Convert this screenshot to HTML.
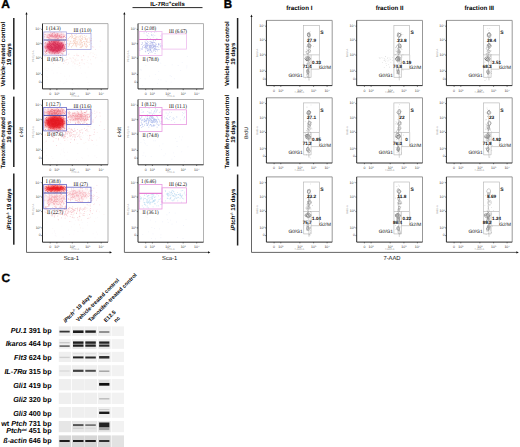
<!DOCTYPE html>
<html><head><meta charset="utf-8"><style>
html,body{margin:0;padding:0;background:#fff;}
body{width:520px;height:447px;overflow:hidden;}
svg{display:block;}
svg text{font-family:"Liberation Sans",sans-serif;text-rendering:geometricPrecision;}
</style></head><body>
<svg width="520" height="447" viewBox="0 0 520 447">
<defs>
<filter id="b1" x="-50%" y="-50%" width="200%" height="200%"><feGaussianBlur stdDeviation="1.8"/></filter>
<filter id="b2" x="-20%" y="-100%" width="140%" height="300%"><feGaussianBlur stdDeviation="0.6"/></filter>
</defs>
<rect width="520" height="447" fill="#fff"/>
<text x="1.2" y="8.3" font-size="12" font-weight="bold" text-anchor="start" fill="#000" stroke="#000" stroke-width="0.35">A</text>
<text x="223.7" y="8.4" font-size="11.6" font-weight="bold" text-anchor="start" fill="#000" stroke="#000" stroke-width="0.35">B</text>
<text x="1.5" y="282.3" font-size="12" font-weight="bold" text-anchor="start" fill="#000" stroke="#000" stroke-width="0.35">C</text>
<rect x="13.05" y="18" width="1.5" height="71.5" fill="#222" stroke="none" stroke-width="1"/>
<rect x="13.05" y="96.6" width="1.5" height="70.4" fill="#222" stroke="none" stroke-width="1"/>
<rect x="13.05" y="173.5" width="1.5" height="71.2" fill="#222" stroke="none" stroke-width="1"/>
<text x="5.3" y="54.2" font-size="6.0" font-weight="bold" text-anchor="middle" fill="#000" transform="rotate(-90 5.3 54.2)">Vehicle-treated control</text>
<text x="11" y="54.2" font-size="6.0" font-weight="bold" text-anchor="middle" fill="#000" transform="rotate(-90 11 54.2)">19 days</text>
<text x="5.3" y="131.8" font-size="6.0" font-weight="bold" text-anchor="middle" fill="#000" transform="rotate(-90 5.3 131.8)">Tamoxifen-treated control</text>
<text x="11" y="131.8" font-size="6.0" font-weight="bold" text-anchor="middle" fill="#000" transform="rotate(-90 11 131.8)">19 days</text>
<text x="11" y="209.2" font-size="6" font-weight="bold" text-anchor="middle" transform="rotate(-90 11 209.2)"><tspan font-style="italic">iPtch</tspan><tspan font-size="3.6" dy="-2">-/-</tspan><tspan dy="2"> 19 days</tspan></text>
<rect x="236.85" y="18" width="1.5" height="70.5" fill="#222" stroke="none" stroke-width="1"/>
<rect x="236.85" y="97" width="1.5" height="69.5" fill="#222" stroke="none" stroke-width="1"/>
<rect x="236.85" y="174.5" width="1.5" height="71" fill="#222" stroke="none" stroke-width="1"/>
<text x="229" y="53.7" font-size="6.0" font-weight="bold" text-anchor="middle" fill="#000" transform="rotate(-90 229 53.7)">Vehicle-treated control</text>
<text x="234.7" y="53.7" font-size="6.0" font-weight="bold" text-anchor="middle" fill="#000" transform="rotate(-90 234.7 53.7)">19 days</text>
<text x="229" y="131.7" font-size="6.0" font-weight="bold" text-anchor="middle" fill="#000" transform="rotate(-90 229 131.7)">Tamoxifen-treated control</text>
<text x="234.7" y="131.7" font-size="6.0" font-weight="bold" text-anchor="middle" fill="#000" transform="rotate(-90 234.7 131.7)">19 days</text>
<text x="234.7" y="209.5" font-size="6" font-weight="bold" text-anchor="middle" transform="rotate(-90 234.7 209.5)"><tspan font-style="italic">iPtch</tspan><tspan font-size="3.6" dy="-2">-/-</tspan><tspan dy="2"> 19 days</tspan></text>
<line x1="26.5" y1="13" x2="26.5" y2="252.4" stroke="#555" stroke-width="0.9"/>
<path d="M25.4 14.4L26.5 12L27.6 14.4z" fill="#111"/>
<line x1="26.5" y1="252.4" x2="110.5" y2="252.4" stroke="#555" stroke-width="0.9"/>
<path d="M109.6 251.3L112 252.4L109.6 253.5z" fill="#111"/>
<text x="71.3" y="259.8" font-size="5.8" font-weight="normal" text-anchor="middle" fill="#111">Sca-1</text>
<text x="23.5" y="132.3" font-size="5.5" font-weight="normal" text-anchor="middle" fill="#111" transform="rotate(-90 23.5 132.3)">c-kit</text>
<line x1="124.4" y1="13" x2="124.4" y2="252.4" stroke="#555" stroke-width="0.9"/>
<path d="M123.3 14.4L124.4 12L125.5 14.4z" fill="#111"/>
<line x1="124.4" y1="252.4" x2="208.9" y2="252.4" stroke="#555" stroke-width="0.9"/>
<path d="M208 251.3L210.4 252.4L208 253.5z" fill="#111"/>
<text x="169.7" y="259.8" font-size="5.8" font-weight="normal" text-anchor="middle" fill="#111">Sca-1</text>
<text x="121.4" y="132.3" font-size="5.5" font-weight="normal" text-anchor="middle" fill="#111" transform="rotate(-90 121.4 132.3)">c-kit</text>
<text x="167.5" y="6.0" font-size="6" font-weight="bold" text-anchor="middle">IL-7R<tspan font-weight="normal">α</tspan><tspan font-size="4.6" dy="-2.2">+</tspan><tspan dy="2.2">cells</tspan></text>
<line x1="132.5" y1="7.6" x2="202.5" y2="7.6" stroke="#111" stroke-width="0.9"/>
<path d="M60.99 58.28h0.8v0.8h-0.8zM78.65 55.64h0.8v0.8h-0.8zM72.44 65.52h0.8v0.8h-0.8zM46.63 70.3h0.8v0.8h-0.8zM45.52 67.81h0.8v0.8h-0.8zM47.27 56.26h0.8v0.8h-0.8zM66.42 81.06h0.8v0.8h-0.8zM50.19 60.72h0.8v0.8h-0.8zM77.38 85.14h0.8v0.8h-0.8zM74.66 66.57h0.8v0.8h-0.8zM96.22 54.77h0.8v0.8h-0.8zM89.86 62.96h0.8v0.8h-0.8zM51.29 57.17h0.8v0.8h-0.8zM60.16 80.7h0.8v0.8h-0.8zM53.26 72.8h0.8v0.8h-0.8zM78 65.75h0.8v0.8h-0.8zM73.08 55.32h0.8v0.8h-0.8zM46.72 60.14h0.8v0.8h-0.8zM80.24 67.61h0.8v0.8h-0.8zM60.46 72.93h0.8v0.8h-0.8zM67.97 63.3h0.8v0.8h-0.8zM86.4 76.76h0.8v0.8h-0.8zM56.68 72.56h0.8v0.8h-0.8zM71.86 82.69h0.8v0.8h-0.8zM82.89 62.9h0.8v0.8h-0.8zM96.43 57.18h0.8v0.8h-0.8zM66.08 78.72h0.8v0.8h-0.8zM51.71 69.68h0.8v0.8h-0.8zM45.62 75.72h0.8v0.8h-0.8zM84.79 72.51h0.8v0.8h-0.8zM90.78 63.77h0.8v0.8h-0.8zM81.05 73.23h0.8v0.8h-0.8zM74.81 68.57h0.8v0.8h-0.8zM88.86 85.04h0.8v0.8h-0.8zM69.1 75.58h0.8v0.8h-0.8zM46.78 76.84h0.8v0.8h-0.8zM78.44 86.67h0.8v0.8h-0.8zM87.88 62.79h0.8v0.8h-0.8zM64.33 75.73h0.8v0.8h-0.8zM44.72 68.76h0.8v0.8h-0.8zM52.57 57.15h0.8v0.8h-0.8zM46.68 79.09h0.8v0.8h-0.8zM50.48 61.54h0.8v0.8h-0.8zM64.61 82.57h0.8v0.8h-0.8zM47.85 68.34h0.8v0.8h-0.8zM73.17 82.97h0.8v0.8h-0.8zM87.74 82.32h0.8v0.8h-0.8zM58.53 67.2h0.8v0.8h-0.8zM62.87 83h0.8v0.8h-0.8zM95.22 58.29h0.8v0.8h-0.8z" fill="#e0c8dc" fill-opacity="0.2"/>
<path d="M81.4 62.45h0.8v0.8h-0.8zM78.94 64.93h0.8v0.8h-0.8zM69.56 57.13h0.8v0.8h-0.8zM90 59.33h0.8v0.8h-0.8zM66.93 63.93h0.8v0.8h-0.8zM95.09 56.98h0.8v0.8h-0.8zM60.94 58.53h0.8v0.8h-0.8zM75.71 57.71h0.8v0.8h-0.8zM94.36 54.07h0.8v0.8h-0.8zM92.63 52.86h0.8v0.8h-0.8zM68.06 62.36h0.8v0.8h-0.8zM91.04 63.5h0.8v0.8h-0.8zM81.64 59.91h0.8v0.8h-0.8zM79.33 62.08h0.8v0.8h-0.8zM75.39 60.59h0.8v0.8h-0.8zM84.37 59.2h0.8v0.8h-0.8zM86.67 62.03h0.8v0.8h-0.8zM101.63 60.82h0.8v0.8h-0.8zM72.37 57.34h0.8v0.8h-0.8zM77.34 63.82h0.8v0.8h-0.8zM73.46 61.13h0.8v0.8h-0.8zM99.55 46.38h0.8v0.8h-0.8zM64.01 60.42h0.8v0.8h-0.8zM82.28 60.39h0.8v0.8h-0.8zM72.33 62.48h0.8v0.8h-0.8zM80.89 56.59h0.8v0.8h-0.8zM70.85 58.7h0.8v0.8h-0.8zM74.79 58.89h0.8v0.8h-0.8zM44.76 56.77h0.8v0.8h-0.8zM89.6 53.36h0.8v0.8h-0.8zM76.7 63.97h0.8v0.8h-0.8zM87.77 66.66h0.8v0.8h-0.8zM57.08 57.43h0.8v0.8h-0.8zM73.41 62.32h0.8v0.8h-0.8zM90.6 45.79h0.8v0.8h-0.8zM90.56 51.96h0.8v0.8h-0.8zM85.7 51.74h0.8v0.8h-0.8zM79.61 65.17h0.8v0.8h-0.8zM75.71 60.16h0.8v0.8h-0.8zM87.07 59.91h0.8v0.8h-0.8z" fill="#f0c0b0" fill-opacity="0.25"/>
<path d="M63.35 63.1h0.8v0.8h-0.8zM78.13 54.88h0.8v0.8h-0.8zM76.39 55h0.8v0.8h-0.8zM66.22 59.37h0.8v0.8h-0.8zM67.39 59.07h0.8v0.8h-0.8zM80.96 59.56h0.8v0.8h-0.8zM74.46 63.35h0.8v0.8h-0.8zM52.93 63.22h0.8v0.8h-0.8zM77.34 55.4h0.8v0.8h-0.8zM63.25 53.49h0.8v0.8h-0.8zM69.69 58.04h0.8v0.8h-0.8zM79.27 62.89h0.8v0.8h-0.8zM83.38 55.39h0.8v0.8h-0.8zM54.83 60.78h0.8v0.8h-0.8zM66 56.76h0.8v0.8h-0.8zM83.01 55.01h0.8v0.8h-0.8zM68.62 53.45h0.8v0.8h-0.8zM64.38 59.95h0.8v0.8h-0.8zM65.53 62.17h0.8v0.8h-0.8zM63.7 60.88h0.8v0.8h-0.8zM83.89 63.44h0.8v0.8h-0.8zM55.77 60.16h0.8v0.8h-0.8zM48.48 56.14h0.8v0.8h-0.8zM62 56.07h0.8v0.8h-0.8zM56.81 57.25h0.8v0.8h-0.8zM87.79 56.4h0.8v0.8h-0.8zM71.4 60.7h0.8v0.8h-0.8zM57.28 61.03h0.8v0.8h-0.8zM77.6 59.77h0.8v0.8h-0.8zM64.6 59.82h0.8v0.8h-0.8zM44.17 53.32h0.8v0.8h-0.8zM76.5 53.66h0.8v0.8h-0.8zM52.77 52.73h0.8v0.8h-0.8zM44.59 55.67h0.8v0.8h-0.8zM49.17 57.84h0.8v0.8h-0.8zM73.92 54.96h0.8v0.8h-0.8zM68.28 54.14h0.8v0.8h-0.8zM74.64 59.56h0.8v0.8h-0.8zM73.16 57.67h0.8v0.8h-0.8zM81.84 59.17h0.8v0.8h-0.8z" fill="#f09098" fill-opacity="0.35"/>
<path d="M94.98 49.26h0.8v0.8h-0.8zM89.02 38.58h0.8v0.8h-0.8zM92.84 55.94h0.8v0.8h-0.8zM85.86 45.54h0.8v0.8h-0.8zM99.93 40.68h0.8v0.8h-0.8zM93.31 46.82h0.8v0.8h-0.8zM85.97 40.87h0.8v0.8h-0.8zM91.96 46.35h0.8v0.8h-0.8zM90.33 40.23h0.8v0.8h-0.8zM85.42 39.25h0.8v0.8h-0.8z" fill="#f07888" fill-opacity="0.3"/>
<ellipse cx="55" cy="46.8" rx="10" ry="6.5" fill="#e02850" opacity="0.8" filter="url(#b1)"/>
<path d="M59.9 46.91h0.8v0.8h-0.8zM50.31 43.13h0.8v0.8h-0.8zM58.42 48.42h0.8v0.8h-0.8zM64.26 48.21h0.8v0.8h-0.8zM54.63 48.59h0.8v0.8h-0.8zM44.31 50.63h0.8v0.8h-0.8zM56.79 43.69h0.8v0.8h-0.8zM62.29 53.74h0.8v0.8h-0.8zM47.29 43.83h0.8v0.8h-0.8zM56.6 47.23h0.8v0.8h-0.8zM52.81 42.6h0.8v0.8h-0.8zM48.43 41.12h0.8v0.8h-0.8zM64.37 50.46h0.8v0.8h-0.8zM65.02 49.74h0.8v0.8h-0.8zM50.2 47.54h0.8v0.8h-0.8zM54.68 48.59h0.8v0.8h-0.8zM51 46h0.8v0.8h-0.8zM57.52 48.01h0.8v0.8h-0.8zM58.51 47.34h0.8v0.8h-0.8zM53.22 49.66h0.8v0.8h-0.8zM55.27 43.2h0.8v0.8h-0.8zM51.56 46.5h0.8v0.8h-0.8zM54.4 47.13h0.8v0.8h-0.8zM55 47.2h0.8v0.8h-0.8zM54.26 41.47h0.8v0.8h-0.8zM57.32 50.71h0.8v0.8h-0.8zM57.39 45.74h0.8v0.8h-0.8zM57.46 42.64h0.8v0.8h-0.8zM44.57 46.74h0.8v0.8h-0.8zM49.88 49.46h0.8v0.8h-0.8zM49.28 52.81h0.8v0.8h-0.8zM52.9 41.02h0.8v0.8h-0.8zM50.8 48.58h0.8v0.8h-0.8zM57.73 47.21h0.8v0.8h-0.8zM63.16 49.33h0.8v0.8h-0.8zM54.88 48.89h0.8v0.8h-0.8zM64.1 50.39h0.8v0.8h-0.8zM60.63 42.17h0.8v0.8h-0.8zM54.18 49.42h0.8v0.8h-0.8zM53.37 50.78h0.8v0.8h-0.8zM58.28 50.13h0.8v0.8h-0.8zM61.82 45.64h0.8v0.8h-0.8zM53.11 50h0.8v0.8h-0.8zM60.39 46.53h0.8v0.8h-0.8zM48.58 47.25h0.8v0.8h-0.8zM56.98 51.02h0.8v0.8h-0.8zM59.31 46.6h0.8v0.8h-0.8zM59.69 48.66h0.8v0.8h-0.8zM56.13 46.72h0.8v0.8h-0.8zM53.66 49.24h0.8v0.8h-0.8zM49.2 43.99h0.8v0.8h-0.8zM55.03 40.64h0.8v0.8h-0.8zM51.24 48.77h0.8v0.8h-0.8zM58.12 46.28h0.8v0.8h-0.8zM53.72 40.83h0.8v0.8h-0.8zM65.05 48.56h0.8v0.8h-0.8zM61.01 42.97h0.8v0.8h-0.8zM59.29 50.24h0.8v0.8h-0.8zM44.56 46.29h0.8v0.8h-0.8zM44.96 42.24h0.8v0.8h-0.8zM51.54 40.89h0.8v0.8h-0.8zM55.17 47.5h0.8v0.8h-0.8zM58.49 49.31h0.8v0.8h-0.8zM63.26 51.16h0.8v0.8h-0.8zM47.78 44.48h0.8v0.8h-0.8zM49.17 42.19h0.8v0.8h-0.8zM54.55 46.52h0.8v0.8h-0.8zM57.7 40.15h0.8v0.8h-0.8zM48.19 46.41h0.8v0.8h-0.8zM53.9 45.25h0.8v0.8h-0.8zM54.65 43.46h0.8v0.8h-0.8zM58.86 47.92h0.8v0.8h-0.8zM54.52 43.81h0.8v0.8h-0.8zM49.6 46.65h0.8v0.8h-0.8zM46.73 47.3h0.8v0.8h-0.8zM55.81 40.99h0.8v0.8h-0.8zM53.62 45.24h0.8v0.8h-0.8zM57.53 48.95h0.8v0.8h-0.8zM54.8 43.09h0.8v0.8h-0.8zM54.21 46.24h0.8v0.8h-0.8zM59.04 47.68h0.8v0.8h-0.8zM51.03 41.08h0.8v0.8h-0.8zM52.95 43.54h0.8v0.8h-0.8zM48.88 46.04h0.8v0.8h-0.8zM52.3 46.92h0.8v0.8h-0.8zM57.88 44.85h0.8v0.8h-0.8zM61.06 46.99h0.8v0.8h-0.8zM50.87 47.49h0.8v0.8h-0.8zM56.77 51.62h0.8v0.8h-0.8zM59.22 50.29h0.8v0.8h-0.8zM57.81 45.88h0.8v0.8h-0.8zM57.8 42.19h0.8v0.8h-0.8zM61.5 42.43h0.8v0.8h-0.8zM56.37 54.98h0.8v0.8h-0.8zM53.77 46.58h0.8v0.8h-0.8zM61.4 46.6h0.8v0.8h-0.8zM50.56 47.53h0.8v0.8h-0.8zM58.2 49.34h0.8v0.8h-0.8zM50.75 53.51h0.8v0.8h-0.8zM64.17 46.57h0.8v0.8h-0.8zM56.48 44.79h0.8v0.8h-0.8zM62.78 43.68h0.8v0.8h-0.8zM58.71 44.58h0.8v0.8h-0.8zM51.18 49.37h0.8v0.8h-0.8zM62.34 46.46h0.8v0.8h-0.8zM51.27 49.75h0.8v0.8h-0.8zM54.73 47.74h0.8v0.8h-0.8zM63.38 51.03h0.8v0.8h-0.8zM55.02 49.64h0.8v0.8h-0.8zM51.44 46.32h0.8v0.8h-0.8zM45.38 53.65h0.8v0.8h-0.8zM62.51 41.64h0.8v0.8h-0.8zM46.72 40.02h0.8v0.8h-0.8zM61.47 44.66h0.8v0.8h-0.8zM54.67 45.25h0.8v0.8h-0.8zM54.33 42.15h0.8v0.8h-0.8zM55.13 40.75h0.8v0.8h-0.8zM54.61 47.73h0.8v0.8h-0.8zM57.57 45.57h0.8v0.8h-0.8zM50.03 47.14h0.8v0.8h-0.8zM52.33 52.76h0.8v0.8h-0.8zM59.22 46.04h0.8v0.8h-0.8zM52.41 43.69h0.8v0.8h-0.8zM49.85 45.09h0.8v0.8h-0.8zM56.62 48.56h0.8v0.8h-0.8zM58.13 54.89h0.8v0.8h-0.8zM51.12 46.55h0.8v0.8h-0.8zM52.13 47.18h0.8v0.8h-0.8zM55.85 48.13h0.8v0.8h-0.8zM53.69 47.96h0.8v0.8h-0.8zM55.29 49.59h0.8v0.8h-0.8zM44.59 42.96h0.8v0.8h-0.8zM54.99 42.37h0.8v0.8h-0.8zM49.25 49.01h0.8v0.8h-0.8zM51.43 49.04h0.8v0.8h-0.8zM59.1 47.73h0.8v0.8h-0.8zM57.79 46.08h0.8v0.8h-0.8zM47.25 46.38h0.8v0.8h-0.8zM57.5 44.38h0.8v0.8h-0.8zM54.45 49.5h0.8v0.8h-0.8zM50.17 49.06h0.8v0.8h-0.8zM65.24 44.28h0.8v0.8h-0.8zM55.81 45.9h0.8v0.8h-0.8zM63.47 47.77h0.8v0.8h-0.8zM59.94 43.74h0.8v0.8h-0.8zM54.91 46.46h0.8v0.8h-0.8zM45.23 52.26h0.8v0.8h-0.8zM59.09 45.98h0.8v0.8h-0.8zM57.47 47.97h0.8v0.8h-0.8zM46.76 45.65h0.8v0.8h-0.8zM63.21 44.2h0.8v0.8h-0.8zM49.37 41.06h0.8v0.8h-0.8zM48.28 47.84h0.8v0.8h-0.8zM64.31 48.22h0.8v0.8h-0.8zM52.14 43.8h0.8v0.8h-0.8zM57.91 48.69h0.8v0.8h-0.8zM49.42 41.82h0.8v0.8h-0.8zM56.6 47.49h0.8v0.8h-0.8zM47.81 45.69h0.8v0.8h-0.8zM52.02 48.34h0.8v0.8h-0.8zM54.36 46.16h0.8v0.8h-0.8zM53.06 50.71h0.8v0.8h-0.8zM62.65 45.03h0.8v0.8h-0.8zM59.65 43.47h0.8v0.8h-0.8zM55.4 49.5h0.8v0.8h-0.8zM63.33 44.97h0.8v0.8h-0.8zM54.59 47.29h0.8v0.8h-0.8zM46.76 46.56h0.8v0.8h-0.8zM51.28 47.99h0.8v0.8h-0.8zM55.21 47.54h0.8v0.8h-0.8zM51.98 50.06h0.8v0.8h-0.8zM53.5 44.08h0.8v0.8h-0.8zM57.63 40.23h0.8v0.8h-0.8zM51.27 46.42h0.8v0.8h-0.8zM59.67 45.85h0.8v0.8h-0.8zM56.7 43.88h0.8v0.8h-0.8zM56.66 53.15h0.8v0.8h-0.8zM51.46 46.57h0.8v0.8h-0.8zM55.95 50.6h0.8v0.8h-0.8zM58.33 49.68h0.8v0.8h-0.8zM56.13 47.52h0.8v0.8h-0.8zM60.11 47.98h0.8v0.8h-0.8zM64.15 41.55h0.8v0.8h-0.8zM59.47 45.01h0.8v0.8h-0.8zM60.08 55.12h0.8v0.8h-0.8zM54.97 45.48h0.8v0.8h-0.8zM52.25 43.15h0.8v0.8h-0.8zM51.53 49.06h0.8v0.8h-0.8zM55.2 46.77h0.8v0.8h-0.8zM54.05 50.16h0.8v0.8h-0.8zM57.72 45.93h0.8v0.8h-0.8zM58.66 45.89h0.8v0.8h-0.8zM48.66 52.32h0.8v0.8h-0.8zM57.56 42.67h0.8v0.8h-0.8zM60.93 47.88h0.8v0.8h-0.8zM46.4 52.94h0.8v0.8h-0.8zM56.83 50.07h0.8v0.8h-0.8zM56.09 45.9h0.8v0.8h-0.8zM46.49 50.39h0.8v0.8h-0.8zM55.17 45.35h0.8v0.8h-0.8zM56.93 46.81h0.8v0.8h-0.8zM58.72 45.02h0.8v0.8h-0.8zM52.67 49.2h0.8v0.8h-0.8zM62.35 45.04h0.8v0.8h-0.8zM54.33 52.83h0.8v0.8h-0.8zM53.21 49.44h0.8v0.8h-0.8zM64.23 46.66h0.8v0.8h-0.8zM61.75 43.66h0.8v0.8h-0.8zM56.14 46.19h0.8v0.8h-0.8zM55.63 51.02h0.8v0.8h-0.8zM51.84 48.49h0.8v0.8h-0.8zM49.2 48.49h0.8v0.8h-0.8zM58.15 45.39h0.8v0.8h-0.8zM57.92 40.3h0.8v0.8h-0.8zM59.18 40.32h0.8v0.8h-0.8zM51.17 44.28h0.8v0.8h-0.8zM52.79 49.94h0.8v0.8h-0.8zM55.45 44.91h0.8v0.8h-0.8zM57.99 52.83h0.8v0.8h-0.8zM55.03 47.96h0.8v0.8h-0.8zM61.82 47.57h0.8v0.8h-0.8zM54.78 48.17h0.8v0.8h-0.8zM60.31 49.18h0.8v0.8h-0.8zM53.5 42.28h0.8v0.8h-0.8zM55.57 50.63h0.8v0.8h-0.8zM49.01 42.39h0.8v0.8h-0.8zM53.57 44.75h0.8v0.8h-0.8zM57.48 43.69h0.8v0.8h-0.8zM50.15 44.92h0.8v0.8h-0.8zM54.73 43.84h0.8v0.8h-0.8zM55.07 49.5h0.8v0.8h-0.8zM61.52 53.32h0.8v0.8h-0.8zM50.69 44.82h0.8v0.8h-0.8zM51.01 46.37h0.8v0.8h-0.8zM57.87 41.07h0.8v0.8h-0.8zM57.55 46.39h0.8v0.8h-0.8zM44.96 47.67h0.8v0.8h-0.8zM59.44 47.34h0.8v0.8h-0.8zM57.61 48.27h0.8v0.8h-0.8zM62.17 45.61h0.8v0.8h-0.8zM59.8 44.86h0.8v0.8h-0.8zM59 43.24h0.8v0.8h-0.8zM54.4 53.42h0.8v0.8h-0.8zM57.45 45.87h0.8v0.8h-0.8zM48.7 43.34h0.8v0.8h-0.8zM56.07 50.26h0.8v0.8h-0.8zM57.34 48.6h0.8v0.8h-0.8zM54.77 51.91h0.8v0.8h-0.8zM52.85 44.3h0.8v0.8h-0.8zM59.88 46.75h0.8v0.8h-0.8zM53.47 44.2h0.8v0.8h-0.8zM53.59 48.99h0.8v0.8h-0.8zM56.95 41.66h0.8v0.8h-0.8zM57.34 47.22h0.8v0.8h-0.8zM49.5 49.59h0.8v0.8h-0.8zM53.46 45.16h0.8v0.8h-0.8zM59.38 51.78h0.8v0.8h-0.8zM51.21 48.25h0.8v0.8h-0.8zM52.28 51.28h0.8v0.8h-0.8zM51.44 49.75h0.8v0.8h-0.8zM52.61 48.5h0.8v0.8h-0.8zM54.49 43.83h0.8v0.8h-0.8zM45.96 49.92h0.8v0.8h-0.8zM45.53 51.1h0.8v0.8h-0.8zM51.82 47.08h0.8v0.8h-0.8zM61.94 46.97h0.8v0.8h-0.8zM61.5 49.46h0.8v0.8h-0.8zM50.51 49.94h0.8v0.8h-0.8zM57.73 49.09h0.8v0.8h-0.8zM59.95 49.43h0.8v0.8h-0.8zM55.93 48.47h0.8v0.8h-0.8zM53.19 46.64h0.8v0.8h-0.8zM59.87 44.73h0.8v0.8h-0.8zM61.31 43.35h0.8v0.8h-0.8zM56.47 44.39h0.8v0.8h-0.8zM55.87 43.74h0.8v0.8h-0.8zM46.21 50.87h0.8v0.8h-0.8zM56.67 44.27h0.8v0.8h-0.8zM56.11 50.46h0.8v0.8h-0.8zM49.62 46.06h0.8v0.8h-0.8z" fill="#c81040" fill-opacity="0.55"/>
<ellipse cx="55" cy="35.9" rx="10" ry="2.6" fill="#f07890" opacity="0.45" filter="url(#b1)"/>
<path d="M58.73 36.85h0.8v0.8h-0.8zM53.49 32.11h0.8v0.8h-0.8zM62.96 36.49h0.8v0.8h-0.8zM55.58 35.4h0.8v0.8h-0.8zM57.08 35.13h0.8v0.8h-0.8zM49.35 34.57h0.8v0.8h-0.8zM51.92 34.8h0.8v0.8h-0.8zM48.55 37.05h0.8v0.8h-0.8zM47.64 37.09h0.8v0.8h-0.8zM49.41 36.53h0.8v0.8h-0.8zM63.74 36.27h0.8v0.8h-0.8zM51.12 35.99h0.8v0.8h-0.8zM56.39 32.78h0.8v0.8h-0.8zM51.85 36.19h0.8v0.8h-0.8zM52.68 36.04h0.8v0.8h-0.8zM59.9 37.28h0.8v0.8h-0.8zM60.93 36.96h0.8v0.8h-0.8zM53.77 35.87h0.8v0.8h-0.8zM53.87 35.34h0.8v0.8h-0.8zM54.42 32.8h0.8v0.8h-0.8zM53.5 35.86h0.8v0.8h-0.8zM49.66 35.86h0.8v0.8h-0.8zM58.59 35.6h0.8v0.8h-0.8zM54.26 32.61h0.8v0.8h-0.8zM58.61 35.36h0.8v0.8h-0.8zM60.61 36.57h0.8v0.8h-0.8zM55.64 34.84h0.8v0.8h-0.8zM59.33 35.03h0.8v0.8h-0.8zM56.84 34.98h0.8v0.8h-0.8zM56.71 37.26h0.8v0.8h-0.8zM50.24 35.84h0.8v0.8h-0.8zM59.2 36.16h0.8v0.8h-0.8zM62.95 39.48h0.8v0.8h-0.8zM50.05 32.44h0.8v0.8h-0.8zM60.64 38.65h0.8v0.8h-0.8zM61.03 37.37h0.8v0.8h-0.8zM51.79 34.62h0.8v0.8h-0.8zM60.83 34.26h0.8v0.8h-0.8zM44.62 34.1h0.8v0.8h-0.8zM51.38 34.59h0.8v0.8h-0.8zM56.89 34.55h0.8v0.8h-0.8zM63.36 35.76h0.8v0.8h-0.8zM48.98 38.26h0.8v0.8h-0.8zM52 36.3h0.8v0.8h-0.8zM55.42 35.33h0.8v0.8h-0.8zM57.45 34.65h0.8v0.8h-0.8zM44.43 31.93h0.8v0.8h-0.8zM47.9 34.53h0.8v0.8h-0.8zM55.36 36h0.8v0.8h-0.8zM58.84 36.12h0.8v0.8h-0.8zM50.74 34.62h0.8v0.8h-0.8zM58.41 36.85h0.8v0.8h-0.8zM54.77 35.59h0.8v0.8h-0.8zM61.12 35.93h0.8v0.8h-0.8zM59.93 36.95h0.8v0.8h-0.8zM56.78 38.25h0.8v0.8h-0.8zM52.06 35.25h0.8v0.8h-0.8zM50.65 34.47h0.8v0.8h-0.8zM64.84 39.07h0.8v0.8h-0.8zM55.64 36.92h0.8v0.8h-0.8zM62.55 37.35h0.8v0.8h-0.8zM62.73 33.63h0.8v0.8h-0.8zM51.66 36.71h0.8v0.8h-0.8zM64.11 36.09h0.8v0.8h-0.8zM50.35 35.26h0.8v0.8h-0.8zM51.54 34.36h0.8v0.8h-0.8zM64.51 34.77h0.8v0.8h-0.8zM55.62 39.79h0.8v0.8h-0.8zM62.61 36.51h0.8v0.8h-0.8zM51.83 36.64h0.8v0.8h-0.8zM65.23 37.02h0.8v0.8h-0.8zM63.07 36.08h0.8v0.8h-0.8zM58.6 35.54h0.8v0.8h-0.8zM58.06 38.24h0.8v0.8h-0.8zM46.91 35.79h0.8v0.8h-0.8zM56.94 34.87h0.8v0.8h-0.8zM53.65 37.32h0.8v0.8h-0.8zM57.46 33.11h0.8v0.8h-0.8zM55.3 33.89h0.8v0.8h-0.8zM55.16 33.93h0.8v0.8h-0.8zM55.93 36.74h0.8v0.8h-0.8zM55.69 36.4h0.8v0.8h-0.8zM50.39 38.47h0.8v0.8h-0.8zM51.58 32.63h0.8v0.8h-0.8zM54.37 34.53h0.8v0.8h-0.8zM49.44 35.26h0.8v0.8h-0.8zM57.25 33.77h0.8v0.8h-0.8zM54.67 38.47h0.8v0.8h-0.8zM59.6 35.63h0.8v0.8h-0.8zM56.27 35.68h0.8v0.8h-0.8zM55.21 37.22h0.8v0.8h-0.8zM55.37 34.3h0.8v0.8h-0.8zM59.41 34.8h0.8v0.8h-0.8zM56.39 39.82h0.8v0.8h-0.8zM49.22 33.88h0.8v0.8h-0.8zM44.23 36.56h0.8v0.8h-0.8zM51.67 32.54h0.8v0.8h-0.8zM46.6 37.01h0.8v0.8h-0.8zM50.85 35.24h0.8v0.8h-0.8zM57.48 38.34h0.8v0.8h-0.8zM56.36 36.23h0.8v0.8h-0.8zM66.31 38.47h0.8v0.8h-0.8zM53.64 36.72h0.8v0.8h-0.8zM57.22 35.99h0.8v0.8h-0.8zM52.5 33.51h0.8v0.8h-0.8zM52.3 33.12h0.8v0.8h-0.8zM62.84 36.87h0.8v0.8h-0.8zM48.26 38.41h0.8v0.8h-0.8zM60.85 32.46h0.8v0.8h-0.8zM58.68 36.66h0.8v0.8h-0.8z" fill="#e04060" fill-opacity="0.5"/>
<path d="M79.91 41.5h0.8v0.8h-0.8zM85.87 35.67h0.8v0.8h-0.8zM69.81 36.02h0.8v0.8h-0.8zM74.6 38.78h0.8v0.8h-0.8zM81.07 41.83h0.8v0.8h-0.8zM78.72 38.53h0.8v0.8h-0.8zM75.41 44.23h0.8v0.8h-0.8zM83.85 41.25h0.8v0.8h-0.8zM76.24 46.34h0.8v0.8h-0.8zM74.34 43.17h0.8v0.8h-0.8zM86.58 39.97h0.8v0.8h-0.8zM84.28 37h0.8v0.8h-0.8zM85.59 41.6h0.8v0.8h-0.8zM67.39 43.24h0.8v0.8h-0.8zM72.25 45.39h0.8v0.8h-0.8zM73.75 40.32h0.8v0.8h-0.8zM80.48 39.74h0.8v0.8h-0.8zM80.32 38.96h0.8v0.8h-0.8zM83.2 40.92h0.8v0.8h-0.8zM86.63 41.01h0.8v0.8h-0.8zM81.77 44.65h0.8v0.8h-0.8zM70.92 46.31h0.8v0.8h-0.8zM77.38 49.28h0.8v0.8h-0.8zM77.48 43.28h0.8v0.8h-0.8zM75.93 36.99h0.8v0.8h-0.8zM86.18 44.07h0.8v0.8h-0.8zM89.27 43.9h0.8v0.8h-0.8zM74.49 35.08h0.8v0.8h-0.8zM73.95 38.54h0.8v0.8h-0.8zM72.79 42.94h0.8v0.8h-0.8zM80.79 39.96h0.8v0.8h-0.8zM79.71 40.39h0.8v0.8h-0.8zM79.99 43.53h0.8v0.8h-0.8zM85.22 38.5h0.8v0.8h-0.8zM67.95 45.9h0.8v0.8h-0.8zM79.3 44.77h0.8v0.8h-0.8zM67 39.75h0.8v0.8h-0.8zM78.69 35.85h0.8v0.8h-0.8zM74.89 43.44h0.8v0.8h-0.8zM86.05 46.48h0.8v0.8h-0.8zM72.45 36h0.8v0.8h-0.8zM82.14 44.19h0.8v0.8h-0.8zM79.85 36.34h0.8v0.8h-0.8zM83.97 43.67h0.8v0.8h-0.8zM82.37 39.2h0.8v0.8h-0.8zM80.63 43.67h0.8v0.8h-0.8zM74.59 34.45h0.8v0.8h-0.8zM80.8 42.58h0.8v0.8h-0.8zM78.59 44.01h0.8v0.8h-0.8zM74.39 40.61h0.8v0.8h-0.8zM76.36 42.9h0.8v0.8h-0.8zM89.67 40.02h0.8v0.8h-0.8zM84.03 42.95h0.8v0.8h-0.8zM90.9 40.27h0.8v0.8h-0.8zM77.72 37.18h0.8v0.8h-0.8zM81.81 45.61h0.8v0.8h-0.8zM82.23 42.38h0.8v0.8h-0.8zM77.1 41.49h0.8v0.8h-0.8zM68.52 44.57h0.8v0.8h-0.8zM75.63 37.03h0.8v0.8h-0.8zM73.24 38.01h0.8v0.8h-0.8zM84.49 44.6h0.8v0.8h-0.8zM69 44.14h0.8v0.8h-0.8zM84.72 38.87h0.8v0.8h-0.8zM68.09 38.29h0.8v0.8h-0.8zM74.06 42.1h0.8v0.8h-0.8zM76 33.8h0.8v0.8h-0.8zM80.14 35.53h0.8v0.8h-0.8zM84.84 36.68h0.8v0.8h-0.8zM73.65 37.91h0.8v0.8h-0.8zM74.7 45.44h0.8v0.8h-0.8zM84.46 43.01h0.8v0.8h-0.8zM80.74 35.48h0.8v0.8h-0.8zM74.86 38.97h0.8v0.8h-0.8zM71.66 42.68h0.8v0.8h-0.8zM73.31 38.42h0.8v0.8h-0.8zM71.19 33.7h0.8v0.8h-0.8zM82.67 45.56h0.8v0.8h-0.8zM79.72 37.48h0.8v0.8h-0.8zM87.01 41.94h0.8v0.8h-0.8zM84.99 46.07h0.8v0.8h-0.8zM86.39 39.36h0.8v0.8h-0.8zM85.87 43.61h0.8v0.8h-0.8zM67.74 39.48h0.8v0.8h-0.8zM68.53 40.52h0.8v0.8h-0.8zM82.55 37.16h0.8v0.8h-0.8zM81.14 46.05h0.8v0.8h-0.8zM69.23 44.61h0.8v0.8h-0.8zM77.03 41.84h0.8v0.8h-0.8zM77.42 44.39h0.8v0.8h-0.8zM85.76 41.2h0.8v0.8h-0.8zM68.99 43.49h0.8v0.8h-0.8zM75.21 43.1h0.8v0.8h-0.8zM80.34 46.58h0.8v0.8h-0.8zM86.46 39.32h0.8v0.8h-0.8zM80.94 47.07h0.8v0.8h-0.8zM74.74 42.42h0.8v0.8h-0.8zM86.84 45.3h0.8v0.8h-0.8zM82.13 36.28h0.8v0.8h-0.8zM69.67 41.77h0.8v0.8h-0.8zM72.47 44.88h0.8v0.8h-0.8zM83.89 35.05h0.8v0.8h-0.8zM72.77 41.48h0.8v0.8h-0.8zM75.05 40.36h0.8v0.8h-0.8zM81.79 38.07h0.8v0.8h-0.8zM81.76 38.67h0.8v0.8h-0.8zM74.69 42.78h0.8v0.8h-0.8zM74.49 41.91h0.8v0.8h-0.8zM89.7 40.99h0.8v0.8h-0.8zM77.48 43.47h0.8v0.8h-0.8zM75.94 44.69h0.8v0.8h-0.8zM69.52 43.06h0.8v0.8h-0.8zM74.92 38.1h0.8v0.8h-0.8zM90.89 37.92h0.8v0.8h-0.8zM90.8 43.2h0.8v0.8h-0.8zM88.67 37.48h0.8v0.8h-0.8zM86.89 46h0.8v0.8h-0.8zM77.69 40.45h0.8v0.8h-0.8zM75.54 38.7h0.8v0.8h-0.8zM81.62 42.06h0.8v0.8h-0.8zM79.74 46.93h0.8v0.8h-0.8zM76.21 42.56h0.8v0.8h-0.8zM88.71 37.39h0.8v0.8h-0.8zM85.77 47.31h0.8v0.8h-0.8zM69.02 37.06h0.8v0.8h-0.8zM71.23 34.44h0.8v0.8h-0.8zM81.67 34.4h0.8v0.8h-0.8zM81.99 45.99h0.8v0.8h-0.8zM67.19 39.79h0.8v0.8h-0.8zM73.34 39.97h0.8v0.8h-0.8zM78.88 42.81h0.8v0.8h-0.8zM76.07 40.95h0.8v0.8h-0.8zM74.67 41.3h0.8v0.8h-0.8zM70.29 41.12h0.8v0.8h-0.8zM69.68 41.8h0.8v0.8h-0.8zM71.69 35.12h0.8v0.8h-0.8zM73.34 43.48h0.8v0.8h-0.8zM81.19 40.56h0.8v0.8h-0.8zM72.01 37.12h0.8v0.8h-0.8zM87.95 41.76h0.8v0.8h-0.8zM71.84 33.51h0.8v0.8h-0.8zM70.46 40.63h0.8v0.8h-0.8zM79.97 40.35h0.8v0.8h-0.8zM76.55 36.09h0.8v0.8h-0.8zM71.14 46.81h0.8v0.8h-0.8zM73.21 43.86h0.8v0.8h-0.8zM66.64 39.94h0.8v0.8h-0.8zM80.33 44.53h0.8v0.8h-0.8zM70.64 42.98h0.8v0.8h-0.8zM81.2 38.32h0.8v0.8h-0.8zM81.84 37.76h0.8v0.8h-0.8zM72.93 40.83h0.8v0.8h-0.8zM71.5 35.78h0.8v0.8h-0.8zM75.52 43.57h0.8v0.8h-0.8zM75.67 45.33h0.8v0.8h-0.8zM70.38 36.31h0.8v0.8h-0.8zM89.36 42.3h0.8v0.8h-0.8zM85.12 38.01h0.8v0.8h-0.8zM84.13 41.81h0.8v0.8h-0.8zM83.04 40.99h0.8v0.8h-0.8zM86.94 38.63h0.8v0.8h-0.8zM71.75 35.73h0.8v0.8h-0.8zM86.62 38.32h0.8v0.8h-0.8zM71.2 37.61h0.8v0.8h-0.8zM75.38 36.45h0.8v0.8h-0.8zM76.47 38.7h0.8v0.8h-0.8zM74.64 37.54h0.8v0.8h-0.8zM78.76 39.29h0.8v0.8h-0.8zM79.3 41.77h0.8v0.8h-0.8zM74.75 38.11h0.8v0.8h-0.8z" fill="#f0a080" fill-opacity="0.5"/>
<path d="M42.5 23.6H108V88.9" stroke="#a8a8a8" fill="none" stroke-width="0.9"/>
<path d="M42.5 23.6V88.9H108" stroke="#2a2a2a" fill="none" stroke-width="1"/>
<rect x="43.7" y="31.9" width="22.8" height="23.3" fill="none" stroke="#a8a8e0" stroke-width="0.8"/>
<line x1="43.7" y1="40" x2="66.5" y2="40" stroke="#5050a0" stroke-width="1.0"/>
<rect x="66.5" y="33.4" width="24.5" height="16" fill="none" stroke="#a8a8e0" stroke-width="0.8"/>
<text x="46.1" y="30.3" font-size="5.8" font-weight="normal" text-anchor="start" fill="#000" style="font-family:'Liberation Serif',serif" textLength="14.4" lengthAdjust="spacingAndGlyphs">I (14.3)</text>
<text x="46.9" y="60.6" font-size="5.8" font-weight="normal" text-anchor="start" fill="#000" style="font-family:'Liberation Serif',serif" textLength="16.2" lengthAdjust="spacingAndGlyphs">II (83.7)</text>
<text x="73.5" y="32" font-size="5.8" font-weight="normal" text-anchor="start" fill="#000" style="font-family:'Liberation Serif',serif" textLength="18" lengthAdjust="spacingAndGlyphs">III (11.0)</text>
<path d="M41.3 29.4h1.2M41.3 43.8h1.2M41.3 58.3h1.2M41.3 74.6h1.2M41.3 82.3h1.2M50.2 88.9v1.2M56.9 88.9v1.2M72.3 88.9v1.2M87.7 88.9v1.2M101.2 88.9v1.2" stroke="#333" stroke-width="0.7" fill="none"/>
<text x="40.7" y="30.2" font-size="3.5" font-weight="normal" text-anchor="end" fill="#444">10⁴</text>
<text x="40.7" y="44.6" font-size="3.5" font-weight="normal" text-anchor="end" fill="#444">10³</text>
<text x="40.7" y="59.1" font-size="3.5" font-weight="normal" text-anchor="end" fill="#444">10²</text>
<text x="40.7" y="75.4" font-size="3.5" font-weight="normal" text-anchor="end" fill="#444">10¹</text>
<text x="40.7" y="83.1" font-size="3.5" font-weight="normal" text-anchor="end" fill="#444">0</text>
<text x="50.2" y="94.9" font-size="3.5" font-weight="normal" text-anchor="middle" fill="#444">0</text>
<text x="56.9" y="94.9" font-size="3.5" font-weight="normal" text-anchor="middle" fill="#444">10¹</text>
<text x="72.3" y="94.9" font-size="3.5" font-weight="normal" text-anchor="middle" fill="#444">10²</text>
<text x="87.7" y="94.9" font-size="3.5" font-weight="normal" text-anchor="middle" fill="#444">10³</text>
<text x="101.2" y="94.9" font-size="3.5" font-weight="normal" text-anchor="middle" fill="#444">10⁴</text>
<text x="33.9" y="56.25" font-size="2.6" font-weight="normal" text-anchor="middle" fill="#999" transform="rotate(-90 33.9 56.25)">PE-Cy7-A</text>
<text x="75.25" y="96.7" font-size="2.4" font-weight="normal" text-anchor="middle" fill="#999">FITC-A</text>
<path d="M87.92 155.56h0.8v0.8h-0.8zM73.85 137.65h0.8v0.8h-0.8zM59.81 143.2h0.8v0.8h-0.8zM60.7 143.5h0.8v0.8h-0.8zM78.16 160.56h0.8v0.8h-0.8zM46.45 148.14h0.8v0.8h-0.8zM45.63 132.93h0.8v0.8h-0.8zM87.26 148.4h0.8v0.8h-0.8zM93.11 144.04h0.8v0.8h-0.8zM44.26 142.02h0.8v0.8h-0.8zM75.47 160.69h0.8v0.8h-0.8zM96.46 145.02h0.8v0.8h-0.8zM65.77 132.36h0.8v0.8h-0.8zM78.3 136.1h0.8v0.8h-0.8zM51.7 129.43h0.8v0.8h-0.8zM43.76 152.08h0.8v0.8h-0.8zM50.07 161.66h0.8v0.8h-0.8zM48.26 158.38h0.8v0.8h-0.8zM50.46 129.5h0.8v0.8h-0.8zM82.34 137.11h0.8v0.8h-0.8zM83.11 135.25h0.8v0.8h-0.8zM46.21 155.14h0.8v0.8h-0.8zM82.03 157.9h0.8v0.8h-0.8zM82.9 131.76h0.8v0.8h-0.8zM77.45 152.94h0.8v0.8h-0.8zM68.37 160.51h0.8v0.8h-0.8zM57.22 161.59h0.8v0.8h-0.8zM82.23 129.29h0.8v0.8h-0.8zM44.3 150.96h0.8v0.8h-0.8zM87.64 131.6h0.8v0.8h-0.8zM60.3 153.63h0.8v0.8h-0.8zM52.46 158.09h0.8v0.8h-0.8zM69.76 130.93h0.8v0.8h-0.8zM63.35 148.39h0.8v0.8h-0.8zM67.19 151.85h0.8v0.8h-0.8zM51.32 155.93h0.8v0.8h-0.8zM63.12 150.76h0.8v0.8h-0.8zM77.5 143.07h0.8v0.8h-0.8zM64.33 155.55h0.8v0.8h-0.8zM94.53 155.5h0.8v0.8h-0.8zM74.11 138.81h0.8v0.8h-0.8zM46.77 161.92h0.8v0.8h-0.8zM81.48 156.95h0.8v0.8h-0.8zM61.43 149.44h0.8v0.8h-0.8zM96.28 157.08h0.8v0.8h-0.8zM75.96 139.36h0.8v0.8h-0.8zM66.64 159.01h0.8v0.8h-0.8zM63.84 152.12h0.8v0.8h-0.8zM76 159.28h0.8v0.8h-0.8zM87.1 138.5h0.8v0.8h-0.8z" fill="#e0c8dc" fill-opacity="0.2"/>
<path d="M86.88 134.94h0.8v0.8h-0.8zM63.4 138.01h0.8v0.8h-0.8zM87.6 125.33h0.8v0.8h-0.8zM99.41 137.39h0.8v0.8h-0.8zM86.62 125.6h0.8v0.8h-0.8zM68.86 133.15h0.8v0.8h-0.8zM90.43 127.6h0.8v0.8h-0.8zM66.89 124.75h0.8v0.8h-0.8zM74.61 136.63h0.8v0.8h-0.8zM57.27 131.94h0.8v0.8h-0.8zM83.62 142.83h0.8v0.8h-0.8zM85.47 133.38h0.8v0.8h-0.8zM63.37 130.22h0.8v0.8h-0.8zM69.53 135.64h0.8v0.8h-0.8zM76.9 143.24h0.8v0.8h-0.8zM80.95 129.54h0.8v0.8h-0.8zM96.03 139.65h0.8v0.8h-0.8zM78.71 131.29h0.8v0.8h-0.8zM55.05 129.79h0.8v0.8h-0.8zM88.44 130.89h0.8v0.8h-0.8zM61.66 135.88h0.8v0.8h-0.8zM80.43 137.93h0.8v0.8h-0.8zM85.37 141.95h0.8v0.8h-0.8zM67.43 139.79h0.8v0.8h-0.8zM65.65 138.37h0.8v0.8h-0.8zM79.65 136.12h0.8v0.8h-0.8zM89.11 134.81h0.8v0.8h-0.8zM90.85 139.28h0.8v0.8h-0.8zM79.13 132.07h0.8v0.8h-0.8zM68.46 132.26h0.8v0.8h-0.8zM75.07 134.78h0.8v0.8h-0.8zM86.73 130.6h0.8v0.8h-0.8zM68.97 133.3h0.8v0.8h-0.8zM79.81 129.72h0.8v0.8h-0.8zM96.84 132.08h0.8v0.8h-0.8zM90.44 123.22h0.8v0.8h-0.8zM77.42 136.29h0.8v0.8h-0.8zM79.8 137.91h0.8v0.8h-0.8zM80.86 135.71h0.8v0.8h-0.8zM54.79 131.33h0.8v0.8h-0.8z" fill="#f0c0b0" fill-opacity="0.25"/>
<path d="M68.5 131.02h0.8v0.8h-0.8zM53.82 129.28h0.8v0.8h-0.8zM88.49 139.69h0.8v0.8h-0.8zM63.74 137.7h0.8v0.8h-0.8zM58.22 127.96h0.8v0.8h-0.8zM57.23 132.75h0.8v0.8h-0.8zM103.82 128.93h0.8v0.8h-0.8zM65.14 133.14h0.8v0.8h-0.8zM64.05 136.09h0.8v0.8h-0.8zM66.6 130.71h0.8v0.8h-0.8zM71.33 132.76h0.8v0.8h-0.8zM59.64 128.5h0.8v0.8h-0.8zM73.57 134.35h0.8v0.8h-0.8zM64.21 134.21h0.8v0.8h-0.8zM56.65 132.22h0.8v0.8h-0.8zM65.02 134.39h0.8v0.8h-0.8zM63.59 131.26h0.8v0.8h-0.8zM62.75 129h0.8v0.8h-0.8zM93.54 134.21h0.8v0.8h-0.8zM70.08 142.21h0.8v0.8h-0.8zM73.54 135.67h0.8v0.8h-0.8zM89 137.82h0.8v0.8h-0.8zM53.18 133.11h0.8v0.8h-0.8zM59.5 130.1h0.8v0.8h-0.8zM65.29 133.41h0.8v0.8h-0.8zM80.65 139.08h0.8v0.8h-0.8zM63.12 136.51h0.8v0.8h-0.8zM70.27 134.87h0.8v0.8h-0.8zM70.76 128.47h0.8v0.8h-0.8zM71.96 136.45h0.8v0.8h-0.8zM52.85 140.75h0.8v0.8h-0.8zM91.67 140.1h0.8v0.8h-0.8zM90.36 135.24h0.8v0.8h-0.8zM60.1 129.2h0.8v0.8h-0.8zM53.93 132.42h0.8v0.8h-0.8zM64.07 134.92h0.8v0.8h-0.8zM94.09 131.78h0.8v0.8h-0.8zM73.29 134.04h0.8v0.8h-0.8zM68.06 130.96h0.8v0.8h-0.8zM62.9 128.19h0.8v0.8h-0.8zM66.82 131.79h0.8v0.8h-0.8zM68.66 128.05h0.8v0.8h-0.8zM65.01 132.12h0.8v0.8h-0.8zM69.95 136.32h0.8v0.8h-0.8zM72.26 130.24h0.8v0.8h-0.8zM58.11 130.84h0.8v0.8h-0.8zM73.98 138.89h0.8v0.8h-0.8zM62.45 129.01h0.8v0.8h-0.8zM69.39 132.82h0.8v0.8h-0.8zM52.7 128.58h0.8v0.8h-0.8zM63.18 134.92h0.8v0.8h-0.8zM65.92 133.48h0.8v0.8h-0.8zM63.72 130.41h0.8v0.8h-0.8zM68.87 128.13h0.8v0.8h-0.8zM62.21 131.93h0.8v0.8h-0.8zM77 129.16h0.8v0.8h-0.8zM71.6 129.35h0.8v0.8h-0.8zM74.1 139.72h0.8v0.8h-0.8zM59.29 133.89h0.8v0.8h-0.8zM52.44 136.28h0.8v0.8h-0.8zM80.24 132.06h0.8v0.8h-0.8zM49.75 133.71h0.8v0.8h-0.8zM79.44 136.8h0.8v0.8h-0.8zM55.66 138.3h0.8v0.8h-0.8zM48.56 136.99h0.8v0.8h-0.8zM88.97 135.33h0.8v0.8h-0.8zM79.06 130.4h0.8v0.8h-0.8zM48.57 131.44h0.8v0.8h-0.8zM61.91 131.69h0.8v0.8h-0.8zM73.56 131.25h0.8v0.8h-0.8zM66.99 133.81h0.8v0.8h-0.8zM64.43 140.2h0.8v0.8h-0.8zM70.25 132.28h0.8v0.8h-0.8zM61.8 129.09h0.8v0.8h-0.8zM81.98 132.58h0.8v0.8h-0.8zM50.48 129.37h0.8v0.8h-0.8zM62.72 129.9h0.8v0.8h-0.8zM70.9 132.55h0.8v0.8h-0.8zM49.19 132.11h0.8v0.8h-0.8zM63.27 134.16h0.8v0.8h-0.8zM58.65 133.26h0.8v0.8h-0.8zM74.7 136.59h0.8v0.8h-0.8zM64.33 129.2h0.8v0.8h-0.8zM54.11 134.92h0.8v0.8h-0.8zM65.21 135.96h0.8v0.8h-0.8zM79.31 133.69h0.8v0.8h-0.8zM93.78 129.15h0.8v0.8h-0.8zM64.56 136.61h0.8v0.8h-0.8zM56.18 128.73h0.8v0.8h-0.8zM59.67 131.57h0.8v0.8h-0.8zM50.43 134.08h0.8v0.8h-0.8zM71.56 132.22h0.8v0.8h-0.8zM86.6 130.43h0.8v0.8h-0.8zM81.49 129.44h0.8v0.8h-0.8zM67.07 131.11h0.8v0.8h-0.8zM58.06 129.15h0.8v0.8h-0.8zM59.98 128.66h0.8v0.8h-0.8zM57.36 129.54h0.8v0.8h-0.8zM50.75 131.29h0.8v0.8h-0.8zM74.7 130.77h0.8v0.8h-0.8zM58.09 138.01h0.8v0.8h-0.8zM77.2 136.05h0.8v0.8h-0.8zM79.52 130.43h0.8v0.8h-0.8zM62.82 136.91h0.8v0.8h-0.8zM57.3 131.36h0.8v0.8h-0.8zM69.41 133.58h0.8v0.8h-0.8zM60.91 136.33h0.8v0.8h-0.8zM62.19 135.16h0.8v0.8h-0.8zM78.42 134.87h0.8v0.8h-0.8zM47.46 129.12h0.8v0.8h-0.8zM70.68 138.65h0.8v0.8h-0.8zM48.61 133.28h0.8v0.8h-0.8zM53.4 128.6h0.8v0.8h-0.8zM60.91 135.01h0.8v0.8h-0.8zM67.27 137.21h0.8v0.8h-0.8zM51.69 135.9h0.8v0.8h-0.8zM76.59 132.21h0.8v0.8h-0.8zM70.7 129.37h0.8v0.8h-0.8zM50.33 130.08h0.8v0.8h-0.8zM56.15 144.91h0.8v0.8h-0.8zM58.19 139.33h0.8v0.8h-0.8zM67.13 133.3h0.8v0.8h-0.8zM74.16 128.39h0.8v0.8h-0.8zM76.41 133.59h0.8v0.8h-0.8zM44.79 134.61h0.8v0.8h-0.8zM71.68 133.94h0.8v0.8h-0.8zM85.1 130.04h0.8v0.8h-0.8zM71.15 135.27h0.8v0.8h-0.8zM52.8 137.3h0.8v0.8h-0.8zM70.33 130.7h0.8v0.8h-0.8zM65.33 131.6h0.8v0.8h-0.8zM52.33 129.85h0.8v0.8h-0.8zM54.58 129.15h0.8v0.8h-0.8zM50.76 133.37h0.8v0.8h-0.8zM62.68 128.21h0.8v0.8h-0.8zM51.7 135.53h0.8v0.8h-0.8zM55.93 134.53h0.8v0.8h-0.8zM50.41 131.91h0.8v0.8h-0.8zM68.95 135.41h0.8v0.8h-0.8zM74.93 136.55h0.8v0.8h-0.8zM59.64 130.95h0.8v0.8h-0.8zM74.58 129.99h0.8v0.8h-0.8zM73 131.12h0.8v0.8h-0.8zM68.54 131.99h0.8v0.8h-0.8zM50.5 129.81h0.8v0.8h-0.8zM84.15 128.18h0.8v0.8h-0.8zM48.9 131.31h0.8v0.8h-0.8zM53.56 136.62h0.8v0.8h-0.8zM45.75 140.7h0.8v0.8h-0.8zM74.73 134.44h0.8v0.8h-0.8z" fill="#e85868" fill-opacity="0.35"/>
<path d="M85.29 121.79h0.8v0.8h-0.8zM96.13 115.77h0.8v0.8h-0.8zM95.08 117.17h0.8v0.8h-0.8zM92.59 121.91h0.8v0.8h-0.8zM99.77 115.78h0.8v0.8h-0.8zM88.09 117.07h0.8v0.8h-0.8zM96.53 111.65h0.8v0.8h-0.8zM94.49 113.25h0.8v0.8h-0.8zM92.8 121.43h0.8v0.8h-0.8zM84.59 116.78h0.8v0.8h-0.8zM91.7 120.82h0.8v0.8h-0.8zM85.85 111.35h0.8v0.8h-0.8zM89.54 115.97h0.8v0.8h-0.8zM87.83 125.91h0.8v0.8h-0.8zM94.76 117.43h0.8v0.8h-0.8zM94.13 110.63h0.8v0.8h-0.8zM88.87 113.84h0.8v0.8h-0.8zM89.78 125.91h0.8v0.8h-0.8zM85.91 114.52h0.8v0.8h-0.8zM92.61 119.72h0.8v0.8h-0.8zM90.64 114.46h0.8v0.8h-0.8zM92.97 119.46h0.8v0.8h-0.8zM91.23 117.66h0.8v0.8h-0.8zM91.07 112.05h0.8v0.8h-0.8zM89.49 111.82h0.8v0.8h-0.8zM92.41 121.43h0.8v0.8h-0.8zM99.28 124.9h0.8v0.8h-0.8zM86.47 114.55h0.8v0.8h-0.8zM85.81 119.14h0.8v0.8h-0.8zM100.4 121.55h0.8v0.8h-0.8zM90.51 119.1h0.8v0.8h-0.8zM99.41 112.34h0.8v0.8h-0.8zM86.26 129.09h0.8v0.8h-0.8zM92.21 112.63h0.8v0.8h-0.8zM90.72 123.26h0.8v0.8h-0.8zM89.8 113.14h0.8v0.8h-0.8zM86.79 128.71h0.8v0.8h-0.8z" fill="#f07888" fill-opacity="0.3"/>
<ellipse cx="55" cy="122.2" rx="10" ry="7" fill="#e81820" opacity="0.92" filter="url(#b1)"/>
<path d="M45.29 122.59h0.8v0.8h-0.8zM55.14 124.37h0.8v0.8h-0.8zM52.77 123.9h0.8v0.8h-0.8zM59.49 121.31h0.8v0.8h-0.8zM52.48 121.15h0.8v0.8h-0.8zM49.69 121.07h0.8v0.8h-0.8zM53.34 122.74h0.8v0.8h-0.8zM62.35 127.13h0.8v0.8h-0.8zM52.55 124.31h0.8v0.8h-0.8zM56.62 124.95h0.8v0.8h-0.8zM55.12 122.96h0.8v0.8h-0.8zM52.42 118.76h0.8v0.8h-0.8zM59.8 127.1h0.8v0.8h-0.8zM58.64 123.64h0.8v0.8h-0.8zM56.46 120.1h0.8v0.8h-0.8zM45.19 124.55h0.8v0.8h-0.8zM56.1 119.68h0.8v0.8h-0.8zM49.69 127.01h0.8v0.8h-0.8zM45.08 128.95h0.8v0.8h-0.8zM51.05 121.81h0.8v0.8h-0.8zM52.21 122.52h0.8v0.8h-0.8zM53.85 118.91h0.8v0.8h-0.8zM60.91 118.76h0.8v0.8h-0.8zM52.21 124.12h0.8v0.8h-0.8zM52.04 120.16h0.8v0.8h-0.8zM56.96 120.43h0.8v0.8h-0.8zM48.14 121.49h0.8v0.8h-0.8zM53.79 128.72h0.8v0.8h-0.8zM48.97 125.78h0.8v0.8h-0.8zM50.68 120.48h0.8v0.8h-0.8zM53.2 122.98h0.8v0.8h-0.8zM59.75 128.9h0.8v0.8h-0.8zM51.5 127.22h0.8v0.8h-0.8zM60.47 125.15h0.8v0.8h-0.8zM50.82 125.5h0.8v0.8h-0.8zM54.41 123.31h0.8v0.8h-0.8zM53.52 124.56h0.8v0.8h-0.8zM61.13 126.42h0.8v0.8h-0.8zM53.87 125.88h0.8v0.8h-0.8zM62.99 118.16h0.8v0.8h-0.8zM63.1 116.56h0.8v0.8h-0.8zM57.99 124.28h0.8v0.8h-0.8zM63.16 123.02h0.8v0.8h-0.8zM52.36 118.71h0.8v0.8h-0.8zM48.12 124.96h0.8v0.8h-0.8zM53.7 119.03h0.8v0.8h-0.8zM57.93 118.84h0.8v0.8h-0.8zM52.6 120.07h0.8v0.8h-0.8zM64.1 127.75h0.8v0.8h-0.8zM54.13 115.62h0.8v0.8h-0.8zM56.52 122.19h0.8v0.8h-0.8zM56.92 124.16h0.8v0.8h-0.8zM53.24 125.6h0.8v0.8h-0.8zM59.6 122.74h0.8v0.8h-0.8zM52.77 119.98h0.8v0.8h-0.8zM58.81 117.5h0.8v0.8h-0.8zM54.12 118.9h0.8v0.8h-0.8zM47.34 124.31h0.8v0.8h-0.8zM54.86 122.04h0.8v0.8h-0.8zM59.81 115.92h0.8v0.8h-0.8zM54.63 123.05h0.8v0.8h-0.8zM59.58 117.56h0.8v0.8h-0.8zM58.94 122.78h0.8v0.8h-0.8zM62.46 126.46h0.8v0.8h-0.8zM58.02 130.49h0.8v0.8h-0.8zM54.99 120.2h0.8v0.8h-0.8zM53.13 118.14h0.8v0.8h-0.8zM54.54 123.6h0.8v0.8h-0.8zM60.45 120.51h0.8v0.8h-0.8zM62.64 119.29h0.8v0.8h-0.8zM50.81 118.73h0.8v0.8h-0.8zM63.02 123.97h0.8v0.8h-0.8zM49.07 123.98h0.8v0.8h-0.8zM57.59 120.99h0.8v0.8h-0.8zM55.12 120.71h0.8v0.8h-0.8zM54.51 126.92h0.8v0.8h-0.8zM62.69 120.81h0.8v0.8h-0.8zM50.99 121.07h0.8v0.8h-0.8zM59.82 123.27h0.8v0.8h-0.8zM51.87 123.31h0.8v0.8h-0.8zM53.89 123.91h0.8v0.8h-0.8zM52.81 116.16h0.8v0.8h-0.8zM55.31 124.87h0.8v0.8h-0.8zM49.06 121.48h0.8v0.8h-0.8zM59.71 120.44h0.8v0.8h-0.8zM51.51 129.82h0.8v0.8h-0.8zM59.45 125.91h0.8v0.8h-0.8zM49.93 128.26h0.8v0.8h-0.8zM46.13 119.88h0.8v0.8h-0.8zM58.96 127.08h0.8v0.8h-0.8zM50.02 119.32h0.8v0.8h-0.8zM58.42 124.08h0.8v0.8h-0.8zM52.61 123.99h0.8v0.8h-0.8zM59.15 123.1h0.8v0.8h-0.8zM57.79 127.78h0.8v0.8h-0.8zM52.45 122.53h0.8v0.8h-0.8zM52.21 125.91h0.8v0.8h-0.8zM52.83 123.74h0.8v0.8h-0.8zM55.73 122.16h0.8v0.8h-0.8zM64.15 121.57h0.8v0.8h-0.8zM62.55 125.1h0.8v0.8h-0.8zM62.03 121.26h0.8v0.8h-0.8zM59.94 124.83h0.8v0.8h-0.8zM51.73 122.94h0.8v0.8h-0.8zM54.32 121.76h0.8v0.8h-0.8zM61.92 119.11h0.8v0.8h-0.8zM52.6 119.41h0.8v0.8h-0.8zM55.08 124.08h0.8v0.8h-0.8zM64.35 123.09h0.8v0.8h-0.8zM57.46 119.06h0.8v0.8h-0.8zM58.08 127.14h0.8v0.8h-0.8zM59.72 128.01h0.8v0.8h-0.8zM59.38 116.14h0.8v0.8h-0.8zM53.37 124.16h0.8v0.8h-0.8zM57.2 118.77h0.8v0.8h-0.8zM50.28 125.62h0.8v0.8h-0.8zM47.93 127.43h0.8v0.8h-0.8zM55.11 123.06h0.8v0.8h-0.8zM47.94 119.6h0.8v0.8h-0.8zM58.65 116.24h0.8v0.8h-0.8zM65.96 116.5h0.8v0.8h-0.8zM48.53 122.07h0.8v0.8h-0.8zM57.55 124.72h0.8v0.8h-0.8zM53.04 121.1h0.8v0.8h-0.8zM53.75 119.69h0.8v0.8h-0.8zM56.33 122.51h0.8v0.8h-0.8zM51.68 122.87h0.8v0.8h-0.8zM54.93 121.6h0.8v0.8h-0.8zM56.33 117.8h0.8v0.8h-0.8zM53.32 127.66h0.8v0.8h-0.8zM49.27 121.52h0.8v0.8h-0.8zM51.87 125.55h0.8v0.8h-0.8zM49.83 115.43h0.8v0.8h-0.8zM57.72 120.54h0.8v0.8h-0.8zM53.31 126.05h0.8v0.8h-0.8zM50.31 120.47h0.8v0.8h-0.8zM55.78 123.49h0.8v0.8h-0.8zM52.27 125.88h0.8v0.8h-0.8zM62.43 120.58h0.8v0.8h-0.8zM55.73 120.6h0.8v0.8h-0.8zM51.64 116.99h0.8v0.8h-0.8zM52.92 126.88h0.8v0.8h-0.8zM61.02 120.56h0.8v0.8h-0.8zM52.21 119.2h0.8v0.8h-0.8zM48.66 128.83h0.8v0.8h-0.8zM58.5 122.35h0.8v0.8h-0.8zM52.4 117.97h0.8v0.8h-0.8zM61.95 124.9h0.8v0.8h-0.8zM49.97 125.7h0.8v0.8h-0.8zM49.15 124.37h0.8v0.8h-0.8zM49.93 120.31h0.8v0.8h-0.8zM57.61 123.56h0.8v0.8h-0.8zM60.34 118.69h0.8v0.8h-0.8zM63.34 127.06h0.8v0.8h-0.8zM54.95 123.69h0.8v0.8h-0.8zM50.89 121.31h0.8v0.8h-0.8zM48.03 122.24h0.8v0.8h-0.8zM56.05 127.06h0.8v0.8h-0.8zM60 125.03h0.8v0.8h-0.8zM53.09 121.04h0.8v0.8h-0.8zM53.2 122.75h0.8v0.8h-0.8zM44.81 124.86h0.8v0.8h-0.8zM46.73 119.92h0.8v0.8h-0.8zM55.12 119.93h0.8v0.8h-0.8zM63.78 121.52h0.8v0.8h-0.8zM63.3 126.41h0.8v0.8h-0.8zM52.38 123.44h0.8v0.8h-0.8zM61.86 120.62h0.8v0.8h-0.8zM55.47 119.76h0.8v0.8h-0.8zM55.31 120.54h0.8v0.8h-0.8zM55.44 125.75h0.8v0.8h-0.8zM62.35 122.41h0.8v0.8h-0.8zM56.07 125.19h0.8v0.8h-0.8zM53.47 117.84h0.8v0.8h-0.8zM60.86 118.31h0.8v0.8h-0.8zM59.91 118.2h0.8v0.8h-0.8zM64.66 117.89h0.8v0.8h-0.8zM59.48 127.66h0.8v0.8h-0.8zM49.93 127.6h0.8v0.8h-0.8zM58.81 124.59h0.8v0.8h-0.8zM54.71 120.73h0.8v0.8h-0.8zM53 120.79h0.8v0.8h-0.8zM45.55 119.72h0.8v0.8h-0.8zM64.5 127.84h0.8v0.8h-0.8zM53.09 119.17h0.8v0.8h-0.8zM57.09 125.98h0.8v0.8h-0.8zM58.82 117.41h0.8v0.8h-0.8zM55.86 122.44h0.8v0.8h-0.8zM62.59 126.49h0.8v0.8h-0.8zM57.77 126.57h0.8v0.8h-0.8zM52.91 127.81h0.8v0.8h-0.8zM52.75 123.42h0.8v0.8h-0.8zM59.85 118.39h0.8v0.8h-0.8zM55.87 121.69h0.8v0.8h-0.8zM53.27 123.81h0.8v0.8h-0.8zM43.83 121.81h0.8v0.8h-0.8zM55.46 120.88h0.8v0.8h-0.8zM59.19 128.63h0.8v0.8h-0.8zM52.65 118.29h0.8v0.8h-0.8zM51.81 122.26h0.8v0.8h-0.8zM58.09 118.59h0.8v0.8h-0.8zM60.28 117.97h0.8v0.8h-0.8zM59.37 123.54h0.8v0.8h-0.8zM57.45 130.19h0.8v0.8h-0.8zM53.61 121.26h0.8v0.8h-0.8zM57.52 125.21h0.8v0.8h-0.8zM47.93 122.96h0.8v0.8h-0.8zM51.08 124.32h0.8v0.8h-0.8zM62.23 122.1h0.8v0.8h-0.8zM54.44 122.6h0.8v0.8h-0.8zM57.96 122.53h0.8v0.8h-0.8zM52.91 119.09h0.8v0.8h-0.8zM54.05 126.56h0.8v0.8h-0.8zM54.46 127.07h0.8v0.8h-0.8zM56.45 121.85h0.8v0.8h-0.8zM46.23 119.35h0.8v0.8h-0.8zM61.6 116.94h0.8v0.8h-0.8zM49.77 117.69h0.8v0.8h-0.8zM52.09 124.37h0.8v0.8h-0.8zM62.71 119.63h0.8v0.8h-0.8zM51.89 128.3h0.8v0.8h-0.8zM54.57 117.14h0.8v0.8h-0.8zM51.63 119.11h0.8v0.8h-0.8zM49.67 120.62h0.8v0.8h-0.8zM59.63 123.25h0.8v0.8h-0.8zM49.77 122.34h0.8v0.8h-0.8zM55.17 124.82h0.8v0.8h-0.8zM53.27 123.65h0.8v0.8h-0.8zM66.12 122.27h0.8v0.8h-0.8zM49.28 123.16h0.8v0.8h-0.8zM50.76 120.48h0.8v0.8h-0.8zM55.99 123.19h0.8v0.8h-0.8zM53.5 125.16h0.8v0.8h-0.8zM53.98 116.89h0.8v0.8h-0.8zM59.64 120.5h0.8v0.8h-0.8zM61.4 119.39h0.8v0.8h-0.8zM58.02 123.11h0.8v0.8h-0.8zM49.09 127.3h0.8v0.8h-0.8zM45.03 125.41h0.8v0.8h-0.8zM60.77 123.8h0.8v0.8h-0.8zM58.56 120h0.8v0.8h-0.8zM54.94 122.76h0.8v0.8h-0.8zM57.22 124.62h0.8v0.8h-0.8zM53.91 119.21h0.8v0.8h-0.8zM52.03 123.48h0.8v0.8h-0.8zM46.23 117.09h0.8v0.8h-0.8zM52.83 119.78h0.8v0.8h-0.8zM53.2 120.94h0.8v0.8h-0.8zM53.38 123.72h0.8v0.8h-0.8zM57.58 126.49h0.8v0.8h-0.8zM60.57 117.87h0.8v0.8h-0.8zM58.36 120.61h0.8v0.8h-0.8zM50.76 127.8h0.8v0.8h-0.8zM51.67 118.62h0.8v0.8h-0.8zM52.84 118.62h0.8v0.8h-0.8zM60.32 123.36h0.8v0.8h-0.8zM62.4 123.48h0.8v0.8h-0.8zM51.75 125.93h0.8v0.8h-0.8zM51.54 120.12h0.8v0.8h-0.8zM54.11 122.05h0.8v0.8h-0.8zM61.32 119.57h0.8v0.8h-0.8zM56.86 121.79h0.8v0.8h-0.8zM48.34 117.69h0.8v0.8h-0.8zM53.84 123.46h0.8v0.8h-0.8zM56.7 123.74h0.8v0.8h-0.8zM55.26 120.17h0.8v0.8h-0.8zM57.26 118.04h0.8v0.8h-0.8zM47.89 120.62h0.8v0.8h-0.8zM47.43 119.92h0.8v0.8h-0.8zM51.04 119.76h0.8v0.8h-0.8zM54.76 118.82h0.8v0.8h-0.8zM55.77 118.5h0.8v0.8h-0.8zM50.75 122.84h0.8v0.8h-0.8zM55.5 122.3h0.8v0.8h-0.8zM47.06 122.79h0.8v0.8h-0.8zM55.79 118.15h0.8v0.8h-0.8zM58.95 121.71h0.8v0.8h-0.8zM55.1 120.17h0.8v0.8h-0.8zM57.91 122.28h0.8v0.8h-0.8zM61.03 123.64h0.8v0.8h-0.8zM51.72 121.04h0.8v0.8h-0.8zM59.88 120.49h0.8v0.8h-0.8zM57.03 123.92h0.8v0.8h-0.8zM55.7 122.73h0.8v0.8h-0.8zM55.72 118.96h0.8v0.8h-0.8zM61.43 121.38h0.8v0.8h-0.8zM51.69 119.13h0.8v0.8h-0.8zM56.91 117.68h0.8v0.8h-0.8zM49.68 129.64h0.8v0.8h-0.8zM61.97 125.98h0.8v0.8h-0.8zM62.26 124.2h0.8v0.8h-0.8zM46.04 126.52h0.8v0.8h-0.8zM61.59 123.8h0.8v0.8h-0.8zM44.59 126.71h0.8v0.8h-0.8zM62.27 120h0.8v0.8h-0.8zM55.68 124.91h0.8v0.8h-0.8zM54.55 126.15h0.8v0.8h-0.8zM55.43 124.58h0.8v0.8h-0.8zM55.45 116.17h0.8v0.8h-0.8zM56.49 126.98h0.8v0.8h-0.8zM61.07 128.55h0.8v0.8h-0.8zM57.95 119.59h0.8v0.8h-0.8zM54 125.42h0.8v0.8h-0.8zM59.39 127.05h0.8v0.8h-0.8zM50.06 119.37h0.8v0.8h-0.8zM44.99 117.94h0.8v0.8h-0.8zM57.85 129.93h0.8v0.8h-0.8zM48.88 127.25h0.8v0.8h-0.8zM57.28 119.98h0.8v0.8h-0.8zM54.64 122.75h0.8v0.8h-0.8zM66.38 128.88h0.8v0.8h-0.8zM60.24 127.2h0.8v0.8h-0.8zM57.74 123.3h0.8v0.8h-0.8zM54.02 120.31h0.8v0.8h-0.8zM48.43 129.48h0.8v0.8h-0.8zM56.41 121.77h0.8v0.8h-0.8zM55.94 128.96h0.8v0.8h-0.8zM54.43 120.87h0.8v0.8h-0.8zM51.01 121.81h0.8v0.8h-0.8zM52.65 122.7h0.8v0.8h-0.8z" fill="#e01018" fill-opacity="0.6"/>
<ellipse cx="55" cy="111.9" rx="10" ry="3" fill="#f05060" opacity="0.45" filter="url(#b1)"/>
<path d="M60.54 113.65h0.8v0.8h-0.8zM59.67 113.65h0.8v0.8h-0.8zM59.44 114.92h0.8v0.8h-0.8zM61.38 114.79h0.8v0.8h-0.8zM52.57 111.9h0.8v0.8h-0.8zM51.24 113.95h0.8v0.8h-0.8zM60.35 110.9h0.8v0.8h-0.8zM62.72 109.51h0.8v0.8h-0.8zM54.96 113.26h0.8v0.8h-0.8zM55.29 112.73h0.8v0.8h-0.8zM62.39 112.6h0.8v0.8h-0.8zM49.09 113.43h0.8v0.8h-0.8zM54.93 112.14h0.8v0.8h-0.8zM52.19 108.94h0.8v0.8h-0.8zM48.22 111.14h0.8v0.8h-0.8zM62.21 109.41h0.8v0.8h-0.8zM51.26 113.04h0.8v0.8h-0.8zM51.01 113.31h0.8v0.8h-0.8zM52.69 112.56h0.8v0.8h-0.8zM56.12 111.9h0.8v0.8h-0.8zM44.82 108.75h0.8v0.8h-0.8zM55.26 114.92h0.8v0.8h-0.8zM52.31 113.04h0.8v0.8h-0.8zM56.45 112.94h0.8v0.8h-0.8zM61.3 108.69h0.8v0.8h-0.8zM57.1 111.52h0.8v0.8h-0.8zM53.67 110.07h0.8v0.8h-0.8zM50.91 109.69h0.8v0.8h-0.8zM65.44 111.92h0.8v0.8h-0.8zM59.84 109.81h0.8v0.8h-0.8zM56.33 114.99h0.8v0.8h-0.8zM55.25 109.75h0.8v0.8h-0.8zM54.09 109.76h0.8v0.8h-0.8zM47.35 111.4h0.8v0.8h-0.8zM53.16 110.16h0.8v0.8h-0.8zM50.32 109.91h0.8v0.8h-0.8zM56.88 114.89h0.8v0.8h-0.8zM46.04 112.49h0.8v0.8h-0.8zM48.74 111.55h0.8v0.8h-0.8zM56.1 113.1h0.8v0.8h-0.8zM62.11 110.71h0.8v0.8h-0.8zM48.24 111.5h0.8v0.8h-0.8zM57.22 110.4h0.8v0.8h-0.8zM47.18 112.68h0.8v0.8h-0.8zM61.44 107.78h0.8v0.8h-0.8zM56.7 111.42h0.8v0.8h-0.8zM47.18 114.72h0.8v0.8h-0.8zM56.77 110.87h0.8v0.8h-0.8zM58.09 113.28h0.8v0.8h-0.8zM60 113.14h0.8v0.8h-0.8zM57.89 109.38h0.8v0.8h-0.8zM53.04 112.18h0.8v0.8h-0.8zM53.28 109.64h0.8v0.8h-0.8zM44.86 112.43h0.8v0.8h-0.8zM55.69 110.65h0.8v0.8h-0.8zM53.06 110h0.8v0.8h-0.8zM51.12 111.69h0.8v0.8h-0.8zM51.74 113.36h0.8v0.8h-0.8zM54.67 112.18h0.8v0.8h-0.8zM57.87 114.63h0.8v0.8h-0.8zM59.02 112.39h0.8v0.8h-0.8zM54.55 110.17h0.8v0.8h-0.8zM53.5 113.36h0.8v0.8h-0.8zM56.82 111.07h0.8v0.8h-0.8zM47.71 108.61h0.8v0.8h-0.8zM57.38 114.1h0.8v0.8h-0.8zM57.69 108.96h0.8v0.8h-0.8zM54.26 112.38h0.8v0.8h-0.8zM50.13 112.64h0.8v0.8h-0.8zM54.33 110.11h0.8v0.8h-0.8zM48.24 113.64h0.8v0.8h-0.8zM57.59 110h0.8v0.8h-0.8zM49.57 113.81h0.8v0.8h-0.8zM58.98 111.25h0.8v0.8h-0.8zM64.81 111.28h0.8v0.8h-0.8zM49.33 114.24h0.8v0.8h-0.8zM54.4 112.64h0.8v0.8h-0.8zM55.72 109.75h0.8v0.8h-0.8zM48.56 111.48h0.8v0.8h-0.8zM63.71 109.75h0.8v0.8h-0.8zM63.44 112.37h0.8v0.8h-0.8zM49 112.47h0.8v0.8h-0.8zM58.81 109.97h0.8v0.8h-0.8zM49.02 112.84h0.8v0.8h-0.8zM44.33 111.6h0.8v0.8h-0.8zM50.77 108.73h0.8v0.8h-0.8zM54.09 112.27h0.8v0.8h-0.8zM52.25 109.37h0.8v0.8h-0.8zM56.74 108.16h0.8v0.8h-0.8zM58.62 112.95h0.8v0.8h-0.8zM65.29 113.79h0.8v0.8h-0.8zM57.57 112.46h0.8v0.8h-0.8zM55.66 109.06h0.8v0.8h-0.8zM64.03 113.03h0.8v0.8h-0.8zM53.83 109.45h0.8v0.8h-0.8zM64.16 113.04h0.8v0.8h-0.8zM48.59 113.34h0.8v0.8h-0.8zM57.83 111.01h0.8v0.8h-0.8zM51.83 114.19h0.8v0.8h-0.8zM54.78 113.6h0.8v0.8h-0.8zM53.72 113.46h0.8v0.8h-0.8zM60.33 109.73h0.8v0.8h-0.8zM49.25 111.74h0.8v0.8h-0.8zM60.35 112.49h0.8v0.8h-0.8zM62.73 108.96h0.8v0.8h-0.8zM58.37 110.57h0.8v0.8h-0.8zM56.08 112.59h0.8v0.8h-0.8zM49.85 111.41h0.8v0.8h-0.8zM48.72 112.47h0.8v0.8h-0.8zM50.55 110.85h0.8v0.8h-0.8zM56.77 110.51h0.8v0.8h-0.8zM62.19 110.54h0.8v0.8h-0.8zM60.44 112.5h0.8v0.8h-0.8zM49.48 111.43h0.8v0.8h-0.8zM50.63 111.13h0.8v0.8h-0.8zM53.06 115.25h0.8v0.8h-0.8zM58.1 109.11h0.8v0.8h-0.8zM43.92 113.43h0.8v0.8h-0.8zM61.48 112.73h0.8v0.8h-0.8zM54.28 111.36h0.8v0.8h-0.8zM57.01 111.25h0.8v0.8h-0.8zM52.39 111.11h0.8v0.8h-0.8zM62.3 110.58h0.8v0.8h-0.8zM57.71 109.45h0.8v0.8h-0.8zM51.36 108.97h0.8v0.8h-0.8zM54.35 113.35h0.8v0.8h-0.8zM57.27 110.85h0.8v0.8h-0.8zM59.05 111.16h0.8v0.8h-0.8zM57.66 112.48h0.8v0.8h-0.8zM47.93 113.55h0.8v0.8h-0.8zM54.14 110.73h0.8v0.8h-0.8zM64.17 113.08h0.8v0.8h-0.8zM54.32 113.44h0.8v0.8h-0.8zM50.93 110.95h0.8v0.8h-0.8zM52.28 111.43h0.8v0.8h-0.8zM60.02 110.88h0.8v0.8h-0.8zM57.37 110.84h0.8v0.8h-0.8zM54.29 112.26h0.8v0.8h-0.8zM49.24 114.06h0.8v0.8h-0.8zM56.76 114.63h0.8v0.8h-0.8z" fill="#e03040" fill-opacity="0.5"/>
<ellipse cx="78.5" cy="116.8" rx="10" ry="4" fill="#f07080" opacity="0.3" filter="url(#b1)"/>
<path d="M84.94 118.66h0.8v0.8h-0.8zM76.34 113.65h0.8v0.8h-0.8zM75.8 115.47h0.8v0.8h-0.8zM79.43 115.45h0.8v0.8h-0.8zM86.58 115.44h0.8v0.8h-0.8zM75.63 119.48h0.8v0.8h-0.8zM77.52 113.29h0.8v0.8h-0.8zM80.7 116.23h0.8v0.8h-0.8zM69.35 114.64h0.8v0.8h-0.8zM81.23 117.67h0.8v0.8h-0.8zM75.26 123.09h0.8v0.8h-0.8zM80.74 115.02h0.8v0.8h-0.8zM79.33 116.45h0.8v0.8h-0.8zM66.76 122.78h0.8v0.8h-0.8zM76.08 116h0.8v0.8h-0.8zM73.14 119.64h0.8v0.8h-0.8zM77.72 121.74h0.8v0.8h-0.8zM83.59 121.56h0.8v0.8h-0.8zM76.59 117.89h0.8v0.8h-0.8zM74.16 116.31h0.8v0.8h-0.8zM70.16 114.91h0.8v0.8h-0.8zM86.89 117.56h0.8v0.8h-0.8zM86.95 119.28h0.8v0.8h-0.8zM84.6 119.71h0.8v0.8h-0.8zM72.83 119.12h0.8v0.8h-0.8zM75.02 115.27h0.8v0.8h-0.8zM86.72 123.06h0.8v0.8h-0.8zM69.95 121.82h0.8v0.8h-0.8zM83.91 114.35h0.8v0.8h-0.8zM79.61 117.87h0.8v0.8h-0.8zM80.39 115.77h0.8v0.8h-0.8zM67.59 116.89h0.8v0.8h-0.8zM84.14 119.07h0.8v0.8h-0.8zM82.59 119.99h0.8v0.8h-0.8zM69.86 116.68h0.8v0.8h-0.8zM80.12 119.69h0.8v0.8h-0.8zM78.7 118.3h0.8v0.8h-0.8zM78.53 122.87h0.8v0.8h-0.8zM79.23 121.75h0.8v0.8h-0.8zM81.07 118.73h0.8v0.8h-0.8zM85.35 117.38h0.8v0.8h-0.8zM70.9 116.52h0.8v0.8h-0.8zM80.09 116h0.8v0.8h-0.8zM72.36 115.76h0.8v0.8h-0.8zM76.8 115.76h0.8v0.8h-0.8zM77.79 120.86h0.8v0.8h-0.8zM79.81 116.71h0.8v0.8h-0.8zM68.46 113.69h0.8v0.8h-0.8zM80.39 114.28h0.8v0.8h-0.8zM80.81 113.7h0.8v0.8h-0.8zM78.53 116.59h0.8v0.8h-0.8zM85.17 115.67h0.8v0.8h-0.8zM74.63 117.51h0.8v0.8h-0.8zM77.92 121.68h0.8v0.8h-0.8zM75.52 115.25h0.8v0.8h-0.8zM75.04 118.17h0.8v0.8h-0.8zM79.3 118.8h0.8v0.8h-0.8zM66.85 123.95h0.8v0.8h-0.8zM68.19 117.25h0.8v0.8h-0.8zM80.7 110.36h0.8v0.8h-0.8zM77.6 112.53h0.8v0.8h-0.8zM81.03 120.79h0.8v0.8h-0.8zM85.46 112.45h0.8v0.8h-0.8zM88.14 119.42h0.8v0.8h-0.8zM74.72 118.25h0.8v0.8h-0.8zM89.18 115.84h0.8v0.8h-0.8zM77.38 115.19h0.8v0.8h-0.8zM86.4 110.58h0.8v0.8h-0.8zM88.43 114.01h0.8v0.8h-0.8zM84.63 112.11h0.8v0.8h-0.8zM70.29 115.07h0.8v0.8h-0.8zM83.88 112.12h0.8v0.8h-0.8zM82.14 114.97h0.8v0.8h-0.8zM87.06 115.9h0.8v0.8h-0.8zM81.24 116.3h0.8v0.8h-0.8zM77.31 122.53h0.8v0.8h-0.8zM78.1 118.78h0.8v0.8h-0.8zM71.83 117.38h0.8v0.8h-0.8zM72.52 112.46h0.8v0.8h-0.8zM66.6 120.1h0.8v0.8h-0.8zM80.78 112.42h0.8v0.8h-0.8zM74.66 117.51h0.8v0.8h-0.8zM68.75 112.13h0.8v0.8h-0.8zM71.76 120.21h0.8v0.8h-0.8zM84.83 112.24h0.8v0.8h-0.8zM86.77 116.9h0.8v0.8h-0.8zM81.35 116.95h0.8v0.8h-0.8zM80.68 113.91h0.8v0.8h-0.8zM70.5 114.77h0.8v0.8h-0.8zM74.66 118.59h0.8v0.8h-0.8zM68.14 121.4h0.8v0.8h-0.8zM72.63 115.1h0.8v0.8h-0.8zM82.91 118.05h0.8v0.8h-0.8zM74.89 113.71h0.8v0.8h-0.8zM69.8 112.19h0.8v0.8h-0.8zM86.3 119.93h0.8v0.8h-0.8zM80.06 118.99h0.8v0.8h-0.8zM84.82 116.05h0.8v0.8h-0.8zM80.21 123.02h0.8v0.8h-0.8zM70.08 118.98h0.8v0.8h-0.8zM86.65 115.82h0.8v0.8h-0.8zM82.67 116.66h0.8v0.8h-0.8zM79.81 115.24h0.8v0.8h-0.8zM77.29 116.79h0.8v0.8h-0.8zM86.21 123.25h0.8v0.8h-0.8zM77.46 119.6h0.8v0.8h-0.8zM85.68 119.05h0.8v0.8h-0.8zM83.73 114.06h0.8v0.8h-0.8zM86.81 114.05h0.8v0.8h-0.8zM87.44 118.73h0.8v0.8h-0.8zM69.89 120.17h0.8v0.8h-0.8zM72.25 114.65h0.8v0.8h-0.8zM85.34 114.86h0.8v0.8h-0.8zM73.36 113.3h0.8v0.8h-0.8zM87.52 113.74h0.8v0.8h-0.8zM77.5 116h0.8v0.8h-0.8zM75.52 118.25h0.8v0.8h-0.8zM84.05 119.95h0.8v0.8h-0.8zM75.31 116.37h0.8v0.8h-0.8zM67.16 119.92h0.8v0.8h-0.8zM73.41 114.91h0.8v0.8h-0.8zM78.02 114.32h0.8v0.8h-0.8zM69.46 115.94h0.8v0.8h-0.8zM88.96 116.21h0.8v0.8h-0.8zM81.56 112.56h0.8v0.8h-0.8zM74.43 112.35h0.8v0.8h-0.8zM76.68 118.56h0.8v0.8h-0.8zM79.5 114.13h0.8v0.8h-0.8zM83.65 119.58h0.8v0.8h-0.8zM80.92 115.56h0.8v0.8h-0.8zM77.14 114.97h0.8v0.8h-0.8zM76.49 117.72h0.8v0.8h-0.8zM75.18 119.62h0.8v0.8h-0.8zM80.15 119.18h0.8v0.8h-0.8zM82.48 116.11h0.8v0.8h-0.8zM73.8 119.71h0.8v0.8h-0.8zM82.32 118.27h0.8v0.8h-0.8zM71.29 118.63h0.8v0.8h-0.8zM83.64 116.26h0.8v0.8h-0.8zM82.49 123.09h0.8v0.8h-0.8zM68.45 112.85h0.8v0.8h-0.8zM75.68 118.38h0.8v0.8h-0.8zM77.9 113.42h0.8v0.8h-0.8zM77.61 114.39h0.8v0.8h-0.8zM71.01 116.35h0.8v0.8h-0.8zM73.26 115.1h0.8v0.8h-0.8zM77.81 115.94h0.8v0.8h-0.8zM82.29 113.36h0.8v0.8h-0.8zM76.92 119.03h0.8v0.8h-0.8zM86.63 118.41h0.8v0.8h-0.8zM77.78 112.28h0.8v0.8h-0.8zM82.74 118.45h0.8v0.8h-0.8zM69.32 113.37h0.8v0.8h-0.8zM78.73 113.83h0.8v0.8h-0.8zM89.76 114.99h0.8v0.8h-0.8zM73.15 119.31h0.8v0.8h-0.8zM80.05 114.19h0.8v0.8h-0.8zM83.87 122.39h0.8v0.8h-0.8zM67.98 116.08h0.8v0.8h-0.8zM69.15 111.15h0.8v0.8h-0.8zM82.36 118.83h0.8v0.8h-0.8zM85.06 118.05h0.8v0.8h-0.8zM72.31 113.37h0.8v0.8h-0.8zM68.91 119.03h0.8v0.8h-0.8zM75.2 122.53h0.8v0.8h-0.8zM81.16 111.24h0.8v0.8h-0.8zM84.45 120.44h0.8v0.8h-0.8zM77.74 113.27h0.8v0.8h-0.8zM76.85 111.24h0.8v0.8h-0.8zM67.75 111.84h0.8v0.8h-0.8zM85.97 120.24h0.8v0.8h-0.8zM74.35 112.84h0.8v0.8h-0.8zM77.03 117.91h0.8v0.8h-0.8zM76.7 118.86h0.8v0.8h-0.8zM78.08 118.11h0.8v0.8h-0.8zM67.77 109.52h0.8v0.8h-0.8zM79.93 114.12h0.8v0.8h-0.8zM76.53 115.7h0.8v0.8h-0.8zM81.25 114.54h0.8v0.8h-0.8zM88.77 116.89h0.8v0.8h-0.8z" fill="#e85060" fill-opacity="0.45"/>
<path d="M42.5 99.5H108V164.8" stroke="#a8a8a8" fill="none" stroke-width="0.9"/>
<path d="M42.5 99.5V164.8H108" stroke="#2a2a2a" fill="none" stroke-width="1"/>
<rect x="43.7" y="107.4" width="22.8" height="23.5" fill="none" stroke="#6868c8" stroke-width="0.8"/>
<line x1="43.7" y1="115.4" x2="66.5" y2="115.4" stroke="#4848a8" stroke-width="1.0"/>
<rect x="66.5" y="109.3" width="24.5" height="15.1" fill="none" stroke="#6868c8" stroke-width="0.8"/>
<text x="46.1" y="105.8" font-size="5.8" font-weight="normal" text-anchor="start" fill="#000" style="font-family:'Liberation Serif',serif" textLength="14.4" lengthAdjust="spacingAndGlyphs">I (12.7)</text>
<text x="46.9" y="136.3" font-size="5.8" font-weight="normal" text-anchor="start" fill="#000" style="font-family:'Liberation Serif',serif" textLength="16.2" lengthAdjust="spacingAndGlyphs">II (87.6)</text>
<text x="73.5" y="107.9" font-size="5.8" font-weight="normal" text-anchor="start" fill="#000" style="font-family:'Liberation Serif',serif" textLength="18" lengthAdjust="spacingAndGlyphs">III (11.6)</text>
<path d="M41.3 105.3h1.2M41.3 119.7h1.2M41.3 134.2h1.2M41.3 150.5h1.2M41.3 158.2h1.2M50.2 164.8v1.2M56.9 164.8v1.2M72.3 164.8v1.2M87.7 164.8v1.2M101.2 164.8v1.2" stroke="#333" stroke-width="0.7" fill="none"/>
<text x="40.7" y="106.1" font-size="3.5" font-weight="normal" text-anchor="end" fill="#444">10⁴</text>
<text x="40.7" y="120.5" font-size="3.5" font-weight="normal" text-anchor="end" fill="#444">10³</text>
<text x="40.7" y="135" font-size="3.5" font-weight="normal" text-anchor="end" fill="#444">10²</text>
<text x="40.7" y="151.3" font-size="3.5" font-weight="normal" text-anchor="end" fill="#444">10¹</text>
<text x="40.7" y="159" font-size="3.5" font-weight="normal" text-anchor="end" fill="#444">0</text>
<text x="50.2" y="170.8" font-size="3.5" font-weight="normal" text-anchor="middle" fill="#444">0</text>
<text x="56.9" y="170.8" font-size="3.5" font-weight="normal" text-anchor="middle" fill="#444">10¹</text>
<text x="72.3" y="170.8" font-size="3.5" font-weight="normal" text-anchor="middle" fill="#444">10²</text>
<text x="87.7" y="170.8" font-size="3.5" font-weight="normal" text-anchor="middle" fill="#444">10³</text>
<text x="101.2" y="170.8" font-size="3.5" font-weight="normal" text-anchor="middle" fill="#444">10⁴</text>
<text x="33.9" y="132.15" font-size="2.6" font-weight="normal" text-anchor="middle" fill="#999" transform="rotate(-90 33.9 132.15)">PE-Cy7-A</text>
<text x="75.25" y="172.6" font-size="2.4" font-weight="normal" text-anchor="middle" fill="#999">FITC-A</text>
<path d="M50.99 215.99h0.8v0.8h-0.8zM46.69 221.69h0.8v0.8h-0.8zM73.47 233.77h0.8v0.8h-0.8zM45.64 234.43h0.8v0.8h-0.8zM49.47 214.3h0.8v0.8h-0.8zM77.49 218.16h0.8v0.8h-0.8zM61.38 225.79h0.8v0.8h-0.8zM55.26 233.3h0.8v0.8h-0.8zM54.79 234.84h0.8v0.8h-0.8zM87.17 224.74h0.8v0.8h-0.8zM45.15 232.79h0.8v0.8h-0.8zM45.03 223.66h0.8v0.8h-0.8zM66.39 208.91h0.8v0.8h-0.8zM77.52 231h0.8v0.8h-0.8zM75.09 220.16h0.8v0.8h-0.8zM71.15 226.46h0.8v0.8h-0.8zM55.72 235.78h0.8v0.8h-0.8zM97.27 233.66h0.8v0.8h-0.8zM95.41 217.8h0.8v0.8h-0.8zM96.76 209.18h0.8v0.8h-0.8zM69.31 211.27h0.8v0.8h-0.8zM68.01 229.6h0.8v0.8h-0.8zM81.75 221.99h0.8v0.8h-0.8zM61.95 213.14h0.8v0.8h-0.8zM65.26 216.24h0.8v0.8h-0.8zM53.99 231.38h0.8v0.8h-0.8zM71.38 221.45h0.8v0.8h-0.8zM54.18 230.3h0.8v0.8h-0.8zM54.12 215.67h0.8v0.8h-0.8zM73.75 230.22h0.8v0.8h-0.8zM96.04 231.77h0.8v0.8h-0.8zM94.71 237.53h0.8v0.8h-0.8zM82.52 230.83h0.8v0.8h-0.8zM46.89 213.67h0.8v0.8h-0.8zM44.2 235.64h0.8v0.8h-0.8zM82.49 227.85h0.8v0.8h-0.8zM57.74 218.67h0.8v0.8h-0.8zM52.34 227.92h0.8v0.8h-0.8zM97.04 217.01h0.8v0.8h-0.8zM45.89 212.65h0.8v0.8h-0.8zM62.68 236.83h0.8v0.8h-0.8zM86.94 222h0.8v0.8h-0.8zM49.02 210.36h0.8v0.8h-0.8zM51.81 232.77h0.8v0.8h-0.8zM68.95 239.89h0.8v0.8h-0.8zM92.73 233.34h0.8v0.8h-0.8zM69.22 234.25h0.8v0.8h-0.8zM50.43 210.44h0.8v0.8h-0.8zM73.92 223.77h0.8v0.8h-0.8zM54.8 215.21h0.8v0.8h-0.8z" fill="#e0c8dc" fill-opacity="0.2"/>
<path d="M103.53 214.25h0.8v0.8h-0.8zM70.34 201.12h0.8v0.8h-0.8zM90.26 212.15h0.8v0.8h-0.8zM76.2 207.91h0.8v0.8h-0.8zM86.23 203.92h0.8v0.8h-0.8zM78.79 213.4h0.8v0.8h-0.8zM81.07 219.27h0.8v0.8h-0.8zM76.32 213.27h0.8v0.8h-0.8zM87.69 205.11h0.8v0.8h-0.8zM74.02 213.14h0.8v0.8h-0.8zM88.87 208.83h0.8v0.8h-0.8zM87.07 214.71h0.8v0.8h-0.8zM59.79 205.46h0.8v0.8h-0.8zM60.44 213.49h0.8v0.8h-0.8zM79.96 216.39h0.8v0.8h-0.8zM87.28 210.06h0.8v0.8h-0.8zM90.24 216.87h0.8v0.8h-0.8zM83.12 215.18h0.8v0.8h-0.8zM62.17 214.6h0.8v0.8h-0.8zM65.19 206.88h0.8v0.8h-0.8zM73.33 213.49h0.8v0.8h-0.8zM76.86 211.16h0.8v0.8h-0.8zM65.57 213.73h0.8v0.8h-0.8zM68.66 205.8h0.8v0.8h-0.8zM78.61 220.03h0.8v0.8h-0.8zM72.67 207.52h0.8v0.8h-0.8zM94.02 221.31h0.8v0.8h-0.8zM73.99 211.75h0.8v0.8h-0.8zM80.03 227.48h0.8v0.8h-0.8zM79.1 217.75h0.8v0.8h-0.8zM82.8 203.75h0.8v0.8h-0.8zM64.34 206.67h0.8v0.8h-0.8zM82.67 213.33h0.8v0.8h-0.8zM98.88 211.46h0.8v0.8h-0.8zM81.18 213.17h0.8v0.8h-0.8zM79.16 224.33h0.8v0.8h-0.8zM80.9 220.13h0.8v0.8h-0.8zM93.01 209.78h0.8v0.8h-0.8zM85.69 210.9h0.8v0.8h-0.8zM78.81 213.59h0.8v0.8h-0.8z" fill="#f0c0b0" fill-opacity="0.25"/>
<path d="M64.77 207.7h0.8v0.8h-0.8zM84.66 208.61h0.8v0.8h-0.8zM73.6 217.33h0.8v0.8h-0.8zM72.61 214.4h0.8v0.8h-0.8zM82.49 214.68h0.8v0.8h-0.8zM89.88 209.92h0.8v0.8h-0.8zM46.42 209.7h0.8v0.8h-0.8zM68.34 210.5h0.8v0.8h-0.8zM54.16 208.75h0.8v0.8h-0.8zM63.22 210.14h0.8v0.8h-0.8zM64.41 208.81h0.8v0.8h-0.8zM58.09 210.4h0.8v0.8h-0.8zM59.3 207.32h0.8v0.8h-0.8zM58.83 210.74h0.8v0.8h-0.8zM80.66 208.97h0.8v0.8h-0.8zM61.03 211.4h0.8v0.8h-0.8zM67.98 208.1h0.8v0.8h-0.8zM57.07 212.63h0.8v0.8h-0.8zM65.07 207.26h0.8v0.8h-0.8zM64.68 209.27h0.8v0.8h-0.8zM70.19 210.8h0.8v0.8h-0.8zM50.28 209.17h0.8v0.8h-0.8zM49.58 213.2h0.8v0.8h-0.8zM63.83 208.7h0.8v0.8h-0.8zM77.77 219.53h0.8v0.8h-0.8zM45.49 212.32h0.8v0.8h-0.8zM64.32 213.6h0.8v0.8h-0.8zM57.82 213.05h0.8v0.8h-0.8zM76.14 212.53h0.8v0.8h-0.8zM83.3 209.01h0.8v0.8h-0.8zM84.57 206.65h0.8v0.8h-0.8zM64.68 206.2h0.8v0.8h-0.8zM64.52 214.44h0.8v0.8h-0.8zM73.84 210.23h0.8v0.8h-0.8zM53.92 216.59h0.8v0.8h-0.8zM83.71 214.95h0.8v0.8h-0.8zM57.39 215.62h0.8v0.8h-0.8zM53.67 213.94h0.8v0.8h-0.8zM72.03 209.23h0.8v0.8h-0.8zM46.02 208.54h0.8v0.8h-0.8zM72.1 211.46h0.8v0.8h-0.8zM57.91 219.33h0.8v0.8h-0.8zM74.56 210.1h0.8v0.8h-0.8zM70.74 214.12h0.8v0.8h-0.8zM64.6 213.27h0.8v0.8h-0.8zM84.13 210.99h0.8v0.8h-0.8zM67.05 213.17h0.8v0.8h-0.8zM82.7 208.36h0.8v0.8h-0.8zM48.53 206.24h0.8v0.8h-0.8zM48.14 205.8h0.8v0.8h-0.8zM62.93 211.34h0.8v0.8h-0.8zM66.53 210.11h0.8v0.8h-0.8zM59.86 211.71h0.8v0.8h-0.8zM76.01 213.22h0.8v0.8h-0.8zM83.97 208.49h0.8v0.8h-0.8zM61.23 217.43h0.8v0.8h-0.8zM67.11 211.66h0.8v0.8h-0.8zM60.13 214.16h0.8v0.8h-0.8zM63.71 207.81h0.8v0.8h-0.8zM75.34 208.1h0.8v0.8h-0.8zM66.1 208.82h0.8v0.8h-0.8zM68.92 206.96h0.8v0.8h-0.8zM59.49 206.61h0.8v0.8h-0.8zM72.92 209.98h0.8v0.8h-0.8zM70.8 208.31h0.8v0.8h-0.8zM60.16 207.39h0.8v0.8h-0.8zM68.14 211.4h0.8v0.8h-0.8zM77.2 209.32h0.8v0.8h-0.8zM65.3 211.42h0.8v0.8h-0.8zM89.83 210.62h0.8v0.8h-0.8zM87.35 218.23h0.8v0.8h-0.8zM50.87 215.25h0.8v0.8h-0.8zM79.28 215.85h0.8v0.8h-0.8zM64.37 214.1h0.8v0.8h-0.8zM58.25 209.48h0.8v0.8h-0.8zM64.75 217.82h0.8v0.8h-0.8zM61.7 214.1h0.8v0.8h-0.8zM65.36 206.61h0.8v0.8h-0.8zM67.65 212.77h0.8v0.8h-0.8zM55.24 212.65h0.8v0.8h-0.8zM55.24 205.85h0.8v0.8h-0.8zM67.36 208.74h0.8v0.8h-0.8zM64.8 210.89h0.8v0.8h-0.8zM58.53 210.64h0.8v0.8h-0.8zM44.65 211.57h0.8v0.8h-0.8zM69.91 211.05h0.8v0.8h-0.8zM56.53 210.16h0.8v0.8h-0.8zM66.19 214.61h0.8v0.8h-0.8zM68.09 210.94h0.8v0.8h-0.8zM55.09 213.68h0.8v0.8h-0.8zM79.74 207.58h0.8v0.8h-0.8zM72.81 211.19h0.8v0.8h-0.8zM68.44 208.11h0.8v0.8h-0.8zM79.38 207.9h0.8v0.8h-0.8zM65.01 212.55h0.8v0.8h-0.8zM70.43 207.46h0.8v0.8h-0.8zM73.35 211.56h0.8v0.8h-0.8zM77.34 207.5h0.8v0.8h-0.8zM63.9 208.04h0.8v0.8h-0.8zM53.62 210.95h0.8v0.8h-0.8zM69.81 216.18h0.8v0.8h-0.8zM60.28 211.54h0.8v0.8h-0.8zM79.33 209.29h0.8v0.8h-0.8zM65.32 210.4h0.8v0.8h-0.8zM78.98 210.58h0.8v0.8h-0.8zM66.03 215.06h0.8v0.8h-0.8zM78.87 216.22h0.8v0.8h-0.8zM84.61 207.32h0.8v0.8h-0.8zM72.27 206.43h0.8v0.8h-0.8zM71.24 208.16h0.8v0.8h-0.8zM67.04 215.81h0.8v0.8h-0.8zM68.88 208.72h0.8v0.8h-0.8zM65.22 210.99h0.8v0.8h-0.8zM57.87 210.73h0.8v0.8h-0.8zM72.26 216.78h0.8v0.8h-0.8zM48.5 213.72h0.8v0.8h-0.8zM96.05 210.67h0.8v0.8h-0.8zM66.07 214.9h0.8v0.8h-0.8zM57.93 207.63h0.8v0.8h-0.8zM68.89 207.19h0.8v0.8h-0.8zM78.86 209.79h0.8v0.8h-0.8zM69.42 221.15h0.8v0.8h-0.8zM58.71 213.94h0.8v0.8h-0.8zM53.82 215.38h0.8v0.8h-0.8zM76.95 210.43h0.8v0.8h-0.8zM77.3 216.99h0.8v0.8h-0.8zM82.28 209.81h0.8v0.8h-0.8zM63.79 214.75h0.8v0.8h-0.8zM45.53 207.11h0.8v0.8h-0.8zM70.75 212.34h0.8v0.8h-0.8zM88.49 217.65h0.8v0.8h-0.8zM68.68 211.77h0.8v0.8h-0.8zM47.51 208.97h0.8v0.8h-0.8zM67.87 208.79h0.8v0.8h-0.8zM65.27 212.51h0.8v0.8h-0.8zM52.25 207.27h0.8v0.8h-0.8zM74.42 208.85h0.8v0.8h-0.8zM76.93 208.16h0.8v0.8h-0.8zM91.85 212.98h0.8v0.8h-0.8zM66.44 210.31h0.8v0.8h-0.8zM61.85 213.4h0.8v0.8h-0.8zM90.22 207.92h0.8v0.8h-0.8zM50.51 212.46h0.8v0.8h-0.8zM71.72 212.05h0.8v0.8h-0.8zM72.77 209.11h0.8v0.8h-0.8zM89.14 214.22h0.8v0.8h-0.8zM57.06 208.58h0.8v0.8h-0.8zM60.95 206.57h0.8v0.8h-0.8zM65.55 214.08h0.8v0.8h-0.8zM45.16 208.79h0.8v0.8h-0.8zM83.64 213.09h0.8v0.8h-0.8zM54.07 206.22h0.8v0.8h-0.8zM79.24 210.11h0.8v0.8h-0.8zM59.58 207.53h0.8v0.8h-0.8zM86.55 207.76h0.8v0.8h-0.8zM65.98 214.55h0.8v0.8h-0.8zM73.05 209h0.8v0.8h-0.8zM72.15 207.88h0.8v0.8h-0.8zM70.92 212.09h0.8v0.8h-0.8zM66.73 213.25h0.8v0.8h-0.8zM71.35 210.34h0.8v0.8h-0.8zM53.21 212.42h0.8v0.8h-0.8zM79.67 212.59h0.8v0.8h-0.8zM80.45 207.71h0.8v0.8h-0.8zM51.99 215.33h0.8v0.8h-0.8zM57.05 210.87h0.8v0.8h-0.8zM62.07 209.9h0.8v0.8h-0.8zM61.05 207.42h0.8v0.8h-0.8zM71.84 217.04h0.8v0.8h-0.8zM61.36 213.08h0.8v0.8h-0.8z" fill="#e85868" fill-opacity="0.35"/>
<path d="M93.45 187.87h0.8v0.8h-0.8zM96.48 185.28h0.8v0.8h-0.8zM87.68 193.09h0.8v0.8h-0.8zM96.66 195.9h0.8v0.8h-0.8zM89.89 190.47h0.8v0.8h-0.8zM90.94 195.45h0.8v0.8h-0.8zM94.08 203.4h0.8v0.8h-0.8zM94.11 195.31h0.8v0.8h-0.8zM89.75 204.61h0.8v0.8h-0.8zM91.48 195.1h0.8v0.8h-0.8zM99.3 204.42h0.8v0.8h-0.8zM93.29 194.56h0.8v0.8h-0.8zM87.39 201.47h0.8v0.8h-0.8zM88.28 200.84h0.8v0.8h-0.8zM86.67 195.82h0.8v0.8h-0.8zM92.47 196.05h0.8v0.8h-0.8zM91.64 197.44h0.8v0.8h-0.8zM85.01 188.69h0.8v0.8h-0.8zM89.78 205.79h0.8v0.8h-0.8zM89.89 189.76h0.8v0.8h-0.8zM87.27 195.4h0.8v0.8h-0.8zM96.28 191.88h0.8v0.8h-0.8zM93.24 196.3h0.8v0.8h-0.8zM88.76 189.66h0.8v0.8h-0.8zM89.76 190.96h0.8v0.8h-0.8zM96.01 199.65h0.8v0.8h-0.8zM93.33 203.98h0.8v0.8h-0.8zM90.76 197.84h0.8v0.8h-0.8zM87.16 188.57h0.8v0.8h-0.8zM92.61 198.2h0.8v0.8h-0.8zM88.42 193.78h0.8v0.8h-0.8zM88.03 191.88h0.8v0.8h-0.8zM90.22 201.49h0.8v0.8h-0.8zM98.38 197.06h0.8v0.8h-0.8zM91.25 200.09h0.8v0.8h-0.8zM85.61 188.12h0.8v0.8h-0.8zM91.71 200.17h0.8v0.8h-0.8zM88.47 191.22h0.8v0.8h-0.8zM92.47 198.79h0.8v0.8h-0.8zM91.68 190.23h0.8v0.8h-0.8zM87.31 203.99h0.8v0.8h-0.8zM96.94 198.02h0.8v0.8h-0.8z" fill="#f07888" fill-opacity="0.3"/>
<ellipse cx="55" cy="188.4" rx="10.5" ry="2.6" fill="#f01010" opacity="0.95" filter="url(#b1)"/>
<path d="M56.48 188.67h0.8v0.8h-0.8zM51.86 188.32h0.8v0.8h-0.8zM65.24 187.04h0.8v0.8h-0.8zM51.45 188.65h0.8v0.8h-0.8zM59.78 189.7h0.8v0.8h-0.8zM49.82 188.2h0.8v0.8h-0.8zM53.58 186.48h0.8v0.8h-0.8zM55.41 187.65h0.8v0.8h-0.8zM59.92 189.07h0.8v0.8h-0.8zM50.83 188.53h0.8v0.8h-0.8zM53.09 187.41h0.8v0.8h-0.8zM52.4 190.06h0.8v0.8h-0.8zM52.79 185.73h0.8v0.8h-0.8zM50.86 189.66h0.8v0.8h-0.8zM53.1 187.89h0.8v0.8h-0.8zM47.47 189.03h0.8v0.8h-0.8zM54.73 188.83h0.8v0.8h-0.8zM59.25 189.7h0.8v0.8h-0.8zM51.6 187.48h0.8v0.8h-0.8zM63.33 189.51h0.8v0.8h-0.8zM55.77 186.7h0.8v0.8h-0.8zM59.72 189.22h0.8v0.8h-0.8zM59.3 188.82h0.8v0.8h-0.8zM55.33 187.54h0.8v0.8h-0.8zM56.65 188.78h0.8v0.8h-0.8zM58.49 190.09h0.8v0.8h-0.8zM56.67 187.56h0.8v0.8h-0.8zM59.32 190.82h0.8v0.8h-0.8zM50.54 189.05h0.8v0.8h-0.8zM57.93 189.23h0.8v0.8h-0.8zM57.7 188.26h0.8v0.8h-0.8zM54.46 191.02h0.8v0.8h-0.8zM64.26 186.22h0.8v0.8h-0.8zM51.4 187.6h0.8v0.8h-0.8zM46.48 188.95h0.8v0.8h-0.8zM54.71 187.56h0.8v0.8h-0.8zM59.81 192.18h0.8v0.8h-0.8zM62.89 190.23h0.8v0.8h-0.8zM52.8 189.42h0.8v0.8h-0.8zM54.8 190.2h0.8v0.8h-0.8zM58.11 188.35h0.8v0.8h-0.8zM57.96 187.28h0.8v0.8h-0.8zM59.24 190.74h0.8v0.8h-0.8zM53.07 189.27h0.8v0.8h-0.8zM46.1 189.86h0.8v0.8h-0.8zM59.69 186.81h0.8v0.8h-0.8zM64.32 188.58h0.8v0.8h-0.8zM45.76 186.27h0.8v0.8h-0.8zM59.67 187.98h0.8v0.8h-0.8zM60.9 185.99h0.8v0.8h-0.8zM54.47 189.92h0.8v0.8h-0.8zM51.38 189.46h0.8v0.8h-0.8zM53.08 188.94h0.8v0.8h-0.8zM56.73 191.87h0.8v0.8h-0.8zM48.38 189.61h0.8v0.8h-0.8zM62.01 186.65h0.8v0.8h-0.8zM55.44 191.99h0.8v0.8h-0.8zM53.73 185.74h0.8v0.8h-0.8zM56.62 187.27h0.8v0.8h-0.8zM52 187.1h0.8v0.8h-0.8zM56.57 187.68h0.8v0.8h-0.8zM50.17 188.05h0.8v0.8h-0.8zM57.17 187.07h0.8v0.8h-0.8zM60.94 185.82h0.8v0.8h-0.8zM57.18 187.8h0.8v0.8h-0.8zM63.41 187.4h0.8v0.8h-0.8zM51.46 186.31h0.8v0.8h-0.8zM65.61 189.36h0.8v0.8h-0.8zM49.2 187.88h0.8v0.8h-0.8zM49.88 190.77h0.8v0.8h-0.8zM57.23 185.23h0.8v0.8h-0.8zM56.12 189.82h0.8v0.8h-0.8zM55.01 189.14h0.8v0.8h-0.8zM54.41 188.72h0.8v0.8h-0.8zM56.14 187.3h0.8v0.8h-0.8zM56.86 188.66h0.8v0.8h-0.8zM54.8 187.34h0.8v0.8h-0.8zM49.58 188.78h0.8v0.8h-0.8zM59.41 184.64h0.8v0.8h-0.8zM52.14 190.5h0.8v0.8h-0.8zM59.89 187.29h0.8v0.8h-0.8zM62.23 186.87h0.8v0.8h-0.8zM50.78 191.42h0.8v0.8h-0.8zM52.67 188.06h0.8v0.8h-0.8zM46.18 186.83h0.8v0.8h-0.8zM48.72 188.19h0.8v0.8h-0.8zM45.19 190.05h0.8v0.8h-0.8zM53.1 187.46h0.8v0.8h-0.8zM51.61 189.56h0.8v0.8h-0.8zM63.2 187.77h0.8v0.8h-0.8zM63.63 190.91h0.8v0.8h-0.8zM62.18 188.87h0.8v0.8h-0.8zM47.03 189.45h0.8v0.8h-0.8zM52.81 188.7h0.8v0.8h-0.8zM44.92 187.96h0.8v0.8h-0.8zM56.25 186.94h0.8v0.8h-0.8zM56.57 191h0.8v0.8h-0.8zM56.23 187.33h0.8v0.8h-0.8zM50.08 189.04h0.8v0.8h-0.8zM51.84 184.83h0.8v0.8h-0.8zM56.39 189.69h0.8v0.8h-0.8zM50.75 190.68h0.8v0.8h-0.8zM57.68 190.26h0.8v0.8h-0.8zM46.83 188.4h0.8v0.8h-0.8zM63.56 191.54h0.8v0.8h-0.8zM62.06 188.4h0.8v0.8h-0.8zM55.98 187.42h0.8v0.8h-0.8zM60.88 187.32h0.8v0.8h-0.8zM55.66 185.18h0.8v0.8h-0.8zM46.94 191.17h0.8v0.8h-0.8zM55.32 188.74h0.8v0.8h-0.8zM66.1 186.07h0.8v0.8h-0.8zM52.15 188.07h0.8v0.8h-0.8zM48.26 186.28h0.8v0.8h-0.8zM48.37 189.4h0.8v0.8h-0.8zM54.75 189.68h0.8v0.8h-0.8zM49.21 189.32h0.8v0.8h-0.8zM52.63 188.54h0.8v0.8h-0.8zM60.01 188.45h0.8v0.8h-0.8zM53.11 185.8h0.8v0.8h-0.8zM55.34 189.63h0.8v0.8h-0.8zM51.6 188.3h0.8v0.8h-0.8zM45.49 186.31h0.8v0.8h-0.8zM57.17 190.43h0.8v0.8h-0.8zM53.33 185.78h0.8v0.8h-0.8zM52.96 185.95h0.8v0.8h-0.8zM53.52 191.42h0.8v0.8h-0.8zM56.61 188.16h0.8v0.8h-0.8zM60.58 187.81h0.8v0.8h-0.8zM56.79 188.71h0.8v0.8h-0.8zM57.4 186.1h0.8v0.8h-0.8zM58.83 189.78h0.8v0.8h-0.8zM50.17 190.74h0.8v0.8h-0.8zM55.11 189.46h0.8v0.8h-0.8zM57.99 189.79h0.8v0.8h-0.8zM51.56 187.48h0.8v0.8h-0.8zM57.03 189.36h0.8v0.8h-0.8zM58.1 188.93h0.8v0.8h-0.8zM52.38 190.14h0.8v0.8h-0.8zM57.55 190.07h0.8v0.8h-0.8zM51.41 188.59h0.8v0.8h-0.8zM52.42 187.91h0.8v0.8h-0.8zM56.04 188.95h0.8v0.8h-0.8zM50.68 184.41h0.8v0.8h-0.8zM50.78 189.25h0.8v0.8h-0.8zM50.43 189.08h0.8v0.8h-0.8zM53 186.91h0.8v0.8h-0.8zM61.33 191.01h0.8v0.8h-0.8zM54.44 188.32h0.8v0.8h-0.8zM60.2 186.31h0.8v0.8h-0.8zM50.27 190.19h0.8v0.8h-0.8zM59.89 187.62h0.8v0.8h-0.8zM50.78 188.95h0.8v0.8h-0.8zM47.36 187.61h0.8v0.8h-0.8zM53.74 184.51h0.8v0.8h-0.8zM58.21 189.61h0.8v0.8h-0.8zM60.8 186.13h0.8v0.8h-0.8zM48.02 187.11h0.8v0.8h-0.8zM47.9 191.65h0.8v0.8h-0.8zM49.68 187.9h0.8v0.8h-0.8zM56.12 189.12h0.8v0.8h-0.8zM62.9 186.68h0.8v0.8h-0.8zM59.79 188.64h0.8v0.8h-0.8zM48.62 188.64h0.8v0.8h-0.8zM47.36 190.97h0.8v0.8h-0.8zM51.02 190h0.8v0.8h-0.8zM62.09 187.42h0.8v0.8h-0.8zM50.11 188.61h0.8v0.8h-0.8zM49.28 189.83h0.8v0.8h-0.8zM55.96 187.19h0.8v0.8h-0.8zM51.26 189.55h0.8v0.8h-0.8zM47.09 191.08h0.8v0.8h-0.8zM50.71 188.09h0.8v0.8h-0.8zM49.95 190.98h0.8v0.8h-0.8zM59.5 190.47h0.8v0.8h-0.8zM58.57 188.54h0.8v0.8h-0.8zM64.27 189.46h0.8v0.8h-0.8zM57.39 189.32h0.8v0.8h-0.8zM59.03 188.84h0.8v0.8h-0.8zM54.09 185.86h0.8v0.8h-0.8zM66.27 186.33h0.8v0.8h-0.8zM65.59 190.34h0.8v0.8h-0.8zM51.7 188.82h0.8v0.8h-0.8zM54.87 185.24h0.8v0.8h-0.8zM53.17 188.87h0.8v0.8h-0.8zM61.42 186.48h0.8v0.8h-0.8zM56.81 188.53h0.8v0.8h-0.8zM55.82 188.64h0.8v0.8h-0.8zM52.99 186.22h0.8v0.8h-0.8zM57.49 189.02h0.8v0.8h-0.8zM58.17 190.39h0.8v0.8h-0.8zM48.2 184.66h0.8v0.8h-0.8zM45.21 191.82h0.8v0.8h-0.8zM49.98 189.04h0.8v0.8h-0.8zM54.92 189.56h0.8v0.8h-0.8zM54.07 187.45h0.8v0.8h-0.8zM56.35 189.23h0.8v0.8h-0.8zM49.67 190.51h0.8v0.8h-0.8zM61.3 189.11h0.8v0.8h-0.8zM54.39 188.02h0.8v0.8h-0.8zM45.96 189.45h0.8v0.8h-0.8zM49.64 187.6h0.8v0.8h-0.8zM60.48 186.93h0.8v0.8h-0.8zM52.13 189.77h0.8v0.8h-0.8zM65.21 187.3h0.8v0.8h-0.8zM61.07 187.35h0.8v0.8h-0.8zM57.13 189.17h0.8v0.8h-0.8zM48.74 190.04h0.8v0.8h-0.8zM64.9 188.48h0.8v0.8h-0.8zM56.48 186.52h0.8v0.8h-0.8zM64.83 188.5h0.8v0.8h-0.8zM47.98 189.62h0.8v0.8h-0.8zM46.96 187.3h0.8v0.8h-0.8zM51.41 187.48h0.8v0.8h-0.8zM51.89 189.29h0.8v0.8h-0.8zM63.02 186.79h0.8v0.8h-0.8zM57.42 185.52h0.8v0.8h-0.8zM63.38 188.26h0.8v0.8h-0.8zM51.15 190.85h0.8v0.8h-0.8zM54.42 190.59h0.8v0.8h-0.8z" fill="#e81018" fill-opacity="0.6"/>
<ellipse cx="55" cy="199.5" rx="10" ry="6" fill="#f08088" opacity="0.2" filter="url(#b1)"/>
<path d="M61.98 206.46h0.8v0.8h-0.8zM49.8 199.26h0.8v0.8h-0.8zM57.39 198.13h0.8v0.8h-0.8zM64.9 195.79h0.8v0.8h-0.8zM61.52 205.13h0.8v0.8h-0.8zM49.13 196.54h0.8v0.8h-0.8zM57.54 198.22h0.8v0.8h-0.8zM55.51 196.93h0.8v0.8h-0.8zM54.47 201.18h0.8v0.8h-0.8zM59.85 195.48h0.8v0.8h-0.8zM54.26 195.57h0.8v0.8h-0.8zM61.2 202.02h0.8v0.8h-0.8zM54.2 195.92h0.8v0.8h-0.8zM52.03 196.01h0.8v0.8h-0.8zM44.97 206.35h0.8v0.8h-0.8zM47.42 201.6h0.8v0.8h-0.8zM51.78 199.38h0.8v0.8h-0.8zM54.98 196.48h0.8v0.8h-0.8zM54.08 197.65h0.8v0.8h-0.8zM63.09 198.59h0.8v0.8h-0.8zM54.79 196.62h0.8v0.8h-0.8zM50.88 195.69h0.8v0.8h-0.8zM55.07 207.27h0.8v0.8h-0.8zM62.25 200.06h0.8v0.8h-0.8zM65.85 203.56h0.8v0.8h-0.8zM56.35 198.26h0.8v0.8h-0.8zM47.87 200.12h0.8v0.8h-0.8zM46.65 207.71h0.8v0.8h-0.8zM56.39 201.24h0.8v0.8h-0.8zM56.3 196.91h0.8v0.8h-0.8zM58 203.88h0.8v0.8h-0.8zM52.99 201.31h0.8v0.8h-0.8zM61.66 196.83h0.8v0.8h-0.8zM56.1 195.67h0.8v0.8h-0.8zM58.92 197.34h0.8v0.8h-0.8zM62.45 195.56h0.8v0.8h-0.8zM65.98 197.6h0.8v0.8h-0.8zM49.54 194.93h0.8v0.8h-0.8zM59.31 195.15h0.8v0.8h-0.8zM54.84 195.73h0.8v0.8h-0.8zM60.26 204.78h0.8v0.8h-0.8zM48.75 197.47h0.8v0.8h-0.8zM56.74 201.12h0.8v0.8h-0.8zM47.55 199.97h0.8v0.8h-0.8zM54.3 203.28h0.8v0.8h-0.8zM44.62 196.46h0.8v0.8h-0.8zM51.73 197.57h0.8v0.8h-0.8zM59.7 196.17h0.8v0.8h-0.8zM60.46 203.59h0.8v0.8h-0.8zM61.27 198.08h0.8v0.8h-0.8zM49.61 197.85h0.8v0.8h-0.8zM59.33 199.55h0.8v0.8h-0.8zM58.78 201.59h0.8v0.8h-0.8zM49.25 194.79h0.8v0.8h-0.8zM64.37 196.81h0.8v0.8h-0.8zM44.7 207.37h0.8v0.8h-0.8zM49.58 194.8h0.8v0.8h-0.8zM61.29 193.91h0.8v0.8h-0.8zM49.34 203.72h0.8v0.8h-0.8zM55.84 199.25h0.8v0.8h-0.8zM50.83 198h0.8v0.8h-0.8zM51.74 198.89h0.8v0.8h-0.8zM60.02 193.28h0.8v0.8h-0.8zM64.78 198.66h0.8v0.8h-0.8zM54.91 198.74h0.8v0.8h-0.8zM61.53 200.44h0.8v0.8h-0.8zM60.53 198.25h0.8v0.8h-0.8zM54.21 198.75h0.8v0.8h-0.8zM44.74 194.52h0.8v0.8h-0.8zM59.36 199.25h0.8v0.8h-0.8zM60.28 206.68h0.8v0.8h-0.8zM53.53 208.22h0.8v0.8h-0.8zM49.28 198.61h0.8v0.8h-0.8zM61.48 198.04h0.8v0.8h-0.8zM54.21 197.41h0.8v0.8h-0.8zM63.27 203.77h0.8v0.8h-0.8zM54.53 201.53h0.8v0.8h-0.8zM48.71 203.99h0.8v0.8h-0.8zM64.08 198.75h0.8v0.8h-0.8zM52.8 196.81h0.8v0.8h-0.8zM53.77 193.37h0.8v0.8h-0.8zM46.17 206.48h0.8v0.8h-0.8zM54.89 201.49h0.8v0.8h-0.8zM57.02 201.15h0.8v0.8h-0.8zM45.08 194.73h0.8v0.8h-0.8zM59.12 203.49h0.8v0.8h-0.8zM47.56 196.4h0.8v0.8h-0.8zM48.05 201.94h0.8v0.8h-0.8zM57.24 199.15h0.8v0.8h-0.8zM50.78 200.54h0.8v0.8h-0.8zM55.21 195.65h0.8v0.8h-0.8zM57.17 196.01h0.8v0.8h-0.8zM61.19 201.82h0.8v0.8h-0.8zM50.53 201.64h0.8v0.8h-0.8zM55.44 195.82h0.8v0.8h-0.8zM47.65 200.56h0.8v0.8h-0.8zM62.85 196.17h0.8v0.8h-0.8zM56.04 200.55h0.8v0.8h-0.8zM60.07 200.99h0.8v0.8h-0.8zM62.98 202.45h0.8v0.8h-0.8zM50.05 200.79h0.8v0.8h-0.8zM55.13 201.61h0.8v0.8h-0.8zM53.04 202.75h0.8v0.8h-0.8zM63.59 195.22h0.8v0.8h-0.8zM51.47 200.17h0.8v0.8h-0.8zM58.19 199.65h0.8v0.8h-0.8zM60.4 193.68h0.8v0.8h-0.8zM60.04 204.25h0.8v0.8h-0.8zM62.22 200.92h0.8v0.8h-0.8zM53.46 200.8h0.8v0.8h-0.8zM51.07 198.82h0.8v0.8h-0.8zM51.65 194.8h0.8v0.8h-0.8zM53.49 197.33h0.8v0.8h-0.8zM55.45 198.78h0.8v0.8h-0.8zM56.12 203.47h0.8v0.8h-0.8zM55.89 200.83h0.8v0.8h-0.8zM52.4 202.05h0.8v0.8h-0.8zM52.79 196.2h0.8v0.8h-0.8zM46.94 203.01h0.8v0.8h-0.8zM51.57 200.1h0.8v0.8h-0.8zM62.35 201.41h0.8v0.8h-0.8zM61.22 202.12h0.8v0.8h-0.8zM50.74 199.21h0.8v0.8h-0.8zM51.33 194.39h0.8v0.8h-0.8zM56.95 195.51h0.8v0.8h-0.8zM65.92 195.67h0.8v0.8h-0.8zM51.46 199.41h0.8v0.8h-0.8zM51.63 199.24h0.8v0.8h-0.8zM64.89 201h0.8v0.8h-0.8zM56 196.91h0.8v0.8h-0.8zM54.05 200.35h0.8v0.8h-0.8zM45.97 195.41h0.8v0.8h-0.8zM49.21 204.67h0.8v0.8h-0.8zM48.13 204.28h0.8v0.8h-0.8zM54.49 199.15h0.8v0.8h-0.8zM63.78 202.94h0.8v0.8h-0.8zM61.11 194.19h0.8v0.8h-0.8zM62.38 206.56h0.8v0.8h-0.8zM54.33 196.82h0.8v0.8h-0.8zM47.91 203.58h0.8v0.8h-0.8zM56.91 199.03h0.8v0.8h-0.8zM46.97 206.29h0.8v0.8h-0.8zM60.69 198.91h0.8v0.8h-0.8zM64.6 194.72h0.8v0.8h-0.8zM60.73 194.51h0.8v0.8h-0.8zM64.17 197.76h0.8v0.8h-0.8zM62.95 197.13h0.8v0.8h-0.8zM57.59 204.14h0.8v0.8h-0.8zM49.14 199.44h0.8v0.8h-0.8zM49.55 202.83h0.8v0.8h-0.8zM51.08 197.32h0.8v0.8h-0.8zM53.68 204.24h0.8v0.8h-0.8zM48.23 198.89h0.8v0.8h-0.8zM52.86 196.53h0.8v0.8h-0.8zM49.88 198.28h0.8v0.8h-0.8zM56.52 193.67h0.8v0.8h-0.8zM48.71 198.7h0.8v0.8h-0.8zM53.34 203.42h0.8v0.8h-0.8zM44.53 199.8h0.8v0.8h-0.8zM56.65 203.8h0.8v0.8h-0.8zM51.51 202h0.8v0.8h-0.8zM48.08 204.83h0.8v0.8h-0.8zM54.54 195.95h0.8v0.8h-0.8zM56.16 206.84h0.8v0.8h-0.8zM49.49 193.42h0.8v0.8h-0.8zM48.4 193.8h0.8v0.8h-0.8zM54.67 200.58h0.8v0.8h-0.8zM53.93 199.89h0.8v0.8h-0.8zM62.7 197.7h0.8v0.8h-0.8zM56.57 195.94h0.8v0.8h-0.8zM53.38 200.84h0.8v0.8h-0.8zM48.78 199.33h0.8v0.8h-0.8zM54.07 204.16h0.8v0.8h-0.8zM48.69 200.75h0.8v0.8h-0.8zM56.55 201.41h0.8v0.8h-0.8zM58.51 195.77h0.8v0.8h-0.8zM51.19 200.3h0.8v0.8h-0.8zM55.9 194.68h0.8v0.8h-0.8zM65.27 205.62h0.8v0.8h-0.8zM48.92 200.68h0.8v0.8h-0.8z" fill="#f06070" fill-opacity="0.45"/>
<ellipse cx="78.5" cy="194.7" rx="10" ry="5" fill="#f08090" opacity="0.18" filter="url(#b1)"/>
<path d="M72.43 192.69h0.8v0.8h-0.8zM85.39 194.64h0.8v0.8h-0.8zM76.63 194.56h0.8v0.8h-0.8zM68.12 198.47h0.8v0.8h-0.8zM71.49 198.78h0.8v0.8h-0.8zM73.83 192.61h0.8v0.8h-0.8zM89.39 194.87h0.8v0.8h-0.8zM72.39 192.33h0.8v0.8h-0.8zM82.34 200.75h0.8v0.8h-0.8zM82.41 192.82h0.8v0.8h-0.8zM68.53 191.85h0.8v0.8h-0.8zM76.55 195.06h0.8v0.8h-0.8zM72.26 198.68h0.8v0.8h-0.8zM69.84 191.7h0.8v0.8h-0.8zM81.48 195.88h0.8v0.8h-0.8zM74.38 197.57h0.8v0.8h-0.8zM78.45 201.09h0.8v0.8h-0.8zM77.93 198.85h0.8v0.8h-0.8zM75.9 194.88h0.8v0.8h-0.8zM81.69 188.09h0.8v0.8h-0.8zM75.84 200.21h0.8v0.8h-0.8zM84.87 195.35h0.8v0.8h-0.8zM79.06 199.05h0.8v0.8h-0.8zM80.18 187.58h0.8v0.8h-0.8zM69.94 193.16h0.8v0.8h-0.8zM78.65 192.63h0.8v0.8h-0.8zM76.66 200.04h0.8v0.8h-0.8zM84.99 196.31h0.8v0.8h-0.8zM77.62 194.42h0.8v0.8h-0.8zM80.41 195.05h0.8v0.8h-0.8zM71.71 196.93h0.8v0.8h-0.8zM70.9 194.06h0.8v0.8h-0.8zM74.64 190.17h0.8v0.8h-0.8zM82.34 193.96h0.8v0.8h-0.8zM68.19 193.93h0.8v0.8h-0.8zM81.63 201.14h0.8v0.8h-0.8zM72.97 196.67h0.8v0.8h-0.8zM69.77 191.22h0.8v0.8h-0.8zM76.79 195.64h0.8v0.8h-0.8zM84.88 193.27h0.8v0.8h-0.8zM86.3 197.57h0.8v0.8h-0.8zM70.52 193.58h0.8v0.8h-0.8zM70.19 200.15h0.8v0.8h-0.8zM73.11 197.29h0.8v0.8h-0.8zM84.79 193.31h0.8v0.8h-0.8zM73.62 195.4h0.8v0.8h-0.8zM71.32 189.79h0.8v0.8h-0.8zM69.8 195.38h0.8v0.8h-0.8zM79.03 200.35h0.8v0.8h-0.8zM68.3 198.23h0.8v0.8h-0.8zM83.04 194.64h0.8v0.8h-0.8zM89.25 192.9h0.8v0.8h-0.8zM73.28 190.54h0.8v0.8h-0.8zM72.27 194.6h0.8v0.8h-0.8zM82.86 198.66h0.8v0.8h-0.8zM75.36 191.66h0.8v0.8h-0.8zM74.84 192.71h0.8v0.8h-0.8zM73.78 192.8h0.8v0.8h-0.8zM70.57 194.02h0.8v0.8h-0.8zM73.42 193.61h0.8v0.8h-0.8zM82.05 196.45h0.8v0.8h-0.8zM73.14 190.24h0.8v0.8h-0.8zM67.16 190.12h0.8v0.8h-0.8zM72.39 193.12h0.8v0.8h-0.8zM71.77 197.08h0.8v0.8h-0.8zM75.32 192.84h0.8v0.8h-0.8zM75.91 193.61h0.8v0.8h-0.8zM76.63 191.46h0.8v0.8h-0.8zM80.33 192.4h0.8v0.8h-0.8zM82.06 190.45h0.8v0.8h-0.8zM73.78 190.2h0.8v0.8h-0.8zM81 192.41h0.8v0.8h-0.8zM83.35 192.31h0.8v0.8h-0.8zM84.65 194.72h0.8v0.8h-0.8zM80.33 194.75h0.8v0.8h-0.8zM74.61 192.95h0.8v0.8h-0.8zM81.08 196.66h0.8v0.8h-0.8zM74.27 201.94h0.8v0.8h-0.8zM90.89 190.24h0.8v0.8h-0.8zM86.1 193.96h0.8v0.8h-0.8zM79.34 191.47h0.8v0.8h-0.8zM90.57 191.35h0.8v0.8h-0.8zM76.86 191.7h0.8v0.8h-0.8zM67.07 192.65h0.8v0.8h-0.8zM80.38 192.71h0.8v0.8h-0.8zM74.7 190.49h0.8v0.8h-0.8zM79.48 190.44h0.8v0.8h-0.8zM74.93 199.87h0.8v0.8h-0.8zM80.45 191.9h0.8v0.8h-0.8zM74.78 190.89h0.8v0.8h-0.8zM78.41 196.62h0.8v0.8h-0.8zM84.85 193.25h0.8v0.8h-0.8zM68.08 193.94h0.8v0.8h-0.8zM90.7 195.17h0.8v0.8h-0.8zM74.08 196.08h0.8v0.8h-0.8zM70.04 198.85h0.8v0.8h-0.8zM73.04 191.21h0.8v0.8h-0.8zM72.93 193.89h0.8v0.8h-0.8zM85.38 192.26h0.8v0.8h-0.8zM81.62 199.51h0.8v0.8h-0.8zM68.65 199.3h0.8v0.8h-0.8zM82.83 195.77h0.8v0.8h-0.8zM71.45 191.18h0.8v0.8h-0.8zM69.98 197.42h0.8v0.8h-0.8zM79.23 197.88h0.8v0.8h-0.8zM77.13 200.79h0.8v0.8h-0.8zM67.23 192.67h0.8v0.8h-0.8zM74.59 192.91h0.8v0.8h-0.8zM78.63 191.33h0.8v0.8h-0.8zM86.65 189.53h0.8v0.8h-0.8zM71.09 188.41h0.8v0.8h-0.8zM82.45 193.54h0.8v0.8h-0.8zM84.15 196.33h0.8v0.8h-0.8zM72.96 194.08h0.8v0.8h-0.8zM80.39 201.11h0.8v0.8h-0.8zM74.04 195.49h0.8v0.8h-0.8zM81.79 198.39h0.8v0.8h-0.8zM80.85 197.89h0.8v0.8h-0.8zM69.13 193.32h0.8v0.8h-0.8zM78.2 195.13h0.8v0.8h-0.8zM78.64 189.68h0.8v0.8h-0.8zM72.05 193.62h0.8v0.8h-0.8zM78.83 191.26h0.8v0.8h-0.8zM76.67 191.71h0.8v0.8h-0.8zM67.13 191.96h0.8v0.8h-0.8zM71.17 197.09h0.8v0.8h-0.8zM88.04 196.2h0.8v0.8h-0.8zM75.83 192.32h0.8v0.8h-0.8zM89.81 198.17h0.8v0.8h-0.8zM79.27 193.38h0.8v0.8h-0.8zM77.53 195.67h0.8v0.8h-0.8zM77.44 195.69h0.8v0.8h-0.8zM71.44 194.38h0.8v0.8h-0.8zM74.74 197.9h0.8v0.8h-0.8zM67.75 198.66h0.8v0.8h-0.8zM76.83 192.5h0.8v0.8h-0.8zM77.67 194.64h0.8v0.8h-0.8zM75.67 195.67h0.8v0.8h-0.8zM72.96 188.44h0.8v0.8h-0.8zM82.98 194.14h0.8v0.8h-0.8zM90.6 195.54h0.8v0.8h-0.8zM72.1 196.09h0.8v0.8h-0.8zM68.9 193.91h0.8v0.8h-0.8zM81.92 190.72h0.8v0.8h-0.8zM81.06 197.42h0.8v0.8h-0.8zM83.85 191.94h0.8v0.8h-0.8zM72.06 190.4h0.8v0.8h-0.8zM67.34 195.3h0.8v0.8h-0.8zM77.81 198.67h0.8v0.8h-0.8zM79.65 193.13h0.8v0.8h-0.8z" fill="#f07080" fill-opacity="0.45"/>
<path d="M42.5 176.9H108V242.2" stroke="#a8a8a8" fill="none" stroke-width="0.9"/>
<path d="M42.5 176.9V242.2H108" stroke="#2a2a2a" fill="none" stroke-width="1"/>
<rect x="43.7" y="184.4" width="22.8" height="24.4" fill="none" stroke="#6868c8" stroke-width="0.8"/>
<line x1="43.7" y1="193" x2="66.5" y2="193" stroke="#4848a8" stroke-width="1.0"/>
<rect x="66.5" y="187.2" width="24.5" height="15.2" fill="none" stroke="#6868c8" stroke-width="0.8"/>
<text x="46.1" y="182.8" font-size="5.8" font-weight="normal" text-anchor="start" fill="#000" style="font-family:'Liberation Serif',serif" textLength="14.4" lengthAdjust="spacingAndGlyphs">I (38.8)</text>
<text x="46.9" y="214.2" font-size="5.8" font-weight="normal" text-anchor="start" fill="#000" style="font-family:'Liberation Serif',serif" textLength="16.2" lengthAdjust="spacingAndGlyphs">II (22.7)</text>
<text x="73.5" y="185.8" font-size="5.8" font-weight="normal" text-anchor="start" fill="#000" style="font-family:'Liberation Serif',serif" textLength="14.4" lengthAdjust="spacingAndGlyphs">III (27)</text>
<path d="M41.3 182.7h1.2M41.3 197.1h1.2M41.3 211.6h1.2M41.3 227.9h1.2M41.3 235.6h1.2M50.2 242.2v1.2M56.9 242.2v1.2M72.3 242.2v1.2M87.7 242.2v1.2M101.2 242.2v1.2" stroke="#333" stroke-width="0.7" fill="none"/>
<text x="40.7" y="183.5" font-size="3.5" font-weight="normal" text-anchor="end" fill="#444">10⁴</text>
<text x="40.7" y="197.9" font-size="3.5" font-weight="normal" text-anchor="end" fill="#444">10³</text>
<text x="40.7" y="212.4" font-size="3.5" font-weight="normal" text-anchor="end" fill="#444">10²</text>
<text x="40.7" y="228.7" font-size="3.5" font-weight="normal" text-anchor="end" fill="#444">10¹</text>
<text x="40.7" y="236.4" font-size="3.5" font-weight="normal" text-anchor="end" fill="#444">0</text>
<text x="50.2" y="248.2" font-size="3.5" font-weight="normal" text-anchor="middle" fill="#444">0</text>
<text x="56.9" y="248.2" font-size="3.5" font-weight="normal" text-anchor="middle" fill="#444">10¹</text>
<text x="72.3" y="248.2" font-size="3.5" font-weight="normal" text-anchor="middle" fill="#444">10²</text>
<text x="87.7" y="248.2" font-size="3.5" font-weight="normal" text-anchor="middle" fill="#444">10³</text>
<text x="101.2" y="248.2" font-size="3.5" font-weight="normal" text-anchor="middle" fill="#444">10⁴</text>
<text x="33.9" y="209.55" font-size="2.6" font-weight="normal" text-anchor="middle" fill="#999" transform="rotate(-90 33.9 209.55)">PE-Cy7-A</text>
<text x="75.25" y="250" font-size="2.4" font-weight="normal" text-anchor="middle" fill="#999">FITC-A</text>
<path d="M157.08 83.15h0.8v0.8h-0.8zM186.93 55.92h0.8v0.8h-0.8zM169.72 75.35h0.8v0.8h-0.8zM180.31 70.26h0.8v0.8h-0.8zM145.42 64.93h0.8v0.8h-0.8zM173.92 78.37h0.8v0.8h-0.8zM149.02 75.68h0.8v0.8h-0.8zM171.18 76.15h0.8v0.8h-0.8zM140.07 69.37h0.8v0.8h-0.8zM154.92 74.25h0.8v0.8h-0.8zM155.5 59.52h0.8v0.8h-0.8zM171.85 64.51h0.8v0.8h-0.8zM177.74 65.1h0.8v0.8h-0.8zM165.75 80.87h0.8v0.8h-0.8zM144.66 78.46h0.8v0.8h-0.8zM142.34 84.9h0.8v0.8h-0.8zM140.23 78.24h0.8v0.8h-0.8zM157.07 61.14h0.8v0.8h-0.8zM158.35 71.24h0.8v0.8h-0.8zM159.33 59.34h0.8v0.8h-0.8zM164.62 64.92h0.8v0.8h-0.8zM186.39 67.53h0.8v0.8h-0.8zM160.33 62.66h0.8v0.8h-0.8zM186.47 65.6h0.8v0.8h-0.8zM170.67 81.64h0.8v0.8h-0.8zM158.27 79.22h0.8v0.8h-0.8zM152.66 58.94h0.8v0.8h-0.8zM141.07 69.6h0.8v0.8h-0.8zM181.82 61.88h0.8v0.8h-0.8zM160.58 79.45h0.8v0.8h-0.8z" fill="#c8d0f0" fill-opacity="0.3"/>
<path d="M149.53 47.82h0.8v0.8h-0.8zM144.78 45.59h0.8v0.8h-0.8zM159.88 43.43h0.8v0.8h-0.8zM150.48 50.09h0.8v0.8h-0.8zM148.87 46.42h0.8v0.8h-0.8zM139.55 48.44h0.8v0.8h-0.8zM147.84 50.02h0.8v0.8h-0.8zM149.55 44.88h0.8v0.8h-0.8zM152.14 45.29h0.8v0.8h-0.8zM147.48 50.81h0.8v0.8h-0.8zM154.82 46.38h0.8v0.8h-0.8zM153.96 48.59h0.8v0.8h-0.8zM152.85 46.18h0.8v0.8h-0.8zM150.36 47.3h0.8v0.8h-0.8zM152.77 47.13h0.8v0.8h-0.8zM147.3 45.81h0.8v0.8h-0.8zM152.24 43h0.8v0.8h-0.8zM149.96 48.38h0.8v0.8h-0.8zM150.83 45.16h0.8v0.8h-0.8zM149.89 44.55h0.8v0.8h-0.8zM154.81 44.88h0.8v0.8h-0.8zM141.84 42.32h0.8v0.8h-0.8zM151.47 46.69h0.8v0.8h-0.8zM147.69 42.01h0.8v0.8h-0.8zM149.27 43.46h0.8v0.8h-0.8zM146.79 46.04h0.8v0.8h-0.8zM146.25 47h0.8v0.8h-0.8zM146.38 44.62h0.8v0.8h-0.8zM148.89 50.53h0.8v0.8h-0.8zM157.72 48.95h0.8v0.8h-0.8zM146.4 46.06h0.8v0.8h-0.8zM154.47 48.52h0.8v0.8h-0.8zM142.03 45.88h0.8v0.8h-0.8zM146.38 48.35h0.8v0.8h-0.8zM153.12 44.4h0.8v0.8h-0.8zM160.49 45.2h0.8v0.8h-0.8zM161.96 45.53h0.8v0.8h-0.8zM149.59 51.87h0.8v0.8h-0.8zM147.42 44.6h0.8v0.8h-0.8zM157.22 45.93h0.8v0.8h-0.8zM152.34 42.19h0.8v0.8h-0.8zM158.76 49.06h0.8v0.8h-0.8zM151.75 48.21h0.8v0.8h-0.8zM147.55 44.6h0.8v0.8h-0.8zM142.31 47.18h0.8v0.8h-0.8zM156.05 48.67h0.8v0.8h-0.8zM154.5 48.22h0.8v0.8h-0.8zM145.5 42.06h0.8v0.8h-0.8zM153.14 46.56h0.8v0.8h-0.8zM154.82 45.21h0.8v0.8h-0.8zM145.69 47.41h0.8v0.8h-0.8zM147.28 41.04h0.8v0.8h-0.8zM147.02 43.37h0.8v0.8h-0.8zM144.55 44.37h0.8v0.8h-0.8zM154.64 53.23h0.8v0.8h-0.8zM158.46 44.79h0.8v0.8h-0.8zM155.59 45.83h0.8v0.8h-0.8zM151.97 43.99h0.8v0.8h-0.8zM149.64 40.94h0.8v0.8h-0.8zM158.77 43.72h0.8v0.8h-0.8zM152.87 44.26h0.8v0.8h-0.8zM151.32 42.47h0.8v0.8h-0.8zM148.17 48.83h0.8v0.8h-0.8zM152.91 40.13h0.8v0.8h-0.8zM154.17 42.06h0.8v0.8h-0.8zM151.4 47.63h0.8v0.8h-0.8zM146.86 45.08h0.8v0.8h-0.8zM148.8 47.27h0.8v0.8h-0.8zM154.47 50.2h0.8v0.8h-0.8zM151.6 52.13h0.8v0.8h-0.8zM145.37 51.47h0.8v0.8h-0.8zM148.72 48.39h0.8v0.8h-0.8zM149.38 46.31h0.8v0.8h-0.8zM145.51 47.23h0.8v0.8h-0.8zM159.91 46.5h0.8v0.8h-0.8zM149.9 46.07h0.8v0.8h-0.8zM153.49 45.43h0.8v0.8h-0.8zM149.98 46.71h0.8v0.8h-0.8zM156.38 48.95h0.8v0.8h-0.8zM144.85 44.13h0.8v0.8h-0.8zM150.1 48.63h0.8v0.8h-0.8zM154.74 45.42h0.8v0.8h-0.8zM160.41 45.56h0.8v0.8h-0.8zM156.88 50.38h0.8v0.8h-0.8zM157.81 46.66h0.8v0.8h-0.8zM152.82 41.41h0.8v0.8h-0.8zM141.29 44.2h0.8v0.8h-0.8zM153.52 49.29h0.8v0.8h-0.8zM149.5 49.21h0.8v0.8h-0.8zM152.83 50.69h0.8v0.8h-0.8zM142.21 43.53h0.8v0.8h-0.8zM145.32 42.88h0.8v0.8h-0.8zM158.07 43.24h0.8v0.8h-0.8zM145.94 44.84h0.8v0.8h-0.8zM154.33 44.65h0.8v0.8h-0.8zM153.61 47.72h0.8v0.8h-0.8zM145.51 42.26h0.8v0.8h-0.8zM158.01 43.87h0.8v0.8h-0.8zM144.76 47.2h0.8v0.8h-0.8zM150.26 43.21h0.8v0.8h-0.8zM155.36 48.83h0.8v0.8h-0.8zM151.37 43.75h0.8v0.8h-0.8zM145.73 39.82h0.8v0.8h-0.8zM151.88 47.24h0.8v0.8h-0.8zM145.49 46.13h0.8v0.8h-0.8zM141.64 47.9h0.8v0.8h-0.8zM147.91 44.55h0.8v0.8h-0.8zM153.05 45.65h0.8v0.8h-0.8zM154.87 47.61h0.8v0.8h-0.8zM155.69 46.41h0.8v0.8h-0.8zM139.43 50.17h0.8v0.8h-0.8zM141.66 49.22h0.8v0.8h-0.8zM151.24 41.82h0.8v0.8h-0.8zM150.33 48.72h0.8v0.8h-0.8zM144.99 46.17h0.8v0.8h-0.8zM146.38 42.99h0.8v0.8h-0.8zM146.97 49.92h0.8v0.8h-0.8zM153.36 45.95h0.8v0.8h-0.8zM149.6 46.43h0.8v0.8h-0.8zM151.4 46.6h0.8v0.8h-0.8zM141.58 48.84h0.8v0.8h-0.8zM153.45 42.37h0.8v0.8h-0.8zM149.31 45.75h0.8v0.8h-0.8zM147.1 47.67h0.8v0.8h-0.8zM148.66 45.19h0.8v0.8h-0.8zM145.32 45.18h0.8v0.8h-0.8zM144.92 46.16h0.8v0.8h-0.8zM156.49 49.11h0.8v0.8h-0.8zM152.1 41.89h0.8v0.8h-0.8zM155.05 48.88h0.8v0.8h-0.8zM150.08 45.02h0.8v0.8h-0.8zM155.34 42.73h0.8v0.8h-0.8zM148.13 53.09h0.8v0.8h-0.8zM154.89 39.97h0.8v0.8h-0.8zM150.1 50.2h0.8v0.8h-0.8zM146.97 47.85h0.8v0.8h-0.8zM150.49 41.58h0.8v0.8h-0.8zM146.92 49.49h0.8v0.8h-0.8zM155.82 44.2h0.8v0.8h-0.8zM155.53 43.86h0.8v0.8h-0.8zM151.21 45.96h0.8v0.8h-0.8zM143.86 47.01h0.8v0.8h-0.8zM145.93 43.45h0.8v0.8h-0.8zM145.9 43.05h0.8v0.8h-0.8zM154.38 46.25h0.8v0.8h-0.8zM151.25 45.21h0.8v0.8h-0.8zM150.31 45.22h0.8v0.8h-0.8zM144.64 41.39h0.8v0.8h-0.8zM150.37 49.13h0.8v0.8h-0.8zM151.15 50.94h0.8v0.8h-0.8zM143.29 45.21h0.8v0.8h-0.8zM146.96 49.78h0.8v0.8h-0.8zM158.34 44.43h0.8v0.8h-0.8zM153.6 45.28h0.8v0.8h-0.8zM145.09 45.68h0.8v0.8h-0.8zM144.88 50.75h0.8v0.8h-0.8zM152.9 49.65h0.8v0.8h-0.8zM153.95 46.3h0.8v0.8h-0.8zM154.97 51.24h0.8v0.8h-0.8zM144.97 48.43h0.8v0.8h-0.8z" fill="#5060d0" fill-opacity="0.45"/>
<path d="M151.64 35.08h0.8v0.8h-0.8zM148.61 36.42h0.8v0.8h-0.8zM152.84 36.67h0.8v0.8h-0.8zM147.99 32.89h0.8v0.8h-0.8zM156.48 37.89h0.8v0.8h-0.8zM147.22 35.35h0.8v0.8h-0.8zM153.97 32.05h0.8v0.8h-0.8zM151.34 34.06h0.8v0.8h-0.8zM160.05 35.43h0.8v0.8h-0.8zM151.04 34.6h0.8v0.8h-0.8zM150.89 31.97h0.8v0.8h-0.8zM143.69 32.58h0.8v0.8h-0.8zM154.44 35.23h0.8v0.8h-0.8zM155.67 31.51h0.8v0.8h-0.8zM147.05 38.2h0.8v0.8h-0.8zM146.1 31.84h0.8v0.8h-0.8zM146.33 34.74h0.8v0.8h-0.8zM149.94 37.9h0.8v0.8h-0.8zM156.54 38.38h0.8v0.8h-0.8zM152.86 34.44h0.8v0.8h-0.8z" fill="#8090e0" fill-opacity="0.4"/>
<path d="M138 23.6H203.5V88.9" stroke="#a8a8a8" fill="none" stroke-width="0.9"/>
<path d="M138 23.6V88.9H203.5" stroke="#2a2a2a" fill="none" stroke-width="1"/>
<rect x="139.2" y="31.4" width="22.8" height="24.1" fill="none" stroke="#eebbee" stroke-width="0.8"/>
<line x1="139.2" y1="39.5" x2="162" y2="39.5" stroke="#e070d0" stroke-width="1.0"/>
<rect x="162" y="33.9" width="24.5" height="15.2" fill="none" stroke="#eebbee" stroke-width="0.8"/>
<text x="141.6" y="29.8" font-size="5.8" font-weight="normal" text-anchor="start" fill="#000" style="font-family:'Liberation Serif',serif" textLength="14.4" lengthAdjust="spacingAndGlyphs">I (2.08)</text>
<text x="142.4" y="60.9" font-size="5.8" font-weight="normal" text-anchor="start" fill="#000" style="font-family:'Liberation Serif',serif" textLength="16.2" lengthAdjust="spacingAndGlyphs">II (78.8)</text>
<text x="169" y="32.5" font-size="5.8" font-weight="normal" text-anchor="start" fill="#000" style="font-family:'Liberation Serif',serif" textLength="18" lengthAdjust="spacingAndGlyphs">III (6.67)</text>
<path d="M136.8 29.4h1.2M136.8 43.8h1.2M136.8 58.3h1.2M136.8 74.6h1.2M136.8 82.3h1.2M145.7 88.9v1.2M152.4 88.9v1.2M167.8 88.9v1.2M183.2 88.9v1.2M196.7 88.9v1.2" stroke="#333" stroke-width="0.7" fill="none"/>
<text x="136.2" y="30.2" font-size="3.5" font-weight="normal" text-anchor="end" fill="#444">10⁴</text>
<text x="136.2" y="44.6" font-size="3.5" font-weight="normal" text-anchor="end" fill="#444">10³</text>
<text x="136.2" y="59.1" font-size="3.5" font-weight="normal" text-anchor="end" fill="#444">10²</text>
<text x="136.2" y="75.4" font-size="3.5" font-weight="normal" text-anchor="end" fill="#444">10¹</text>
<text x="136.2" y="83.1" font-size="3.5" font-weight="normal" text-anchor="end" fill="#444">0</text>
<text x="145.7" y="94.9" font-size="3.5" font-weight="normal" text-anchor="middle" fill="#444">0</text>
<text x="152.4" y="94.9" font-size="3.5" font-weight="normal" text-anchor="middle" fill="#444">10¹</text>
<text x="167.8" y="94.9" font-size="3.5" font-weight="normal" text-anchor="middle" fill="#444">10²</text>
<text x="183.2" y="94.9" font-size="3.5" font-weight="normal" text-anchor="middle" fill="#444">10³</text>
<text x="196.7" y="94.9" font-size="3.5" font-weight="normal" text-anchor="middle" fill="#444">10⁴</text>
<text x="129.4" y="56.25" font-size="2.6" font-weight="normal" text-anchor="middle" fill="#999" transform="rotate(-90 129.4 56.25)">PE-Cy7-A</text>
<text x="170.75" y="96.7" font-size="2.4" font-weight="normal" text-anchor="middle" fill="#999">FITC-A</text>
<path d="M173.16 152.57h0.8v0.8h-0.8zM144.97 155.86h0.8v0.8h-0.8zM176.55 141.09h0.8v0.8h-0.8zM143.81 140.32h0.8v0.8h-0.8zM176.81 146.11h0.8v0.8h-0.8zM178.95 136.5h0.8v0.8h-0.8zM144.22 142.42h0.8v0.8h-0.8zM182.11 136.57h0.8v0.8h-0.8zM142.6 155.06h0.8v0.8h-0.8zM143.47 152.4h0.8v0.8h-0.8zM143.09 139.23h0.8v0.8h-0.8zM171.52 158.84h0.8v0.8h-0.8zM159.05 145.57h0.8v0.8h-0.8zM140.52 142.16h0.8v0.8h-0.8zM150.86 156.19h0.8v0.8h-0.8zM174 156.05h0.8v0.8h-0.8zM165.05 153.39h0.8v0.8h-0.8zM145.23 143.55h0.8v0.8h-0.8zM153.35 140.33h0.8v0.8h-0.8zM175.22 138.2h0.8v0.8h-0.8zM154.94 140.34h0.8v0.8h-0.8zM181.34 151.48h0.8v0.8h-0.8zM162.55 143.39h0.8v0.8h-0.8zM184.16 160.9h0.8v0.8h-0.8zM161.03 149.24h0.8v0.8h-0.8zM181.26 139.53h0.8v0.8h-0.8zM151.67 134.73h0.8v0.8h-0.8zM163.6 155.55h0.8v0.8h-0.8zM146.67 145.04h0.8v0.8h-0.8zM187.54 146.56h0.8v0.8h-0.8z" fill="#c8d0f0" fill-opacity="0.3"/>
<path d="M141.52 124.36h0.8v0.8h-0.8zM154.54 118.67h0.8v0.8h-0.8zM156.09 123.49h0.8v0.8h-0.8zM147.24 118.33h0.8v0.8h-0.8zM145.08 120.27h0.8v0.8h-0.8zM143.64 121.62h0.8v0.8h-0.8zM161.11 117.08h0.8v0.8h-0.8zM156.12 118.97h0.8v0.8h-0.8zM153.2 120.14h0.8v0.8h-0.8zM157.55 118.46h0.8v0.8h-0.8zM154.31 118.27h0.8v0.8h-0.8zM151.35 120.46h0.8v0.8h-0.8zM156.4 115.97h0.8v0.8h-0.8zM142.07 124.5h0.8v0.8h-0.8zM152.27 125.38h0.8v0.8h-0.8zM143.95 121.11h0.8v0.8h-0.8zM153.55 125.58h0.8v0.8h-0.8zM149.69 119.21h0.8v0.8h-0.8zM154.2 120.21h0.8v0.8h-0.8zM145.6 122.69h0.8v0.8h-0.8zM158 119.06h0.8v0.8h-0.8zM148.1 121.57h0.8v0.8h-0.8zM156.59 122.02h0.8v0.8h-0.8zM144.34 118.87h0.8v0.8h-0.8zM156.16 120.16h0.8v0.8h-0.8zM146.3 123.01h0.8v0.8h-0.8zM156.7 126.76h0.8v0.8h-0.8zM143.69 118.47h0.8v0.8h-0.8zM145.93 121.52h0.8v0.8h-0.8zM147.2 123.71h0.8v0.8h-0.8zM146.23 119.71h0.8v0.8h-0.8zM153.33 121.08h0.8v0.8h-0.8zM144.06 124.82h0.8v0.8h-0.8zM153.38 119.09h0.8v0.8h-0.8zM151.23 117.32h0.8v0.8h-0.8zM142.8 119.64h0.8v0.8h-0.8zM152.14 120.79h0.8v0.8h-0.8zM145.46 116.52h0.8v0.8h-0.8zM140.17 125.09h0.8v0.8h-0.8zM152.16 118.2h0.8v0.8h-0.8zM156.95 122.05h0.8v0.8h-0.8zM147.58 118.74h0.8v0.8h-0.8zM156.67 121.44h0.8v0.8h-0.8zM159.58 121.54h0.8v0.8h-0.8zM146.58 118.78h0.8v0.8h-0.8zM145.88 121.23h0.8v0.8h-0.8zM151.49 122.25h0.8v0.8h-0.8zM152.64 117.48h0.8v0.8h-0.8zM148.81 117.79h0.8v0.8h-0.8zM152.82 116.72h0.8v0.8h-0.8zM146.6 118.03h0.8v0.8h-0.8zM146.39 119.76h0.8v0.8h-0.8zM158.84 119.76h0.8v0.8h-0.8zM141.62 119.63h0.8v0.8h-0.8zM154.38 122.09h0.8v0.8h-0.8zM151.4 126.23h0.8v0.8h-0.8zM156.49 120.76h0.8v0.8h-0.8zM157.11 116.65h0.8v0.8h-0.8zM149.01 118.01h0.8v0.8h-0.8zM151.04 125.15h0.8v0.8h-0.8zM147.11 125.08h0.8v0.8h-0.8zM144.04 124.6h0.8v0.8h-0.8zM140.11 118.06h0.8v0.8h-0.8zM155.83 120.24h0.8v0.8h-0.8zM150.85 120.46h0.8v0.8h-0.8zM151.06 119.99h0.8v0.8h-0.8zM144.29 119.67h0.8v0.8h-0.8zM150.65 117.91h0.8v0.8h-0.8zM152.73 125.57h0.8v0.8h-0.8zM140.43 118.93h0.8v0.8h-0.8zM148.37 120.55h0.8v0.8h-0.8zM150.56 118.41h0.8v0.8h-0.8zM149.8 120.52h0.8v0.8h-0.8zM149.5 124.93h0.8v0.8h-0.8zM150.76 116.25h0.8v0.8h-0.8zM140.87 122.2h0.8v0.8h-0.8zM148.01 118.72h0.8v0.8h-0.8zM142.1 119.61h0.8v0.8h-0.8zM149.47 118.53h0.8v0.8h-0.8zM147.95 123.05h0.8v0.8h-0.8zM154.58 122.07h0.8v0.8h-0.8zM148.99 116.59h0.8v0.8h-0.8zM154.53 124.81h0.8v0.8h-0.8zM157.43 123.85h0.8v0.8h-0.8zM151.62 121.58h0.8v0.8h-0.8zM149.92 124.11h0.8v0.8h-0.8zM148.44 126.68h0.8v0.8h-0.8zM154.54 119.58h0.8v0.8h-0.8zM149.99 115.87h0.8v0.8h-0.8zM145.73 119.64h0.8v0.8h-0.8zM155.35 120.72h0.8v0.8h-0.8zM148.28 122.3h0.8v0.8h-0.8zM161.28 121.35h0.8v0.8h-0.8zM149.64 120.96h0.8v0.8h-0.8zM153.86 119.09h0.8v0.8h-0.8zM150.7 121.95h0.8v0.8h-0.8zM147.97 121.62h0.8v0.8h-0.8zM151.95 122.56h0.8v0.8h-0.8zM144.25 118.96h0.8v0.8h-0.8zM147.52 123.95h0.8v0.8h-0.8zM151.45 115.74h0.8v0.8h-0.8zM142.56 126.08h0.8v0.8h-0.8zM151.98 116.78h0.8v0.8h-0.8zM144.7 120.91h0.8v0.8h-0.8zM158.31 125.16h0.8v0.8h-0.8zM147.88 119.64h0.8v0.8h-0.8zM161.18 117.67h0.8v0.8h-0.8zM159.11 121.48h0.8v0.8h-0.8zM150.55 124.21h0.8v0.8h-0.8zM152.81 118.09h0.8v0.8h-0.8zM141.12 120.55h0.8v0.8h-0.8zM152.99 124.44h0.8v0.8h-0.8zM153.61 124.87h0.8v0.8h-0.8zM154.64 121.11h0.8v0.8h-0.8zM152.52 121.65h0.8v0.8h-0.8zM146.34 120.17h0.8v0.8h-0.8zM150.75 119.2h0.8v0.8h-0.8zM141.47 116.34h0.8v0.8h-0.8zM152.94 122h0.8v0.8h-0.8zM150.63 117.13h0.8v0.8h-0.8zM154.96 119.37h0.8v0.8h-0.8zM141.31 126.99h0.8v0.8h-0.8zM153.11 119.23h0.8v0.8h-0.8zM158.63 124.42h0.8v0.8h-0.8zM151.51 115.57h0.8v0.8h-0.8zM147.78 119.69h0.8v0.8h-0.8zM152.69 120.14h0.8v0.8h-0.8zM152.01 115.8h0.8v0.8h-0.8zM146.25 124.66h0.8v0.8h-0.8zM141.54 123.16h0.8v0.8h-0.8zM141.91 124.09h0.8v0.8h-0.8zM147.62 124.07h0.8v0.8h-0.8zM156.87 121.05h0.8v0.8h-0.8zM160.44 123.34h0.8v0.8h-0.8zM147.22 117.67h0.8v0.8h-0.8zM152.4 120.17h0.8v0.8h-0.8zM147.25 115.86h0.8v0.8h-0.8zM149.16 120.17h0.8v0.8h-0.8zM155.72 119.02h0.8v0.8h-0.8zM140.89 117.4h0.8v0.8h-0.8z" fill="#5070d8" fill-opacity="0.45"/>
<path d="M149.77 111.98h0.8v0.8h-0.8zM154.22 110.76h0.8v0.8h-0.8zM153.14 111.78h0.8v0.8h-0.8zM159.84 111.39h0.8v0.8h-0.8zM150.84 112.59h0.8v0.8h-0.8zM157.1 109.73h0.8v0.8h-0.8zM147.24 110.97h0.8v0.8h-0.8zM156.25 111.54h0.8v0.8h-0.8zM161.79 114.52h0.8v0.8h-0.8zM155.28 108.77h0.8v0.8h-0.8zM158.93 112.31h0.8v0.8h-0.8zM143.03 111.6h0.8v0.8h-0.8zM154.4 113.4h0.8v0.8h-0.8zM151.02 110.49h0.8v0.8h-0.8zM154.46 110.03h0.8v0.8h-0.8zM149.55 112.97h0.8v0.8h-0.8zM141.61 112.22h0.8v0.8h-0.8zM142.83 111.33h0.8v0.8h-0.8zM154.17 111.4h0.8v0.8h-0.8zM155.33 111.69h0.8v0.8h-0.8zM148.81 112.45h0.8v0.8h-0.8zM148.61 111.76h0.8v0.8h-0.8zM156.07 110.4h0.8v0.8h-0.8zM156.72 109.37h0.8v0.8h-0.8zM148.72 108.16h0.8v0.8h-0.8zM146.91 114.56h0.8v0.8h-0.8zM152.08 113.95h0.8v0.8h-0.8zM141.43 109.55h0.8v0.8h-0.8zM152.72 113.1h0.8v0.8h-0.8zM154.88 108.27h0.8v0.8h-0.8z" fill="#80a0e8" fill-opacity="0.4"/>
<path d="M176.48 116.59h0.8v0.8h-0.8zM173.82 118.18h0.8v0.8h-0.8zM171.1 111.9h0.8v0.8h-0.8zM165.73 112.62h0.8v0.8h-0.8zM164.05 116.41h0.8v0.8h-0.8zM181.9 114.74h0.8v0.8h-0.8zM167.8 113.48h0.8v0.8h-0.8zM169.7 116.11h0.8v0.8h-0.8zM166.46 118.21h0.8v0.8h-0.8zM164.82 118.39h0.8v0.8h-0.8zM168.5 119.08h0.8v0.8h-0.8zM166.95 118.08h0.8v0.8h-0.8zM176 116.57h0.8v0.8h-0.8zM184.13 117.31h0.8v0.8h-0.8zM166.96 118.8h0.8v0.8h-0.8zM167.39 115.24h0.8v0.8h-0.8zM173.08 117.33h0.8v0.8h-0.8zM184.62 111.75h0.8v0.8h-0.8zM171.25 120.07h0.8v0.8h-0.8zM171.91 117.73h0.8v0.8h-0.8zM183.4 113.23h0.8v0.8h-0.8zM173.3 119.1h0.8v0.8h-0.8zM169 111.73h0.8v0.8h-0.8zM166.2 117.36h0.8v0.8h-0.8zM174.29 122.14h0.8v0.8h-0.8zM182.05 112.32h0.8v0.8h-0.8zM180.07 119.45h0.8v0.8h-0.8zM184.05 116.36h0.8v0.8h-0.8zM169.21 117.23h0.8v0.8h-0.8zM183.55 118.61h0.8v0.8h-0.8z" fill="#80a0e8" fill-opacity="0.35"/>
<path d="M138 99.5H203.5V164.8" stroke="#a8a8a8" fill="none" stroke-width="0.9"/>
<path d="M138 99.5V164.8H203.5" stroke="#2a2a2a" fill="none" stroke-width="1"/>
<rect x="139.2" y="107.5" width="22.8" height="24" fill="none" stroke="#e898e0" stroke-width="0.8"/>
<line x1="139.2" y1="115.5" x2="162" y2="115.5" stroke="#e060c8" stroke-width="1.0"/>
<rect x="162" y="109.8" width="24.5" height="14.8" fill="none" stroke="#e898e0" stroke-width="0.8"/>
<text x="141.6" y="105.9" font-size="5.8" font-weight="normal" text-anchor="start" fill="#000" style="font-family:'Liberation Serif',serif" textLength="14.4" lengthAdjust="spacingAndGlyphs">I (8.12)</text>
<text x="142.4" y="136.9" font-size="5.8" font-weight="normal" text-anchor="start" fill="#000" style="font-family:'Liberation Serif',serif" textLength="16.2" lengthAdjust="spacingAndGlyphs">II (74.8)</text>
<text x="169" y="108.4" font-size="5.8" font-weight="normal" text-anchor="start" fill="#000" style="font-family:'Liberation Serif',serif" textLength="18" lengthAdjust="spacingAndGlyphs">III (11.1)</text>
<path d="M136.8 105.3h1.2M136.8 119.7h1.2M136.8 134.2h1.2M136.8 150.5h1.2M136.8 158.2h1.2M145.7 164.8v1.2M152.4 164.8v1.2M167.8 164.8v1.2M183.2 164.8v1.2M196.7 164.8v1.2" stroke="#333" stroke-width="0.7" fill="none"/>
<text x="136.2" y="106.1" font-size="3.5" font-weight="normal" text-anchor="end" fill="#444">10⁴</text>
<text x="136.2" y="120.5" font-size="3.5" font-weight="normal" text-anchor="end" fill="#444">10³</text>
<text x="136.2" y="135" font-size="3.5" font-weight="normal" text-anchor="end" fill="#444">10²</text>
<text x="136.2" y="151.3" font-size="3.5" font-weight="normal" text-anchor="end" fill="#444">10¹</text>
<text x="136.2" y="159" font-size="3.5" font-weight="normal" text-anchor="end" fill="#444">0</text>
<text x="145.7" y="170.8" font-size="3.5" font-weight="normal" text-anchor="middle" fill="#444">0</text>
<text x="152.4" y="170.8" font-size="3.5" font-weight="normal" text-anchor="middle" fill="#444">10¹</text>
<text x="167.8" y="170.8" font-size="3.5" font-weight="normal" text-anchor="middle" fill="#444">10²</text>
<text x="183.2" y="170.8" font-size="3.5" font-weight="normal" text-anchor="middle" fill="#444">10³</text>
<text x="196.7" y="170.8" font-size="3.5" font-weight="normal" text-anchor="middle" fill="#444">10⁴</text>
<text x="129.4" y="132.15" font-size="2.6" font-weight="normal" text-anchor="middle" fill="#999" transform="rotate(-90 129.4 132.15)">PE-Cy7-A</text>
<text x="170.75" y="172.6" font-size="2.4" font-weight="normal" text-anchor="middle" fill="#999">FITC-A</text>
<path d="M142.36 234.24h0.8v0.8h-0.8zM171.62 223.77h0.8v0.8h-0.8zM182.69 238.1h0.8v0.8h-0.8zM169.21 212.11h0.8v0.8h-0.8zM167.84 222.13h0.8v0.8h-0.8zM151.23 237.97h0.8v0.8h-0.8zM174.78 212.8h0.8v0.8h-0.8zM150.22 219.69h0.8v0.8h-0.8zM167.07 219.13h0.8v0.8h-0.8zM160.54 234.38h0.8v0.8h-0.8zM147.91 231.47h0.8v0.8h-0.8zM155.2 238.47h0.8v0.8h-0.8zM185.64 219.22h0.8v0.8h-0.8zM168.7 212.46h0.8v0.8h-0.8zM159.11 228.45h0.8v0.8h-0.8zM170.27 219.69h0.8v0.8h-0.8zM140.66 212.88h0.8v0.8h-0.8zM166.46 214.34h0.8v0.8h-0.8zM154 228.29h0.8v0.8h-0.8zM183.14 225.08h0.8v0.8h-0.8zM151.48 227.28h0.8v0.8h-0.8zM152.51 233.41h0.8v0.8h-0.8zM146.65 217.17h0.8v0.8h-0.8zM160.49 237.33h0.8v0.8h-0.8zM147.11 215h0.8v0.8h-0.8zM145.45 215.67h0.8v0.8h-0.8zM155.28 221.33h0.8v0.8h-0.8zM176.22 221.6h0.8v0.8h-0.8zM162.28 221.37h0.8v0.8h-0.8zM176.94 237.18h0.8v0.8h-0.8z" fill="#c8d0f0" fill-opacity="0.3"/>
<path d="M141.03 198.34h0.8v0.8h-0.8zM146.49 201.46h0.8v0.8h-0.8zM158.25 205.55h0.8v0.8h-0.8zM144.1 204.08h0.8v0.8h-0.8zM142.88 200.49h0.8v0.8h-0.8zM151 201.71h0.8v0.8h-0.8zM145.32 204.48h0.8v0.8h-0.8zM149.6 199.23h0.8v0.8h-0.8zM148.44 195.17h0.8v0.8h-0.8zM154.22 200.6h0.8v0.8h-0.8zM152.67 206.53h0.8v0.8h-0.8zM144.92 198.2h0.8v0.8h-0.8zM150.04 202.62h0.8v0.8h-0.8zM148.96 202.92h0.8v0.8h-0.8zM148.33 197.68h0.8v0.8h-0.8zM153.46 199.96h0.8v0.8h-0.8zM149.63 204.2h0.8v0.8h-0.8zM153.48 194.52h0.8v0.8h-0.8zM145.96 200.57h0.8v0.8h-0.8zM159.97 198.53h0.8v0.8h-0.8zM149 200.33h0.8v0.8h-0.8zM154.59 198.95h0.8v0.8h-0.8zM151.73 197.67h0.8v0.8h-0.8zM146.78 196.22h0.8v0.8h-0.8zM153.86 197.14h0.8v0.8h-0.8zM153.22 200.88h0.8v0.8h-0.8zM144.34 194.57h0.8v0.8h-0.8zM149.04 202.43h0.8v0.8h-0.8zM157.96 200.78h0.8v0.8h-0.8zM147.73 201.38h0.8v0.8h-0.8zM150.05 201.7h0.8v0.8h-0.8zM143.97 195.05h0.8v0.8h-0.8zM146.23 199.13h0.8v0.8h-0.8zM152.05 197.92h0.8v0.8h-0.8zM152.05 201.94h0.8v0.8h-0.8zM143.2 198.91h0.8v0.8h-0.8zM140.88 197.17h0.8v0.8h-0.8zM155.3 196.52h0.8v0.8h-0.8zM160.92 201.26h0.8v0.8h-0.8zM155.21 199.71h0.8v0.8h-0.8zM155.07 203.55h0.8v0.8h-0.8zM150.63 197.24h0.8v0.8h-0.8zM146.78 206.81h0.8v0.8h-0.8zM148.93 197.52h0.8v0.8h-0.8zM147.07 200.56h0.8v0.8h-0.8zM147.15 196.35h0.8v0.8h-0.8zM152.4 201.09h0.8v0.8h-0.8zM147.44 200.5h0.8v0.8h-0.8zM144.3 202.65h0.8v0.8h-0.8zM144.22 197.99h0.8v0.8h-0.8zM150.8 197.67h0.8v0.8h-0.8zM143.29 207.46h0.8v0.8h-0.8zM150.71 194.37h0.8v0.8h-0.8zM151.83 194.23h0.8v0.8h-0.8zM153.41 201.37h0.8v0.8h-0.8zM160.02 203.99h0.8v0.8h-0.8zM147.32 202.98h0.8v0.8h-0.8zM147.31 198.86h0.8v0.8h-0.8zM148.62 201.35h0.8v0.8h-0.8zM146.19 201.95h0.8v0.8h-0.8zM156.45 205.51h0.8v0.8h-0.8zM139.36 201.09h0.8v0.8h-0.8zM147.18 202.28h0.8v0.8h-0.8zM140.11 198.75h0.8v0.8h-0.8zM154.15 196.79h0.8v0.8h-0.8zM147.88 195.49h0.8v0.8h-0.8zM156.53 194.13h0.8v0.8h-0.8zM144.65 198.01h0.8v0.8h-0.8zM148.14 207.53h0.8v0.8h-0.8zM151.61 196.06h0.8v0.8h-0.8zM153.41 200.64h0.8v0.8h-0.8zM151.65 199.05h0.8v0.8h-0.8zM152.71 194.74h0.8v0.8h-0.8zM142.95 197.64h0.8v0.8h-0.8zM143.53 202.03h0.8v0.8h-0.8zM161.38 204.11h0.8v0.8h-0.8zM152.62 200.62h0.8v0.8h-0.8zM145.98 194.24h0.8v0.8h-0.8zM153.21 193.54h0.8v0.8h-0.8zM151.77 198.75h0.8v0.8h-0.8zM154.4 199.5h0.8v0.8h-0.8zM150.62 197.04h0.8v0.8h-0.8zM139.91 197.96h0.8v0.8h-0.8zM154.08 203.37h0.8v0.8h-0.8zM158.08 195.42h0.8v0.8h-0.8zM144.51 202.03h0.8v0.8h-0.8zM151.84 193.38h0.8v0.8h-0.8zM146.75 205.42h0.8v0.8h-0.8zM139.3 199.89h0.8v0.8h-0.8zM141.87 205.54h0.8v0.8h-0.8zM147.38 195.29h0.8v0.8h-0.8zM139.98 196.52h0.8v0.8h-0.8zM148.44 194.78h0.8v0.8h-0.8zM152 197.46h0.8v0.8h-0.8zM145.03 204.69h0.8v0.8h-0.8zM152.58 195.84h0.8v0.8h-0.8zM158.67 199.09h0.8v0.8h-0.8zM152.95 199.88h0.8v0.8h-0.8zM156.92 201.7h0.8v0.8h-0.8zM147.96 202.1h0.8v0.8h-0.8z" fill="#60b0e0" fill-opacity="0.4"/>
<path d="M170.33 195.19h0.8v0.8h-0.8zM184.23 191.7h0.8v0.8h-0.8zM165.92 193.63h0.8v0.8h-0.8zM169.59 198.61h0.8v0.8h-0.8zM162.11 201.51h0.8v0.8h-0.8zM183.85 193.49h0.8v0.8h-0.8zM174.27 193.75h0.8v0.8h-0.8zM177.6 196.74h0.8v0.8h-0.8zM178.15 197.04h0.8v0.8h-0.8zM186.23 194.3h0.8v0.8h-0.8zM177.79 194.26h0.8v0.8h-0.8zM173.27 195.44h0.8v0.8h-0.8zM172.65 195.81h0.8v0.8h-0.8zM167.17 194.35h0.8v0.8h-0.8zM168.86 191.38h0.8v0.8h-0.8zM168.16 193.35h0.8v0.8h-0.8zM171.98 190.23h0.8v0.8h-0.8zM171.24 191.5h0.8v0.8h-0.8zM167.4 195.35h0.8v0.8h-0.8zM180.59 195.64h0.8v0.8h-0.8zM169.65 193.52h0.8v0.8h-0.8zM182.17 190.05h0.8v0.8h-0.8zM180.8 190.41h0.8v0.8h-0.8zM168.66 194.94h0.8v0.8h-0.8zM171.48 199.66h0.8v0.8h-0.8zM176.38 194.66h0.8v0.8h-0.8zM179.53 194.91h0.8v0.8h-0.8zM167.48 198.09h0.8v0.8h-0.8zM183.27 198.55h0.8v0.8h-0.8zM164.95 200.38h0.8v0.8h-0.8zM170.15 197.05h0.8v0.8h-0.8zM181.17 201.76h0.8v0.8h-0.8zM181.08 196.25h0.8v0.8h-0.8zM176.02 194.26h0.8v0.8h-0.8zM172.97 195.48h0.8v0.8h-0.8zM178.17 194.02h0.8v0.8h-0.8zM166.85 193.74h0.8v0.8h-0.8zM172.45 200.36h0.8v0.8h-0.8zM180.22 195.16h0.8v0.8h-0.8zM178.04 194.01h0.8v0.8h-0.8zM166.79 197.73h0.8v0.8h-0.8zM173.92 199.49h0.8v0.8h-0.8zM171.2 193.7h0.8v0.8h-0.8zM175.36 194.24h0.8v0.8h-0.8zM170.86 192.18h0.8v0.8h-0.8zM174.75 195.75h0.8v0.8h-0.8zM185.55 194.72h0.8v0.8h-0.8zM167.5 194.31h0.8v0.8h-0.8zM171.71 190.37h0.8v0.8h-0.8zM176.96 192.23h0.8v0.8h-0.8zM177.35 200.44h0.8v0.8h-0.8zM181.58 195.37h0.8v0.8h-0.8zM169.49 194.04h0.8v0.8h-0.8zM179.64 193.28h0.8v0.8h-0.8zM175.86 197.64h0.8v0.8h-0.8zM166.78 193.07h0.8v0.8h-0.8zM176.08 194.82h0.8v0.8h-0.8zM172.15 193.25h0.8v0.8h-0.8zM172.56 200.24h0.8v0.8h-0.8zM182.33 190.07h0.8v0.8h-0.8zM173.33 195.07h0.8v0.8h-0.8zM173.25 190.75h0.8v0.8h-0.8zM172.11 195.24h0.8v0.8h-0.8zM168.32 195.72h0.8v0.8h-0.8zM173.7 195.95h0.8v0.8h-0.8zM171.86 193.45h0.8v0.8h-0.8zM174.27 197.98h0.8v0.8h-0.8zM179.17 194.57h0.8v0.8h-0.8zM169.8 197.92h0.8v0.8h-0.8zM176.72 197.39h0.8v0.8h-0.8zM171.1 192.27h0.8v0.8h-0.8zM174.28 192.97h0.8v0.8h-0.8zM180.9 197.31h0.8v0.8h-0.8zM182.15 197.85h0.8v0.8h-0.8zM169.75 192.27h0.8v0.8h-0.8zM179.67 197.78h0.8v0.8h-0.8zM173.41 191.41h0.8v0.8h-0.8zM162.51 195.58h0.8v0.8h-0.8zM167.32 192.8h0.8v0.8h-0.8zM176.05 197.88h0.8v0.8h-0.8zM181.93 194.68h0.8v0.8h-0.8zM170.65 196.68h0.8v0.8h-0.8zM165.18 191.21h0.8v0.8h-0.8zM173.15 199.39h0.8v0.8h-0.8zM179.98 194.79h0.8v0.8h-0.8zM179.95 193.59h0.8v0.8h-0.8zM164.9 189.88h0.8v0.8h-0.8zM174.86 197.44h0.8v0.8h-0.8zM175.56 194.69h0.8v0.8h-0.8zM170.25 198h0.8v0.8h-0.8z" fill="#60a8e0" fill-opacity="0.4"/>
<path d="M138 176.9H203.5V242.2" stroke="#a8a8a8" fill="none" stroke-width="0.9"/>
<path d="M138 176.9V242.2H203.5" stroke="#2a2a2a" fill="none" stroke-width="1"/>
<rect x="139.2" y="184.5" width="22.8" height="24.5" fill="none" stroke="#e898e0" stroke-width="0.8"/>
<line x1="139.2" y1="193.3" x2="162" y2="193.3" stroke="#e060c8" stroke-width="1.0"/>
<rect x="162" y="187.8" width="24.5" height="15.2" fill="none" stroke="#e898e0" stroke-width="0.8"/>
<text x="141.6" y="182.9" font-size="5.8" font-weight="normal" text-anchor="start" fill="#000" style="font-family:'Liberation Serif',serif" textLength="14.4" lengthAdjust="spacingAndGlyphs">I (6.46)</text>
<text x="142.4" y="214.4" font-size="5.8" font-weight="normal" text-anchor="start" fill="#000" style="font-family:'Liberation Serif',serif" textLength="16.2" lengthAdjust="spacingAndGlyphs">II (36.1)</text>
<text x="169" y="186.4" font-size="5.8" font-weight="normal" text-anchor="start" fill="#000" style="font-family:'Liberation Serif',serif" textLength="18" lengthAdjust="spacingAndGlyphs">III (42.2)</text>
<path d="M136.8 182.7h1.2M136.8 197.1h1.2M136.8 211.6h1.2M136.8 227.9h1.2M136.8 235.6h1.2M145.7 242.2v1.2M152.4 242.2v1.2M167.8 242.2v1.2M183.2 242.2v1.2M196.7 242.2v1.2" stroke="#333" stroke-width="0.7" fill="none"/>
<text x="136.2" y="183.5" font-size="3.5" font-weight="normal" text-anchor="end" fill="#444">10⁴</text>
<text x="136.2" y="197.9" font-size="3.5" font-weight="normal" text-anchor="end" fill="#444">10³</text>
<text x="136.2" y="212.4" font-size="3.5" font-weight="normal" text-anchor="end" fill="#444">10²</text>
<text x="136.2" y="228.7" font-size="3.5" font-weight="normal" text-anchor="end" fill="#444">10¹</text>
<text x="136.2" y="236.4" font-size="3.5" font-weight="normal" text-anchor="end" fill="#444">0</text>
<text x="145.7" y="248.2" font-size="3.5" font-weight="normal" text-anchor="middle" fill="#444">0</text>
<text x="152.4" y="248.2" font-size="3.5" font-weight="normal" text-anchor="middle" fill="#444">10¹</text>
<text x="167.8" y="248.2" font-size="3.5" font-weight="normal" text-anchor="middle" fill="#444">10²</text>
<text x="183.2" y="248.2" font-size="3.5" font-weight="normal" text-anchor="middle" fill="#444">10³</text>
<text x="196.7" y="248.2" font-size="3.5" font-weight="normal" text-anchor="middle" fill="#444">10⁴</text>
<text x="129.4" y="209.55" font-size="2.6" font-weight="normal" text-anchor="middle" fill="#999" transform="rotate(-90 129.4 209.55)">PE-Cy7-A</text>
<text x="170.75" y="250" font-size="2.4" font-weight="normal" text-anchor="middle" fill="#999">FITC-A</text>
<text x="299.3" y="10.3" font-size="6.2" font-weight="bold" text-anchor="middle" fill="#000">fraction I</text>
<text x="389.6" y="10.3" font-size="6.2" font-weight="bold" text-anchor="middle" fill="#000">fraction II</text>
<text x="479.3" y="10.3" font-size="6.2" font-weight="bold" text-anchor="middle" fill="#000">fraction III</text>
<line x1="251.5" y1="16" x2="251.5" y2="252.4" stroke="#555" stroke-width="0.9"/>
<path d="M250.4 17L251.5 14.6L252.6 17z" fill="#111"/>
<line x1="251.5" y1="252.4" x2="517" y2="252.4" stroke="#555" stroke-width="0.9"/>
<path d="M516.4 251.3L518.8 252.4L516.4 253.5z" fill="#111"/>
<text x="392" y="259.8" font-size="5.8" font-weight="normal" text-anchor="middle" fill="#111">7-AAD</text>
<text x="248.2" y="133" font-size="5.2" font-weight="normal" text-anchor="middle" fill="#111" transform="rotate(-90 248.2 133)">BrdU</text>
<path d="M266.4 20.4H332.2V85.6" stroke="#8c8c8c" fill="none" stroke-width="0.9"/>
<path d="M266.4 20.4V85.6H332.2" stroke="#2a2a2a" fill="none" stroke-width="1"/>
<path d="M265.2 26.2h1.2M265.2 40.6h1.2M265.2 55.1h1.2M265.2 71.4h1.2M265.2 79.1h1.2M274.1 85.6v1.2M280.8 85.6v1.2M299.9 85.6v1.2M313.6 85.6v1.2M327.1 85.6v1.2" stroke="#333" stroke-width="0.7" fill="none"/>
<text x="264.6" y="27" font-size="3.5" font-weight="normal" text-anchor="end" fill="#444">10⁴</text>
<text x="264.6" y="41.4" font-size="3.5" font-weight="normal" text-anchor="end" fill="#444">10³</text>
<text x="264.6" y="55.9" font-size="3.5" font-weight="normal" text-anchor="end" fill="#444">10²</text>
<text x="264.6" y="72.2" font-size="3.5" font-weight="normal" text-anchor="end" fill="#444">10¹</text>
<text x="264.6" y="79.9" font-size="3.5" font-weight="normal" text-anchor="end" fill="#444">0</text>
<text x="274.1" y="91.6" font-size="3.5" font-weight="normal" text-anchor="middle" fill="#444">0</text>
<text x="280.8" y="91.6" font-size="3.5" font-weight="normal" text-anchor="middle" fill="#444">10¹</text>
<text x="299.9" y="91.6" font-size="3.5" font-weight="normal" text-anchor="middle" fill="#444">10²</text>
<text x="313.6" y="91.6" font-size="3.5" font-weight="normal" text-anchor="middle" fill="#444">10³</text>
<text x="327.1" y="91.6" font-size="3.5" font-weight="normal" text-anchor="middle" fill="#444">10⁴</text>
<text x="257.8" y="53" font-size="2.6" font-weight="normal" text-anchor="middle" fill="#999" transform="rotate(-90 257.8 53)">BrdU-A</text>
<text x="299.3" y="93.4" font-size="2.4" font-weight="normal" text-anchor="middle" fill="#999">7-AAD-A</text>
<rect x="303.6" y="25.5" width="15.8" height="29.4" fill="none" stroke="#b0b0b0" stroke-width="0.6"/>
<path d="M303.6 54.9V77.4H311.1V54.9M311.1 69.2H319.4V54.9" stroke="#b0b0b0" stroke-width="0.6" fill="none"/>
<path d="M309.09 32.39 L309.79 32.88 L309.92 34.53 L310.11 35.96 L309.65 37.1 L308.66 36.75 L307.76 36.08 L307.37 34.6 L307.56 33.12Z" fill="none" stroke="#606060" stroke-width="0.5" stroke-linejoin="round"/>
<path d="M308.91 33.77 L309.96 33.99 L309.82 34.92 L309.77 35.82 L308.89 36.74 L308.13 36.49 L307.71 35.44 L308.12 34.36 L308.43 33.19Z" fill="none" stroke="#606060" stroke-width="0.5" stroke-linejoin="round"/>
<path d="M309.01 43.52 L310.34 44.6 L311.34 45.28 L310.69 46.7 L310.35 48.3 L308.98 47.41 L307.83 47.03 L307.42 45.68 L307.63 44.12Z" fill="none" stroke="#787878" stroke-width="0.5" stroke-linejoin="round"/>
<path d="M308.73 46.47 L308.19 45.6 L308.28 44.59 L309.16 44.84 L310.52 44.57 L310.43 45.65 L310.41 46.78 L309.47 47.14 L308.82 47.64Z" fill="none" stroke="#787878" stroke-width="0.5" stroke-linejoin="round"/>
<path d="M309.13 49.59 L310.16 50.06 L310.63 51.31 L309.76 52.13 L309.01 52.69 L308.7 52.66 L308.05 51.85 L308.32 51.03 L308.39 50.09Z" fill="none" stroke="#999" stroke-width="0.5" stroke-linejoin="round"/>
<path d="M304.61 58.56 L306.11 57.27 L307.69 56.3 L309.18 57.24 L310.45 58.31 L309.78 59.91 L308.11 60.54 L306.71 60.9 L306.14 59.85Z" fill="none" stroke="#555" stroke-width="0.5" stroke-linejoin="round"/>
<path d="M307.2 57.22 L308.86 57.4 L309.2 58.41 L309.18 59.55 L308.07 60.13 L307.21 60.77 L305.69 60.09 L306.11 58.82 L306.54 58.08Z" fill="none" stroke="#555" stroke-width="0.5" stroke-linejoin="round"/>
<path d="M306.97 58.69 L307.13 58.19 L307.84 58.02 L307.89 58.34 L308.93 58.79 L307.96 59.28 L307.9 59.58 L307.01 59.51 L306.48 59.26Z" fill="none" stroke="#555" stroke-width="0.5" stroke-linejoin="round"/>
<path d="M307.66 74.26 L307.13 73.23 L306.72 72.16 L306.81 70.58 L307.28 69.71 L308.64 69.13 L308.73 70.76 L309.19 72.39 L308.46 73.88Z" fill="none" stroke="#777" stroke-width="0.5" stroke-linejoin="round"/>
<path d="M308.12 69.99 L308.72 71.17 L308.44 72.25 L308.53 73.41 L307.89 73.74 L307.07 73.03 L307.48 72.01 L307.29 70.71 L307.89 70.63Z" fill="none" stroke="#777" stroke-width="0.5" stroke-linejoin="round"/>
<path d="M308.2 36.4q0.8 6 0.2 12t0.4 12q-0.4 8 0.2 20" stroke="#aaa" stroke-width="0.5" fill="none"/>
<path d="M309.18 66.78h0.6v0.6h-0.6zM309.83 31.38h0.6v0.6h-0.6zM305.3 77.65h0.6v0.6h-0.6zM308.25 73.66h0.6v0.6h-0.6zM307.79 46.35h0.6v0.6h-0.6zM307.79 59.75h0.6v0.6h-0.6zM308.73 46.84h0.6v0.6h-0.6zM309.35 63.92h0.6v0.6h-0.6zM306.77 40.02h0.6v0.6h-0.6zM304.91 51.16h0.6v0.6h-0.6zM308.42 45.79h0.6v0.6h-0.6zM307.33 53.56h0.6v0.6h-0.6zM308.45 63.28h0.6v0.6h-0.6zM309.88 61.45h0.6v0.6h-0.6zM310.39 42.01h0.6v0.6h-0.6zM309.48 60.56h0.6v0.6h-0.6zM306.54 46.04h0.6v0.6h-0.6zM309.19 56.44h0.6v0.6h-0.6zM306.17 47.75h0.6v0.6h-0.6zM311.11 67.06h0.6v0.6h-0.6zM308.55 74.04h0.6v0.6h-0.6zM306.79 53.04h0.6v0.6h-0.6zM310.1 50.75h0.6v0.6h-0.6zM306.41 63.5h0.6v0.6h-0.6zM308.67 38.12h0.6v0.6h-0.6zM307.87 35.87h0.6v0.6h-0.6zM313.03 45.99h0.6v0.6h-0.6zM308.48 45.64h0.6v0.6h-0.6zM306.64 49.11h0.6v0.6h-0.6zM308.77 79.65h0.6v0.6h-0.6zM308.91 77.06h0.6v0.6h-0.6zM306.5 56.39h0.6v0.6h-0.6zM307.62 33.74h0.6v0.6h-0.6zM308.83 44.98h0.6v0.6h-0.6zM307.38 41.09h0.6v0.6h-0.6zM310.22 49.83h0.6v0.6h-0.6zM308.14 57.9h0.6v0.6h-0.6zM306.22 58.62h0.6v0.6h-0.6zM308.1 61.56h0.6v0.6h-0.6zM307.71 55.94h0.6v0.6h-0.6zM309.32 68.77h0.6v0.6h-0.6zM307.17 68.85h0.6v0.6h-0.6zM306.65 52.79h0.6v0.6h-0.6zM308.63 57.41h0.6v0.6h-0.6zM308.07 68.18h0.6v0.6h-0.6zM307.15 76.3h0.6v0.6h-0.6zM305.19 56.46h0.6v0.6h-0.6zM309.36 55.64h0.6v0.6h-0.6zM308.87 68.33h0.6v0.6h-0.6zM306.97 63.56h0.6v0.6h-0.6zM310.29 52.18h0.6v0.6h-0.6zM306.88 40.76h0.6v0.6h-0.6zM309.17 44.26h0.6v0.6h-0.6zM312.81 63.29h0.6v0.6h-0.6zM306.08 51.44h0.6v0.6h-0.6zM311.12 64.81h0.6v0.6h-0.6zM306.59 69.72h0.6v0.6h-0.6zM307.42 63.65h0.6v0.6h-0.6zM309.4 49.26h0.6v0.6h-0.6zM308.13 71.43h0.6v0.6h-0.6z" fill="#777" fill-opacity="0.55"/>
<path d="M308.6 76.47 L308.22 77.72 L307.65 77.13 L307.09 76.61 L306.94 75.3 L306.85 74.04 L307.59 73.87 L307.85 74.31 L308.79 74.99Z" fill="none" stroke="#999" stroke-width="0.5" stroke-linejoin="round"/>
<path d="M308.73 71.31 L307.96 72.28 L307.33 71.98 L306.41 71.16 L307.11 69.97 L307.06 69.19 L307.85 69.03 L308.59 69.19 L308.62 70.34Z" fill="none" stroke="#999" stroke-width="0.5" stroke-linejoin="round"/>
<path d="M309.94 62.99 L309.14 64.49 L308.86 65.76 L308.56 66.41 L307.88 65.14 L307.42 64.1 L307.45 62.71 L308.28 61.95 L308.84 61.79Z" fill="none" stroke="#999" stroke-width="0.5" stroke-linejoin="round"/>
<path d="M310.07 45.91 L309.47 46.95 L308.81 46.78 L308.59 45.31 L308.72 44.35 L308.7 42.76 L309.15 42.59 L309.95 43.33 L310.02 44.55Z" fill="none" stroke="#999" stroke-width="0.5" stroke-linejoin="round"/>
<path d="M308.59 53.08 L308.28 53.73 L307.35 54.12 L306.18 52.71 L306.68 51.12 L307.72 50.29 L308.17 49.99 L308.79 51.03 L309.64 52.15Z" fill="none" stroke="#999" stroke-width="0.5" stroke-linejoin="round"/>
<text x="311.6" y="41.6" font-size="4.8" font-weight="bold" text-anchor="middle" fill="#111">27.9</text>
<text x="312.1" y="63.6" font-size="4.6" font-weight="bold" text-anchor="start" fill="#111">0.33</text>
<text x="307.2" y="67.5" font-size="4.6" font-weight="bold" text-anchor="middle" fill="#111">71.4</text>
<text x="320.2" y="34.4" font-size="5.0" font-weight="bold" text-anchor="start" fill="#222">S</text>
<text x="319.2" y="69.2" font-size="4.8" font-weight="normal" text-anchor="start" fill="#111">G2/M</text>
<text x="302.6" y="76.9" font-size="4.8" font-weight="normal" text-anchor="end" fill="#111">G0/G1</text>
<path d="M356.7 20.4H422.5V85.6" stroke="#8c8c8c" fill="none" stroke-width="0.9"/>
<path d="M356.7 20.4V85.6H422.5" stroke="#2a2a2a" fill="none" stroke-width="1"/>
<path d="M355.5 26.2h1.2M355.5 40.6h1.2M355.5 55.1h1.2M355.5 71.4h1.2M355.5 79.1h1.2M364.4 85.6v1.2M371.1 85.6v1.2M390.2 85.6v1.2M403.9 85.6v1.2M417.4 85.6v1.2" stroke="#333" stroke-width="0.7" fill="none"/>
<text x="354.9" y="27" font-size="3.5" font-weight="normal" text-anchor="end" fill="#444">10⁴</text>
<text x="354.9" y="41.4" font-size="3.5" font-weight="normal" text-anchor="end" fill="#444">10³</text>
<text x="354.9" y="55.9" font-size="3.5" font-weight="normal" text-anchor="end" fill="#444">10²</text>
<text x="354.9" y="72.2" font-size="3.5" font-weight="normal" text-anchor="end" fill="#444">10¹</text>
<text x="354.9" y="79.9" font-size="3.5" font-weight="normal" text-anchor="end" fill="#444">0</text>
<text x="364.4" y="91.6" font-size="3.5" font-weight="normal" text-anchor="middle" fill="#444">0</text>
<text x="371.1" y="91.6" font-size="3.5" font-weight="normal" text-anchor="middle" fill="#444">10¹</text>
<text x="390.2" y="91.6" font-size="3.5" font-weight="normal" text-anchor="middle" fill="#444">10²</text>
<text x="403.9" y="91.6" font-size="3.5" font-weight="normal" text-anchor="middle" fill="#444">10³</text>
<text x="417.4" y="91.6" font-size="3.5" font-weight="normal" text-anchor="middle" fill="#444">10⁴</text>
<text x="348.1" y="53" font-size="2.6" font-weight="normal" text-anchor="middle" fill="#999" transform="rotate(-90 348.1 53)">BrdU-A</text>
<text x="389.6" y="93.4" font-size="2.4" font-weight="normal" text-anchor="middle" fill="#999">7-AAD-A</text>
<rect x="393.9" y="25.5" width="15.8" height="29.4" fill="none" stroke="#b0b0b0" stroke-width="0.6"/>
<path d="M393.9 54.9V77.4H401.4V54.9M401.4 69.2H409.7V54.9" stroke="#b0b0b0" stroke-width="0.6" fill="none"/>
<path d="M399.7 33.58 L401.24 34.32 L400.76 35.87 L399.87 36.6 L398.55 37.61 L397.31 36.19 L397.43 34.53 L397.87 32.88 L399 33.07Z" fill="none" stroke="#606060" stroke-width="0.5" stroke-linejoin="round"/>
<path d="M398.44 33.91 L399.47 33.54 L399.98 33.75 L400.75 34.72 L400.07 35.68 L399.49 36.75 L398.76 36.29 L397.9 35.76 L398.3 34.56Z" fill="none" stroke="#606060" stroke-width="0.5" stroke-linejoin="round"/>
<path d="M399.08 47.81 L398.54 46.55 L398.25 45.38 L398.51 43.81 L399.76 43.61 L400.79 44.61 L401.32 45.73 L401.34 47.34 L399.95 47.81Z" fill="none" stroke="#787878" stroke-width="0.5" stroke-linejoin="round"/>
<path d="M400.72 44.37 L400.41 45.49 L400.61 46.46 L400.5 47.43 L399.46 47.2 L398.47 46.91 L398.77 45.87 L398.76 44.84 L399.39 44.78Z" fill="none" stroke="#787878" stroke-width="0.5" stroke-linejoin="round"/>
<path d="M399.25 52.55 L398.63 52.6 L398.26 51.62 L398.24 50.58 L398.87 50.1 L399.75 49.6 L399.86 50.88 L400.22 51.68 L399.9 52.64Z" fill="none" stroke="#999" stroke-width="0.5" stroke-linejoin="round"/>
<path d="M400.26 57.71 L399.83 59.3 L399.58 60.89 L397.46 61.24 L396.4 60.55 L394.96 59.18 L396.48 57.88 L396.96 56.6 L399.29 56.51Z" fill="none" stroke="#555" stroke-width="0.5" stroke-linejoin="round"/>
<path d="M399.31 57.61 L399.19 58.71 L399.54 59.87 L398.56 60.1 L396.91 60.55 L396.79 59.48 L395.85 58.51 L396.36 57.4 L397.75 57.24Z" fill="none" stroke="#555" stroke-width="0.5" stroke-linejoin="round"/>
<path d="M397.52 59.49 L397.36 59.12 L397.21 58.6 L397.11 58.06 L398.11 57.9 L398.76 58.22 L398.72 58.89 L398.77 59.34 L398.31 59.75Z" fill="none" stroke="#555" stroke-width="0.5" stroke-linejoin="round"/>
<path d="M397.16 72.01 L397.05 70.18 L397.91 69.74 L398.69 69.37 L399.13 71.11 L399.26 72.72 L399.08 73.76 L398.22 74.08 L397.12 73.43Z" fill="none" stroke="#777" stroke-width="0.5" stroke-linejoin="round"/>
<path d="M397.33 72.08 L397.8 71.16 L397.95 70.12 L398.61 70.19 L398.96 71.3 L398.74 72.25 L398.83 73.59 L398.25 73.63 L397.52 73.11Z" fill="none" stroke="#777" stroke-width="0.5" stroke-linejoin="round"/>
<path d="M398.5 36.4q0.8 6 0.2 12t0.4 12q-0.4 8 0.2 20" stroke="#aaa" stroke-width="0.5" fill="none"/>
<path d="M398.34 54.44h0.6v0.6h-0.6zM398.4 58.59h0.6v0.6h-0.6zM402.63 54.58h0.6v0.6h-0.6zM398.1 48.64h0.6v0.6h-0.6zM399.6 46.38h0.6v0.6h-0.6zM399.58 36.27h0.6v0.6h-0.6zM396.36 41.29h0.6v0.6h-0.6zM395.78 49.18h0.6v0.6h-0.6zM399.44 46.33h0.6v0.6h-0.6zM397.26 62.46h0.6v0.6h-0.6zM401.95 68.7h0.6v0.6h-0.6zM397.88 40.47h0.6v0.6h-0.6zM395.14 47.31h0.6v0.6h-0.6zM400.23 61h0.6v0.6h-0.6zM397.83 39.45h0.6v0.6h-0.6zM397.31 55.58h0.6v0.6h-0.6zM399.15 75.95h0.6v0.6h-0.6zM402.59 33.94h0.6v0.6h-0.6zM398.34 71.99h0.6v0.6h-0.6zM400.05 63.45h0.6v0.6h-0.6zM400.6 62.86h0.6v0.6h-0.6zM401.64 49.06h0.6v0.6h-0.6zM397.75 63.9h0.6v0.6h-0.6zM399.24 53.48h0.6v0.6h-0.6zM400.69 32.61h0.6v0.6h-0.6zM402.71 69.81h0.6v0.6h-0.6zM397.62 44.36h0.6v0.6h-0.6zM396.5 64.08h0.6v0.6h-0.6zM395.13 50.66h0.6v0.6h-0.6zM399.97 47.78h0.6v0.6h-0.6zM401.82 56.73h0.6v0.6h-0.6zM397.13 39.05h0.6v0.6h-0.6zM399.34 57.9h0.6v0.6h-0.6zM400.08 47.48h0.6v0.6h-0.6zM399.57 74.11h0.6v0.6h-0.6zM400.84 62.18h0.6v0.6h-0.6zM398.63 47.23h0.6v0.6h-0.6zM400.16 33.42h0.6v0.6h-0.6zM401.4 48.18h0.6v0.6h-0.6zM395.49 47.72h0.6v0.6h-0.6zM399.58 36.91h0.6v0.6h-0.6zM398.15 47.74h0.6v0.6h-0.6zM397.86 65.96h0.6v0.6h-0.6zM400.68 36.47h0.6v0.6h-0.6zM399.3 57.21h0.6v0.6h-0.6zM398.36 60.36h0.6v0.6h-0.6zM400.31 51.32h0.6v0.6h-0.6zM396 73.17h0.6v0.6h-0.6zM396.21 51.34h0.6v0.6h-0.6zM396.84 61.13h0.6v0.6h-0.6zM400.1 52.4h0.6v0.6h-0.6zM396.67 52.86h0.6v0.6h-0.6zM399.34 61.5h0.6v0.6h-0.6zM395.48 54.35h0.6v0.6h-0.6zM398.13 57.42h0.6v0.6h-0.6zM399.6 52.38h0.6v0.6h-0.6zM399.11 52.57h0.6v0.6h-0.6zM398.1 49.04h0.6v0.6h-0.6zM398.58 70.02h0.6v0.6h-0.6zM398.77 40.44h0.6v0.6h-0.6z" fill="#777" fill-opacity="0.55"/>
<path d="M399.22 50.44 L399.54 51.41 L398.84 52.31 L398.13 52.41 L397.21 51.93 L397.26 50.73 L397.49 49.77 L398.29 49.18 L399.1 49.4Z" fill="none" stroke="#999" stroke-width="0.5" stroke-linejoin="round"/>
<path d="M397.66 53.13 L397.58 52.1 L398.27 51.2 L399.15 50.73 L399.46 51.32 L399.7 52.33 L400.08 53.69 L399.31 54.09 L398.16 54.42Z" fill="none" stroke="#999" stroke-width="0.5" stroke-linejoin="round"/>
<path d="M398.01 60.35 L397.57 59.35 L398.12 58.38 L398.6 58.02 L399.27 57.94 L399.61 58.63 L400.24 59.42 L400.18 60.39 L399.25 60.69Z" fill="none" stroke="#999" stroke-width="0.5" stroke-linejoin="round"/>
<path d="M398.48 67.52 L398.55 69.06 L398.36 70.32 L397.73 71.22 L397.35 71.82 L396.66 70.49 L396.72 68.68 L396.97 67.05 L397.86 66.78Z" fill="none" stroke="#999" stroke-width="0.5" stroke-linejoin="round"/>
<path d="M398.07 45.38 L398.97 46.04 L398.89 47.1 L398.11 47.79 L397.76 48.71 L397.21 47.72 L396.35 46.95 L396.82 45.69 L397.27 45.01Z" fill="none" stroke="#999" stroke-width="0.5" stroke-linejoin="round"/>
<path d="M389.58 57.75h0.6v0.6h-0.6zM382.36 62.41h0.6v0.6h-0.6zM389.19 66.85h0.6v0.6h-0.6zM387.34 57.94h0.6v0.6h-0.6zM379.64 58.1h0.6v0.6h-0.6zM385.1 61.14h0.6v0.6h-0.6zM384.43 58.62h0.6v0.6h-0.6zM383.85 60.18h0.6v0.6h-0.6zM387.67 60.65h0.6v0.6h-0.6zM380.78 57h0.6v0.6h-0.6zM392.03 60.15h0.6v0.6h-0.6zM383.89 60.33h0.6v0.6h-0.6zM390.29 59.49h0.6v0.6h-0.6zM385.62 59.72h0.6v0.6h-0.6zM387.6 57.47h0.6v0.6h-0.6zM385.76 63.4h0.6v0.6h-0.6zM390.57 62.2h0.6v0.6h-0.6zM386.2 64.98h0.6v0.6h-0.6zM388.23 64.47h0.6v0.6h-0.6zM378.87 57.21h0.6v0.6h-0.6zM388.68 59.63h0.6v0.6h-0.6zM382.64 57.65h0.6v0.6h-0.6zM392.04 56.94h0.6v0.6h-0.6zM385.28 56.35h0.6v0.6h-0.6zM383.91 66.93h0.6v0.6h-0.6z" fill="#999" fill-opacity="0.6"/>
<text x="401.9" y="41.6" font-size="4.8" font-weight="bold" text-anchor="middle" fill="#111">23.8</text>
<text x="402.4" y="63.6" font-size="4.6" font-weight="bold" text-anchor="start" fill="#111">0.19</text>
<text x="397.5" y="67.5" font-size="4.6" font-weight="bold" text-anchor="middle" fill="#111">74.8</text>
<text x="410.5" y="34.4" font-size="5.0" font-weight="bold" text-anchor="start" fill="#222">S</text>
<text x="409.5" y="69.2" font-size="4.8" font-weight="normal" text-anchor="start" fill="#111">G2/M</text>
<text x="392.9" y="76.9" font-size="4.8" font-weight="normal" text-anchor="end" fill="#111">G0/G1</text>
<path d="M446.4 20.4H512.2V85.6" stroke="#8c8c8c" fill="none" stroke-width="0.9"/>
<path d="M446.4 20.4V85.6H512.2" stroke="#2a2a2a" fill="none" stroke-width="1"/>
<path d="M445.2 26.2h1.2M445.2 40.6h1.2M445.2 55.1h1.2M445.2 71.4h1.2M445.2 79.1h1.2M454.1 85.6v1.2M460.8 85.6v1.2M479.9 85.6v1.2M493.6 85.6v1.2M507.1 85.6v1.2" stroke="#333" stroke-width="0.7" fill="none"/>
<text x="444.6" y="27" font-size="3.5" font-weight="normal" text-anchor="end" fill="#444">10⁴</text>
<text x="444.6" y="41.4" font-size="3.5" font-weight="normal" text-anchor="end" fill="#444">10³</text>
<text x="444.6" y="55.9" font-size="3.5" font-weight="normal" text-anchor="end" fill="#444">10²</text>
<text x="444.6" y="72.2" font-size="3.5" font-weight="normal" text-anchor="end" fill="#444">10¹</text>
<text x="444.6" y="79.9" font-size="3.5" font-weight="normal" text-anchor="end" fill="#444">0</text>
<text x="454.1" y="91.6" font-size="3.5" font-weight="normal" text-anchor="middle" fill="#444">0</text>
<text x="460.8" y="91.6" font-size="3.5" font-weight="normal" text-anchor="middle" fill="#444">10¹</text>
<text x="479.9" y="91.6" font-size="3.5" font-weight="normal" text-anchor="middle" fill="#444">10²</text>
<text x="493.6" y="91.6" font-size="3.5" font-weight="normal" text-anchor="middle" fill="#444">10³</text>
<text x="507.1" y="91.6" font-size="3.5" font-weight="normal" text-anchor="middle" fill="#444">10⁴</text>
<text x="437.8" y="53" font-size="2.6" font-weight="normal" text-anchor="middle" fill="#999" transform="rotate(-90 437.8 53)">BrdU-A</text>
<text x="479.3" y="93.4" font-size="2.4" font-weight="normal" text-anchor="middle" fill="#999">7-AAD-A</text>
<rect x="483.6" y="25.5" width="15.8" height="29.4" fill="none" stroke="#b0b0b0" stroke-width="0.6"/>
<path d="M483.6 54.9V77.4H491.1V54.9M491.1 69.2H499.4V54.9" stroke="#b0b0b0" stroke-width="0.6" fill="none"/>
<path d="M490.96 34.32 L490.83 36.22 L489.84 37.5 L488.29 37.06 L487.25 36.32 L487.35 34.54 L487.75 33.61 L488.62 32.61 L489.96 32.72Z" fill="none" stroke="#606060" stroke-width="0.5" stroke-linejoin="round"/>
<path d="M489.42 33.99 L490.37 34.82 L489.86 35.82 L489.44 36.5 L488.37 36.32 L487.77 35.5 L487.41 34.37 L488.44 33.41 L489.1 33.09Z" fill="none" stroke="#606060" stroke-width="0.5" stroke-linejoin="round"/>
<path d="M488.34 47.22 L487.88 46.39 L487.33 44.72 L488.81 43.65 L490.13 43.87 L490.52 44.94 L491.29 46.17 L490.44 47.43 L489.44 48.49Z" fill="none" stroke="#787878" stroke-width="0.5" stroke-linejoin="round"/>
<path d="M488.51 46.5 L488.01 45.59 L488.58 44.66 L489.69 44.84 L490.12 44.93 L490.71 45.61 L489.99 46.47 L489.92 47.01 L488.69 47.28Z" fill="none" stroke="#787878" stroke-width="0.5" stroke-linejoin="round"/>
<path d="M488.55 52.96 L488.37 52.33 L487.61 51.46 L487.69 50.39 L488.74 49.86 L489.35 50.34 L490.01 50.87 L490.33 51.91 L489.37 52.8Z" fill="none" stroke="#999" stroke-width="0.5" stroke-linejoin="round"/>
<path d="M488.9 61.3 L487 60.59 L485.72 60.03 L484.59 58.57 L485.78 56.96 L487.55 56.86 L488.99 57.16 L490.21 58.35 L489.64 59.76Z" fill="none" stroke="#555" stroke-width="0.5" stroke-linejoin="round"/>
<path d="M488.63 60.11 L487.22 60.91 L485.72 60.24 L485.26 58.97 L486.75 58.18 L487.46 57.64 L487.96 57.89 L488.82 58.35 L489.12 59.38Z" fill="none" stroke="#555" stroke-width="0.5" stroke-linejoin="round"/>
<path d="M487.81 58.06 L488.04 58.08 L488.93 58.64 L488.47 59.28 L487.8 59.53 L487.21 59.58 L486.69 59.4 L486.6 58.8 L486.6 58.19Z" fill="none" stroke="#555" stroke-width="0.5" stroke-linejoin="round"/>
<path d="M488.71 69.81 L489.06 71.33 L489.12 72.91 L488.25 74.3 L487.76 74.08 L487.23 72.96 L486.73 71.68 L487.07 70.29 L487.94 69.41Z" fill="none" stroke="#777" stroke-width="0.5" stroke-linejoin="round"/>
<path d="M488.53 72.67 L488.12 73.56 L487.54 73.28 L486.94 73.07 L487 71.67 L487.41 70.82 L488.12 70.66 L488.21 70.41 L488.74 71.49Z" fill="none" stroke="#777" stroke-width="0.5" stroke-linejoin="round"/>
<path d="M488.2 36.4q0.8 6 0.2 12t0.4 12q-0.4 8 0.2 20" stroke="#aaa" stroke-width="0.5" fill="none"/>
<path d="M487.69 45.23h0.6v0.6h-0.6zM490.52 44.91h0.6v0.6h-0.6zM491.39 66.81h0.6v0.6h-0.6zM489.55 47.49h0.6v0.6h-0.6zM487.54 28.44h0.6v0.6h-0.6zM488.91 51.79h0.6v0.6h-0.6zM489.11 46.36h0.6v0.6h-0.6zM489.28 35.2h0.6v0.6h-0.6zM484.61 61.86h0.6v0.6h-0.6zM490.67 50.71h0.6v0.6h-0.6zM488.15 34.63h0.6v0.6h-0.6zM486.69 65.05h0.6v0.6h-0.6zM487.15 54.92h0.6v0.6h-0.6zM489.98 37.58h0.6v0.6h-0.6zM487.59 39.91h0.6v0.6h-0.6zM486.01 46.2h0.6v0.6h-0.6zM490.35 56.1h0.6v0.6h-0.6zM489.6 53.6h0.6v0.6h-0.6zM487.69 56.54h0.6v0.6h-0.6zM491.56 60.52h0.6v0.6h-0.6zM489.48 28.49h0.6v0.6h-0.6zM487.04 66.45h0.6v0.6h-0.6zM490.55 50.05h0.6v0.6h-0.6zM488.03 49.26h0.6v0.6h-0.6zM489.81 55.73h0.6v0.6h-0.6zM491.04 71.49h0.6v0.6h-0.6zM487.89 47.17h0.6v0.6h-0.6zM488.02 43.52h0.6v0.6h-0.6zM487.69 54.46h0.6v0.6h-0.6zM489.97 34.03h0.6v0.6h-0.6zM485.99 44.96h0.6v0.6h-0.6zM487.9 61.58h0.6v0.6h-0.6zM487.06 75.86h0.6v0.6h-0.6zM487.51 52.49h0.6v0.6h-0.6zM488.52 71.27h0.6v0.6h-0.6zM488.94 55.78h0.6v0.6h-0.6zM487.48 57.73h0.6v0.6h-0.6zM489.12 50.68h0.6v0.6h-0.6zM488.39 30.49h0.6v0.6h-0.6zM487.5 71.44h0.6v0.6h-0.6zM490.89 54.44h0.6v0.6h-0.6zM484.67 80.28h0.6v0.6h-0.6zM487.71 69.02h0.6v0.6h-0.6zM487.35 74.03h0.6v0.6h-0.6zM490.43 40.99h0.6v0.6h-0.6zM488.04 39.01h0.6v0.6h-0.6zM488.9 50h0.6v0.6h-0.6zM485.82 41.19h0.6v0.6h-0.6zM488.85 34.76h0.6v0.6h-0.6zM490.3 61.52h0.6v0.6h-0.6zM488.11 74.43h0.6v0.6h-0.6zM486.82 64.72h0.6v0.6h-0.6zM486.07 51h0.6v0.6h-0.6zM489.53 48.15h0.6v0.6h-0.6zM488.22 64.23h0.6v0.6h-0.6zM491.06 73.09h0.6v0.6h-0.6zM489.22 51.88h0.6v0.6h-0.6zM485.91 78.73h0.6v0.6h-0.6zM489.93 54.84h0.6v0.6h-0.6zM489.65 59.71h0.6v0.6h-0.6z" fill="#777" fill-opacity="0.55"/>
<path d="M486.88 53.25 L487.42 53 L487.82 53.73 L488.8 54.69 L488.12 55.41 L487.62 56.56 L487.12 55.75 L486.44 54.84 L486.15 53.58Z" fill="none" stroke="#999" stroke-width="0.5" stroke-linejoin="round"/>
<path d="M488.61 71.86 L488.79 71.27 L489.28 71.74 L489.97 72.47 L489.74 73.44 L489.32 73.59 L488.55 74.04 L488.14 73.29 L488.02 72.35Z" fill="none" stroke="#999" stroke-width="0.5" stroke-linejoin="round"/>
<path d="M487.43 44.44 L487.9 43.9 L488.44 43.39 L489 43.71 L489.68 44.34 L489.45 45.17 L488.61 45.82 L488.08 45.59 L487.7 45.2Z" fill="none" stroke="#999" stroke-width="0.5" stroke-linejoin="round"/>
<path d="M488.67 43.47 L490.21 43.76 L490.73 44.66 L490.84 45.75 L490.25 46.37 L489.26 46.89 L488.65 46.53 L488.01 45.64 L487.88 44.38Z" fill="none" stroke="#999" stroke-width="0.5" stroke-linejoin="round"/>
<path d="M487.6 50.03 L487.12 50.3 L486.88 49.44 L486.28 48.55 L486.76 47.35 L487.17 46.76 L487.98 47.52 L488.41 48.3 L488.37 49.33Z" fill="none" stroke="#999" stroke-width="0.5" stroke-linejoin="round"/>
<text x="491.6" y="41.6" font-size="4.8" font-weight="bold" text-anchor="middle" fill="#111">28.4</text>
<text x="492.1" y="63.6" font-size="4.6" font-weight="bold" text-anchor="start" fill="#111">3.51</text>
<text x="487.2" y="67.5" font-size="4.6" font-weight="bold" text-anchor="middle" fill="#111">68.3</text>
<text x="500.2" y="34.4" font-size="5.0" font-weight="bold" text-anchor="start" fill="#222">S</text>
<text x="499.2" y="69.2" font-size="4.8" font-weight="normal" text-anchor="start" fill="#111">G2/M</text>
<text x="482.6" y="76.9" font-size="4.8" font-weight="normal" text-anchor="end" fill="#111">G0/G1</text>
<path d="M266.4 97.8H332.2V163" stroke="#8c8c8c" fill="none" stroke-width="0.9"/>
<path d="M266.4 97.8V163H332.2" stroke="#2a2a2a" fill="none" stroke-width="1"/>
<path d="M265.2 103.6h1.2M265.2 118h1.2M265.2 132.5h1.2M265.2 148.8h1.2M265.2 156.5h1.2M274.1 163v1.2M280.8 163v1.2M299.9 163v1.2M313.6 163v1.2M327.1 163v1.2" stroke="#333" stroke-width="0.7" fill="none"/>
<text x="264.6" y="104.4" font-size="3.5" font-weight="normal" text-anchor="end" fill="#444">10⁴</text>
<text x="264.6" y="118.8" font-size="3.5" font-weight="normal" text-anchor="end" fill="#444">10³</text>
<text x="264.6" y="133.3" font-size="3.5" font-weight="normal" text-anchor="end" fill="#444">10²</text>
<text x="264.6" y="149.6" font-size="3.5" font-weight="normal" text-anchor="end" fill="#444">10¹</text>
<text x="264.6" y="157.3" font-size="3.5" font-weight="normal" text-anchor="end" fill="#444">0</text>
<text x="274.1" y="169" font-size="3.5" font-weight="normal" text-anchor="middle" fill="#444">0</text>
<text x="280.8" y="169" font-size="3.5" font-weight="normal" text-anchor="middle" fill="#444">10¹</text>
<text x="299.9" y="169" font-size="3.5" font-weight="normal" text-anchor="middle" fill="#444">10²</text>
<text x="313.6" y="169" font-size="3.5" font-weight="normal" text-anchor="middle" fill="#444">10³</text>
<text x="327.1" y="169" font-size="3.5" font-weight="normal" text-anchor="middle" fill="#444">10⁴</text>
<text x="257.8" y="130.4" font-size="2.6" font-weight="normal" text-anchor="middle" fill="#999" transform="rotate(-90 257.8 130.4)">BrdU-A</text>
<text x="299.3" y="170.8" font-size="2.4" font-weight="normal" text-anchor="middle" fill="#999">7-AAD-A</text>
<rect x="303.6" y="102.9" width="15.8" height="29.4" fill="none" stroke="#b0b0b0" stroke-width="0.6"/>
<path d="M303.6 132.3V154.8H311.1V132.3M311.1 146.6H319.4V132.3" stroke="#b0b0b0" stroke-width="0.6" fill="none"/>
<path d="M310.31 112.95 L309.85 114.84 L308.37 114.73 L307.38 114.26 L306.99 112.37 L307.62 111.1 L308.67 110.6 L309.35 110.73 L310.49 111.6Z" fill="none" stroke="#696969" stroke-width="0.5" stroke-linejoin="round"/>
<path d="M309.44 110.94 L309.47 111.55 L310.19 112.41 L309.74 113.16 L309.2 113.92 L308.02 113.5 L308.15 112.64 L307.96 111.65 L308.34 111.11Z" fill="none" stroke="#696969" stroke-width="0.5" stroke-linejoin="round"/>
<path d="M310.03 125.79 L308.91 124.85 L308.19 123.94 L308.1 122.79 L308.41 121.3 L309.28 121.53 L310.88 121.7 L310.87 123.19 L311.05 124.85Z" fill="none" stroke="#818181" stroke-width="0.5" stroke-linejoin="round"/>
<path d="M308.37 123.11 L308.52 122.15 L309.32 121.62 L309.95 122.44 L310.41 122.98 L310.23 123.92 L309.97 124.5 L308.95 125 L307.98 124.26Z" fill="none" stroke="#818181" stroke-width="0.5" stroke-linejoin="round"/>
<path d="M307.74 128.63 L307.93 127.76 L308.85 126.84 L309.55 127.42 L309.83 128.5 L310.13 129.44 L309.58 130.35 L308.73 130.36 L308.43 129.5Z" fill="none" stroke="#999" stroke-width="0.5" stroke-linejoin="round"/>
<path d="M305.07 135.1 L307.02 134.62 L308.63 133.8 L309.46 135.26 L310.57 136.72 L309.4 138.47 L307.36 139 L305.91 138.25 L305.66 136.64Z" fill="none" stroke="#555" stroke-width="0.5" stroke-linejoin="round"/>
<path d="M306.32 134.63 L308.09 134.73 L308.88 135.5 L309.66 136.31 L308.49 137.16 L307.79 137.62 L306.89 137.83 L306.19 136.85 L306.15 135.77Z" fill="none" stroke="#555" stroke-width="0.5" stroke-linejoin="round"/>
<path d="M308.18 136.3 L308.34 136.73 L307.6 136.95 L307.15 137.04 L306.74 136.51 L306.6 135.98 L307.24 135.74 L308.05 135.53 L307.93 135.9Z" fill="none" stroke="#555" stroke-width="0.5" stroke-linejoin="round"/>
<path d="M309.34 150.48 L308.24 152 L307.44 151.78 L306.68 151.06 L306.42 148.98 L307.08 147.52 L307.87 146.94 L308.44 147.74 L309.41 148.57Z" fill="none" stroke="#777" stroke-width="0.5" stroke-linejoin="round"/>
<path d="M307.1 149.23 L307.1 147.99 L307.59 147.39 L308.1 147.74 L308.38 148.86 L308.78 149.89 L308.42 150.41 L308.03 150.6 L307.12 150.63Z" fill="none" stroke="#777" stroke-width="0.5" stroke-linejoin="round"/>
<path d="M308.2 113.8q0.8 6 0.2 12t0.4 12q-0.4 8 0.2 20" stroke="#aaa" stroke-width="0.5" fill="none"/>
<path d="M310.7 104.74h0.6v0.6h-0.6zM305.05 141.66h0.6v0.6h-0.6zM311.46 138.1h0.6v0.6h-0.6zM306.54 113.36h0.6v0.6h-0.6zM308.84 137.51h0.6v0.6h-0.6zM305.97 130.03h0.6v0.6h-0.6zM307.97 124.68h0.6v0.6h-0.6zM311.01 127.7h0.6v0.6h-0.6zM306.66 138.14h0.6v0.6h-0.6zM307.49 134.26h0.6v0.6h-0.6zM309.7 137.93h0.6v0.6h-0.6zM306.02 154.57h0.6v0.6h-0.6zM304.85 121.25h0.6v0.6h-0.6zM310.66 119.46h0.6v0.6h-0.6zM307.12 136.13h0.6v0.6h-0.6zM306.97 128.05h0.6v0.6h-0.6zM308.65 129.16h0.6v0.6h-0.6zM307.33 123.15h0.6v0.6h-0.6zM306.43 141.22h0.6v0.6h-0.6zM310.52 128.11h0.6v0.6h-0.6zM307.3 129.19h0.6v0.6h-0.6zM308.91 117.15h0.6v0.6h-0.6zM306.42 117.68h0.6v0.6h-0.6zM307.49 130.56h0.6v0.6h-0.6zM307.77 134.08h0.6v0.6h-0.6zM307.69 137.96h0.6v0.6h-0.6zM307.82 134.75h0.6v0.6h-0.6zM307.39 126.52h0.6v0.6h-0.6zM308.92 152.31h0.6v0.6h-0.6zM308.67 131.75h0.6v0.6h-0.6zM307.88 114.75h0.6v0.6h-0.6zM306.52 134h0.6v0.6h-0.6zM310.07 133.71h0.6v0.6h-0.6zM306.79 130.95h0.6v0.6h-0.6zM310.04 132.32h0.6v0.6h-0.6zM310.26 111.74h0.6v0.6h-0.6zM308.98 117.14h0.6v0.6h-0.6zM304.93 132.9h0.6v0.6h-0.6zM309.35 139.53h0.6v0.6h-0.6zM310.49 134.12h0.6v0.6h-0.6zM310.07 126.78h0.6v0.6h-0.6zM307.55 132.97h0.6v0.6h-0.6zM308.44 115.86h0.6v0.6h-0.6zM310.22 157.72h0.6v0.6h-0.6zM309.54 135.22h0.6v0.6h-0.6zM309.31 141.23h0.6v0.6h-0.6zM308.82 120.55h0.6v0.6h-0.6zM308.72 131.62h0.6v0.6h-0.6zM308.52 144.82h0.6v0.6h-0.6zM308.88 127.5h0.6v0.6h-0.6zM306.67 106.86h0.6v0.6h-0.6zM311.62 128.72h0.6v0.6h-0.6zM310.36 137.83h0.6v0.6h-0.6zM308.58 139.8h0.6v0.6h-0.6zM308.53 155.6h0.6v0.6h-0.6zM307.55 129.44h0.6v0.6h-0.6zM308.25 137.84h0.6v0.6h-0.6zM311.1 122.31h0.6v0.6h-0.6zM309.61 131.49h0.6v0.6h-0.6zM308.37 141.92h0.6v0.6h-0.6z" fill="#777" fill-opacity="0.55"/>
<path d="M307.65 137.1 L307.38 135.43 L308.39 135.38 L309.43 135.64 L310.08 137.04 L309.92 138.77 L309.29 139.5 L308.01 139.72 L308.04 138.23Z" fill="none" stroke="#999" stroke-width="0.5" stroke-linejoin="round"/>
<path d="M310.91 111.95 L310.56 113.35 L309.94 113.9 L308.73 114.46 L307.89 113.86 L308.17 112.56 L308.19 111.23 L308.94 110.34 L309.97 110.99Z" fill="none" stroke="#999" stroke-width="0.5" stroke-linejoin="round"/>
<path d="M308.36 124.29 L309.83 124.02 L310.47 124.97 L310.44 126 L310.11 126.97 L309.08 126.73 L307.8 126.54 L307.61 125.63 L307.63 124.62Z" fill="none" stroke="#999" stroke-width="0.5" stroke-linejoin="round"/>
<path d="M307.09 113.89 L307.31 112.37 L307.66 111.06 L308.53 110.78 L308.9 111.24 L310.51 111.7 L309.69 113.02 L309.3 114.22 L308.4 114.75Z" fill="none" stroke="#999" stroke-width="0.5" stroke-linejoin="round"/>
<path d="M309.6 150.15 L310.63 150.58 L310.34 151.61 L309.78 152.3 L308.67 152.18 L307.78 152.14 L307.47 151.29 L307.32 150.33 L308.6 149.8Z" fill="none" stroke="#999" stroke-width="0.5" stroke-linejoin="round"/>
<text x="311.6" y="119" font-size="4.8" font-weight="bold" text-anchor="middle" fill="#111">27.1</text>
<text x="312.1" y="141" font-size="4.6" font-weight="bold" text-anchor="start" fill="#111">0.85</text>
<text x="307.2" y="144.9" font-size="4.6" font-weight="bold" text-anchor="middle" fill="#111">71.2</text>
<text x="320.2" y="111.8" font-size="5.0" font-weight="bold" text-anchor="start" fill="#222">S</text>
<text x="319.2" y="146.6" font-size="4.8" font-weight="normal" text-anchor="start" fill="#111">G2/M</text>
<text x="302.6" y="154.3" font-size="4.8" font-weight="normal" text-anchor="end" fill="#111">G0/G1</text>
<path d="M356.7 97.8H422.5V163" stroke="#8c8c8c" fill="none" stroke-width="0.9"/>
<path d="M356.7 97.8V163H422.5" stroke="#2a2a2a" fill="none" stroke-width="1"/>
<path d="M355.5 103.6h1.2M355.5 118h1.2M355.5 132.5h1.2M355.5 148.8h1.2M355.5 156.5h1.2M364.4 163v1.2M371.1 163v1.2M390.2 163v1.2M403.9 163v1.2M417.4 163v1.2" stroke="#333" stroke-width="0.7" fill="none"/>
<text x="354.9" y="104.4" font-size="3.5" font-weight="normal" text-anchor="end" fill="#444">10⁴</text>
<text x="354.9" y="118.8" font-size="3.5" font-weight="normal" text-anchor="end" fill="#444">10³</text>
<text x="354.9" y="133.3" font-size="3.5" font-weight="normal" text-anchor="end" fill="#444">10²</text>
<text x="354.9" y="149.6" font-size="3.5" font-weight="normal" text-anchor="end" fill="#444">10¹</text>
<text x="354.9" y="157.3" font-size="3.5" font-weight="normal" text-anchor="end" fill="#444">0</text>
<text x="364.4" y="169" font-size="3.5" font-weight="normal" text-anchor="middle" fill="#444">0</text>
<text x="371.1" y="169" font-size="3.5" font-weight="normal" text-anchor="middle" fill="#444">10¹</text>
<text x="390.2" y="169" font-size="3.5" font-weight="normal" text-anchor="middle" fill="#444">10²</text>
<text x="403.9" y="169" font-size="3.5" font-weight="normal" text-anchor="middle" fill="#444">10³</text>
<text x="417.4" y="169" font-size="3.5" font-weight="normal" text-anchor="middle" fill="#444">10⁴</text>
<text x="348.1" y="130.4" font-size="2.6" font-weight="normal" text-anchor="middle" fill="#999" transform="rotate(-90 348.1 130.4)">BrdU-A</text>
<text x="389.6" y="170.8" font-size="2.4" font-weight="normal" text-anchor="middle" fill="#999">7-AAD-A</text>
<rect x="393.9" y="102.9" width="15.8" height="29.4" fill="none" stroke="#b0b0b0" stroke-width="0.6"/>
<path d="M393.9 132.3V154.8H401.4V132.3M401.4 146.6H409.7V132.3" stroke="#b0b0b0" stroke-width="0.6" fill="none"/>
<path d="M397.98 114.04 L396.99 112.64 L397.84 111.18 L398.43 109.87 L400.07 109.56 L400.91 111.1 L400.39 112.68 L400.06 114.24 L399.14 115.27Z" fill="none" stroke="#737373" stroke-width="0.5" stroke-linejoin="round"/>
<path d="M398.2 112.6 L398.31 111.69 L398.78 111.12 L399.51 110.96 L400.29 111.29 L400.63 112.46 L399.94 113.16 L399.45 113.87 L398.25 113.92Z" fill="none" stroke="#737373" stroke-width="0.5" stroke-linejoin="round"/>
<path d="M400.66 121.83 L401.12 122.92 L401.2 124.21 L400.34 125.25 L399.41 125.05 L397.88 124.59 L398.44 123.11 L398.5 121.95 L399.49 121.07Z" fill="none" stroke="#8b8b8b" stroke-width="0.5" stroke-linejoin="round"/>
<path d="M400.91 122.7 L400.44 123.74 L400.13 124.54 L399.68 124.87 L398.71 124 L398.65 123.28 L398.94 122.54 L399.66 121.97 L400.76 121.72Z" fill="none" stroke="#8b8b8b" stroke-width="0.5" stroke-linejoin="round"/>
<path d="M397.87 129.61 L398.21 128.47 L398.09 127.32 L399.46 127.53 L400.22 127.5 L400.15 128.62 L400.07 129.39 L399.53 130.52 L399.03 129.85Z" fill="none" stroke="#999" stroke-width="0.5" stroke-linejoin="round"/>
<path d="M400.53 136.27 L399.86 137.64 L398.42 139.21 L397.16 138.02 L395.59 137.1 L395.9 135.61 L396.23 133.74 L398.33 133.53 L399.92 134.84Z" fill="none" stroke="#555" stroke-width="0.5" stroke-linejoin="round"/>
<path d="M399.96 135.96 L399.93 137.22 L398.68 138.17 L397.07 137.71 L396.31 137.12 L396.97 136.11 L397.16 135.22 L397.8 135.14 L399.27 134.87Z" fill="none" stroke="#555" stroke-width="0.5" stroke-linejoin="round"/>
<path d="M397.23 135.56 L398.28 135.32 L398.65 135.79 L398.96 136.34 L398.56 136.86 L398.18 137.25 L397.63 136.95 L397.2 136.54 L397.35 136Z" fill="none" stroke="#555" stroke-width="0.5" stroke-linejoin="round"/>
<path d="M399.49 148.22 L399.26 150.03 L398.63 151.58 L398.27 151.87 L397.72 150.57 L397.18 149.38 L397.21 147.53 L397.86 146.46 L398.88 147.55Z" fill="none" stroke="#777" stroke-width="0.5" stroke-linejoin="round"/>
<path d="M398.72 147.94 L399.07 149.17 L398.84 150.23 L398.7 150.93 L398.09 150.97 L397.04 150.17 L397.17 148.76 L397.72 147.8 L398.18 147.35Z" fill="none" stroke="#777" stroke-width="0.5" stroke-linejoin="round"/>
<path d="M398.5 113.8q0.8 6 0.2 12t0.4 12q-0.4 8 0.2 20" stroke="#aaa" stroke-width="0.5" fill="none"/>
<path d="M397.94 120.71h0.6v0.6h-0.6zM399.12 116.81h0.6v0.6h-0.6zM398.67 134.15h0.6v0.6h-0.6zM400.44 122.38h0.6v0.6h-0.6zM396.64 111.84h0.6v0.6h-0.6zM400.07 124.02h0.6v0.6h-0.6zM400.49 131.69h0.6v0.6h-0.6zM398.2 106.65h0.6v0.6h-0.6zM397.48 143.89h0.6v0.6h-0.6zM397.6 142.33h0.6v0.6h-0.6zM395.73 147.07h0.6v0.6h-0.6zM399.28 115.45h0.6v0.6h-0.6zM397.75 123.59h0.6v0.6h-0.6zM399.04 104.42h0.6v0.6h-0.6zM397.14 143.93h0.6v0.6h-0.6zM398.97 143.23h0.6v0.6h-0.6zM400.24 116.72h0.6v0.6h-0.6zM396.27 139.33h0.6v0.6h-0.6zM398.76 133.91h0.6v0.6h-0.6zM397.23 147.12h0.6v0.6h-0.6zM399.6 148.84h0.6v0.6h-0.6zM398.06 142.53h0.6v0.6h-0.6zM398.59 119.58h0.6v0.6h-0.6zM398.56 109.53h0.6v0.6h-0.6zM398.38 135.3h0.6v0.6h-0.6zM399.96 118h0.6v0.6h-0.6zM396.3 122.54h0.6v0.6h-0.6zM394.96 123.61h0.6v0.6h-0.6zM403.43 134.83h0.6v0.6h-0.6zM397.33 123.24h0.6v0.6h-0.6zM401.89 116.43h0.6v0.6h-0.6zM398.49 131.69h0.6v0.6h-0.6zM397.38 122.69h0.6v0.6h-0.6zM395.67 121h0.6v0.6h-0.6zM401.05 152.7h0.6v0.6h-0.6zM398.19 142.69h0.6v0.6h-0.6zM399.53 134.34h0.6v0.6h-0.6zM398.45 149.87h0.6v0.6h-0.6zM399.73 129.63h0.6v0.6h-0.6zM398.28 145.92h0.6v0.6h-0.6zM397.63 122.72h0.6v0.6h-0.6zM398.2 125.8h0.6v0.6h-0.6zM400.98 137.81h0.6v0.6h-0.6zM398.54 125.4h0.6v0.6h-0.6zM401.25 138.99h0.6v0.6h-0.6zM402.46 145.57h0.6v0.6h-0.6zM398.31 125.09h0.6v0.6h-0.6zM398.19 135.35h0.6v0.6h-0.6zM400.13 139.63h0.6v0.6h-0.6zM401.54 111.45h0.6v0.6h-0.6zM398.75 112.86h0.6v0.6h-0.6zM396.84 124.35h0.6v0.6h-0.6zM397.52 119.18h0.6v0.6h-0.6zM395.96 148.78h0.6v0.6h-0.6zM398.12 146.36h0.6v0.6h-0.6zM397.63 145.16h0.6v0.6h-0.6zM397.69 138.35h0.6v0.6h-0.6zM396.76 152.35h0.6v0.6h-0.6zM399.48 147.55h0.6v0.6h-0.6zM398.2 150.78h0.6v0.6h-0.6z" fill="#777" fill-opacity="0.55"/>
<path d="M396.99 142.61 L397.86 142.65 L398.88 142.9 L399.5 143.61 L398.82 144.53 L398.2 144.93 L397.13 145.43 L396.78 144.43 L396.46 143.46Z" fill="none" stroke="#999" stroke-width="0.5" stroke-linejoin="round"/>
<path d="M398.41 129.35 L398.63 130.43 L398.91 131.51 L399.03 132.89 L397.76 133.01 L397.22 132.3 L396.09 131.66 L397.02 130.6 L397.5 129.63Z" fill="none" stroke="#999" stroke-width="0.5" stroke-linejoin="round"/>
<path d="M398.14 127.54 L398.75 126.45 L399.61 126.08 L400.69 126.77 L400.89 127.71 L401.07 128.9 L400.22 129.1 L399.22 129.37 L398.26 128.7Z" fill="none" stroke="#999" stroke-width="0.5" stroke-linejoin="round"/>
<path d="M396.95 149.16 L397.6 148.94 L398.45 148.94 L398.52 149.77 L398.59 150.69 L397.83 151 L397.48 151.06 L397.07 150.59 L397.12 149.85Z" fill="none" stroke="#999" stroke-width="0.5" stroke-linejoin="round"/>
<path d="M399.28 149.6 L398.86 150.48 L398.25 150.07 L397.69 149.74 L397.32 147.85 L398.02 146.56 L398.2 146.2 L398.57 147.05 L399.26 148.03Z" fill="none" stroke="#999" stroke-width="0.5" stroke-linejoin="round"/>
<text x="401.9" y="119" font-size="4.8" font-weight="bold" text-anchor="middle" fill="#111">22</text>
<text x="405.2" y="141" font-size="4.6" font-weight="bold" text-anchor="start" fill="#111">0</text>
<text x="397.5" y="144.9" font-size="4.6" font-weight="bold" text-anchor="middle" fill="#111">76.3</text>
<text x="410.5" y="111.8" font-size="5.0" font-weight="bold" text-anchor="start" fill="#222">S</text>
<text x="409.5" y="146.6" font-size="4.8" font-weight="normal" text-anchor="start" fill="#111">G2/M</text>
<text x="392.9" y="154.3" font-size="4.8" font-weight="normal" text-anchor="end" fill="#111">G0/G1</text>
<path d="M446.4 97.8H512.2V163" stroke="#8c8c8c" fill="none" stroke-width="0.9"/>
<path d="M446.4 97.8V163H512.2" stroke="#2a2a2a" fill="none" stroke-width="1"/>
<path d="M445.2 103.6h1.2M445.2 118h1.2M445.2 132.5h1.2M445.2 148.8h1.2M445.2 156.5h1.2M454.1 163v1.2M460.8 163v1.2M479.9 163v1.2M493.6 163v1.2M507.1 163v1.2" stroke="#333" stroke-width="0.7" fill="none"/>
<text x="444.6" y="104.4" font-size="3.5" font-weight="normal" text-anchor="end" fill="#444">10⁴</text>
<text x="444.6" y="118.8" font-size="3.5" font-weight="normal" text-anchor="end" fill="#444">10³</text>
<text x="444.6" y="133.3" font-size="3.5" font-weight="normal" text-anchor="end" fill="#444">10²</text>
<text x="444.6" y="149.6" font-size="3.5" font-weight="normal" text-anchor="end" fill="#444">10¹</text>
<text x="444.6" y="157.3" font-size="3.5" font-weight="normal" text-anchor="end" fill="#444">0</text>
<text x="454.1" y="169" font-size="3.5" font-weight="normal" text-anchor="middle" fill="#444">0</text>
<text x="460.8" y="169" font-size="3.5" font-weight="normal" text-anchor="middle" fill="#444">10¹</text>
<text x="479.9" y="169" font-size="3.5" font-weight="normal" text-anchor="middle" fill="#444">10²</text>
<text x="493.6" y="169" font-size="3.5" font-weight="normal" text-anchor="middle" fill="#444">10³</text>
<text x="507.1" y="169" font-size="3.5" font-weight="normal" text-anchor="middle" fill="#444">10⁴</text>
<text x="437.8" y="130.4" font-size="2.6" font-weight="normal" text-anchor="middle" fill="#999" transform="rotate(-90 437.8 130.4)">BrdU-A</text>
<text x="479.3" y="170.8" font-size="2.4" font-weight="normal" text-anchor="middle" fill="#999">7-AAD-A</text>
<rect x="483.6" y="102.9" width="15.8" height="29.4" fill="none" stroke="#b0b0b0" stroke-width="0.6"/>
<path d="M483.6 132.3V154.8H491.1V132.3M491.1 146.6H499.4V132.3" stroke="#b0b0b0" stroke-width="0.6" fill="none"/>
<path d="M488.6 114.3 L487.16 113.55 L487.48 111.95 L488.2 110.69 L489.22 110.07 L489.63 110.77 L490.77 111.86 L490.7 113.71 L489.6 114.25Z" fill="none" stroke="#737373" stroke-width="0.5" stroke-linejoin="round"/>
<path d="M487.56 113.17 L487.71 111.8 L488.37 111.1 L489.1 110.51 L489.62 111.47 L490.08 112.12 L489.4 112.99 L488.99 113.87 L488.26 114.03Z" fill="none" stroke="#737373" stroke-width="0.5" stroke-linejoin="round"/>
<path d="M491.34 123.22 L490.49 124.39 L490 125.53 L488.28 125.61 L488.31 123.88 L487.65 122.56 L488.5 121.17 L489.86 121.03 L490.7 122.17Z" fill="none" stroke="#8b8b8b" stroke-width="0.5" stroke-linejoin="round"/>
<path d="M488.74 122.33 L489.5 121.75 L490.4 122.13 L490.59 123.29 L490.43 124.47 L489.79 125.05 L489.05 124.62 L488.19 123.91 L487.97 122.79Z" fill="none" stroke="#8b8b8b" stroke-width="0.5" stroke-linejoin="round"/>
<path d="M488.9 130.46 L488.19 130.27 L488.07 129.31 L487.73 128.18 L488.34 127.5 L489.4 126.84 L489.59 127.72 L490.06 128.78 L489.7 129.58Z" fill="none" stroke="#999" stroke-width="0.5" stroke-linejoin="round"/>
<path d="M488.67 138.82 L487.12 138.08 L484.86 137.77 L484.61 135.75 L486.21 134.52 L487.75 133.38 L488.79 134.94 L490.31 135.88 L489.34 137.27Z" fill="none" stroke="#555" stroke-width="0.5" stroke-linejoin="round"/>
<path d="M488.43 137.51 L487.4 138.09 L485.96 137.8 L485.86 136.58 L486.45 135.62 L487.08 134.76 L488.09 135.08 L489.46 135.37 L488.95 136.55Z" fill="none" stroke="#555" stroke-width="0.5" stroke-linejoin="round"/>
<path d="M488.08 135.87 L488.48 136.25 L487.89 136.66 L487.83 137.28 L487.21 136.97 L486.72 136.55 L486.72 136.02 L487.07 135.72 L487.57 135.66Z" fill="none" stroke="#555" stroke-width="0.5" stroke-linejoin="round"/>
<path d="M486.47 148.92 L487.17 147.07 L487.57 146.67 L488.62 147.7 L489.12 148.87 L488.47 150.18 L488.47 152.3 L487.57 151.79 L486.96 150.37Z" fill="none" stroke="#777" stroke-width="0.5" stroke-linejoin="round"/>
<path d="M487.41 150.74 L486.76 149.54 L487.44 148.39 L487.6 147.96 L488.55 147.61 L488.58 148.72 L488.74 149.67 L488.28 150.93 L487.75 151.12Z" fill="none" stroke="#777" stroke-width="0.5" stroke-linejoin="round"/>
<path d="M488.2 113.8q0.8 6 0.2 12t0.4 12q-0.4 8 0.2 20" stroke="#aaa" stroke-width="0.5" fill="none"/>
<path d="M488.5 110.65h0.6v0.6h-0.6zM487.51 136.86h0.6v0.6h-0.6zM488.66 111.14h0.6v0.6h-0.6zM485.66 123.78h0.6v0.6h-0.6zM489.68 129.5h0.6v0.6h-0.6zM487.19 109.22h0.6v0.6h-0.6zM490.75 116.57h0.6v0.6h-0.6zM487.03 144.06h0.6v0.6h-0.6zM485.62 119.61h0.6v0.6h-0.6zM485.07 147.84h0.6v0.6h-0.6zM488.85 149.41h0.6v0.6h-0.6zM489.07 139.57h0.6v0.6h-0.6zM488.26 137.03h0.6v0.6h-0.6zM486.13 124.53h0.6v0.6h-0.6zM485.85 148.05h0.6v0.6h-0.6zM485.78 126.77h0.6v0.6h-0.6zM489.78 139.2h0.6v0.6h-0.6zM489.45 133.9h0.6v0.6h-0.6zM488.97 126.68h0.6v0.6h-0.6zM486.96 125.06h0.6v0.6h-0.6zM486.69 107.73h0.6v0.6h-0.6zM490.17 129.79h0.6v0.6h-0.6zM491.44 131.02h0.6v0.6h-0.6zM488.12 145.1h0.6v0.6h-0.6zM484.96 128.81h0.6v0.6h-0.6zM491.48 149.99h0.6v0.6h-0.6zM487.24 116.33h0.6v0.6h-0.6zM486.93 140.37h0.6v0.6h-0.6zM486.03 145.18h0.6v0.6h-0.6zM485.74 140.6h0.6v0.6h-0.6zM488.95 128.61h0.6v0.6h-0.6zM492.66 136.73h0.6v0.6h-0.6zM489.55 156.87h0.6v0.6h-0.6zM487.34 138.43h0.6v0.6h-0.6zM490.3 133.94h0.6v0.6h-0.6zM487.91 130.05h0.6v0.6h-0.6zM489.88 133.63h0.6v0.6h-0.6zM490.6 116.95h0.6v0.6h-0.6zM488.33 147.02h0.6v0.6h-0.6zM485.95 143.81h0.6v0.6h-0.6zM488.03 145.6h0.6v0.6h-0.6zM487.08 132.56h0.6v0.6h-0.6zM485.7 142.8h0.6v0.6h-0.6zM487.79 132.66h0.6v0.6h-0.6zM487.04 147.59h0.6v0.6h-0.6zM488.6 146.57h0.6v0.6h-0.6zM486.8 127.93h0.6v0.6h-0.6zM491.99 144.99h0.6v0.6h-0.6zM490.29 142.8h0.6v0.6h-0.6zM486.63 128.79h0.6v0.6h-0.6zM485.78 112.16h0.6v0.6h-0.6zM488.13 137.27h0.6v0.6h-0.6zM485.95 119.16h0.6v0.6h-0.6zM487.18 140.73h0.6v0.6h-0.6zM487.54 115.93h0.6v0.6h-0.6zM489.31 128.51h0.6v0.6h-0.6zM486.87 150.69h0.6v0.6h-0.6zM490.08 124.13h0.6v0.6h-0.6zM488.6 126.24h0.6v0.6h-0.6zM487.37 123.18h0.6v0.6h-0.6z" fill="#777" fill-opacity="0.55"/>
<path d="M488.07 138.67 L488.18 139.09 L488.87 139.72 L488.96 140.89 L488.16 141.56 L488 141.55 L487.53 141.24 L486.93 140.3 L486.8 139.09Z" fill="none" stroke="#999" stroke-width="0.5" stroke-linejoin="round"/>
<path d="M488.84 129.29 L488.39 129.48 L487.77 128.83 L487.65 127.69 L488.23 126.51 L488.12 125.8 L488.68 125.68 L489.44 126.48 L489.13 127.85Z" fill="none" stroke="#999" stroke-width="0.5" stroke-linejoin="round"/>
<path d="M488.83 135.99 L488.63 137.25 L488.84 138.53 L488.18 138.82 L487.62 138.36 L486.59 137.93 L487.18 136.74 L487.46 136.01 L488.1 135.74Z" fill="none" stroke="#999" stroke-width="0.5" stroke-linejoin="round"/>
<path d="M489.43 126.98 L489.38 128.16 L488.45 128.8 L487.51 128.41 L487.11 127.61 L487.05 126.39 L487.2 125.23 L488.6 124.99 L489.55 125.57Z" fill="none" stroke="#999" stroke-width="0.5" stroke-linejoin="round"/>
<path d="M487.9 132.94 L488.66 132.26 L489.45 133.26 L489.76 134.31 L489.67 136.02 L489.19 136.61 L488.36 137.19 L487.89 135.75 L488.22 134.44Z" fill="none" stroke="#999" stroke-width="0.5" stroke-linejoin="round"/>
<text x="491.6" y="119" font-size="4.8" font-weight="bold" text-anchor="middle" fill="#111">23</text>
<text x="492.1" y="141" font-size="4.6" font-weight="bold" text-anchor="start" fill="#111">4.92</text>
<text x="487.2" y="144.9" font-size="4.6" font-weight="bold" text-anchor="middle" fill="#111">71.8</text>
<text x="500.2" y="111.8" font-size="5.0" font-weight="bold" text-anchor="start" fill="#222">S</text>
<text x="499.2" y="146.6" font-size="4.8" font-weight="normal" text-anchor="start" fill="#111">G2/M</text>
<text x="482.6" y="154.3" font-size="4.8" font-weight="normal" text-anchor="end" fill="#111">G0/G1</text>
<path d="M266.4 176.9H332.2V242.1" stroke="#8c8c8c" fill="none" stroke-width="0.9"/>
<path d="M266.4 176.9V242.1H332.2" stroke="#2a2a2a" fill="none" stroke-width="1"/>
<path d="M265.2 182.7h1.2M265.2 197.1h1.2M265.2 211.6h1.2M265.2 227.9h1.2M265.2 235.6h1.2M274.1 242.1v1.2M280.8 242.1v1.2M299.9 242.1v1.2M313.6 242.1v1.2M327.1 242.1v1.2" stroke="#333" stroke-width="0.7" fill="none"/>
<text x="264.6" y="183.5" font-size="3.5" font-weight="normal" text-anchor="end" fill="#444">10⁴</text>
<text x="264.6" y="197.9" font-size="3.5" font-weight="normal" text-anchor="end" fill="#444">10³</text>
<text x="264.6" y="212.4" font-size="3.5" font-weight="normal" text-anchor="end" fill="#444">10²</text>
<text x="264.6" y="228.7" font-size="3.5" font-weight="normal" text-anchor="end" fill="#444">10¹</text>
<text x="264.6" y="236.4" font-size="3.5" font-weight="normal" text-anchor="end" fill="#444">0</text>
<text x="274.1" y="248.1" font-size="3.5" font-weight="normal" text-anchor="middle" fill="#444">0</text>
<text x="280.8" y="248.1" font-size="3.5" font-weight="normal" text-anchor="middle" fill="#444">10¹</text>
<text x="299.9" y="248.1" font-size="3.5" font-weight="normal" text-anchor="middle" fill="#444">10²</text>
<text x="313.6" y="248.1" font-size="3.5" font-weight="normal" text-anchor="middle" fill="#444">10³</text>
<text x="327.1" y="248.1" font-size="3.5" font-weight="normal" text-anchor="middle" fill="#444">10⁴</text>
<text x="257.8" y="209.5" font-size="2.6" font-weight="normal" text-anchor="middle" fill="#999" transform="rotate(-90 257.8 209.5)">BrdU-A</text>
<text x="299.3" y="249.9" font-size="2.4" font-weight="normal" text-anchor="middle" fill="#999">7-AAD-A</text>
<rect x="303.6" y="182" width="15.8" height="29.4" fill="none" stroke="#b0b0b0" stroke-width="0.6"/>
<path d="M303.6 211.4V233.9H311.1V211.4M311.1 225.7H319.4V211.4" stroke="#b0b0b0" stroke-width="0.6" fill="none"/>
<path d="M309.77 189.24 L310.53 190.42 L310.32 192.12 L309.77 193.53 L308.85 193.85 L307.41 192.86 L307.83 191.43 L307.52 189.96 L308.41 189.71Z" fill="none" stroke="#737373" stroke-width="0.5" stroke-linejoin="round"/>
<path d="M310.09 191.41 L309.7 192.32 L308.94 193.03 L308.33 192.89 L307.23 192.09 L307.67 190.91 L308.21 190.18 L309.24 190.25 L309.85 190.51Z" fill="none" stroke="#737373" stroke-width="0.5" stroke-linejoin="round"/>
<path d="M309.91 200.09 L311.25 201.37 L311.3 202.91 L310.61 204.04 L309.22 204.58 L308.19 203.97 L308.07 202.62 L307.74 201.02 L308.97 200.92Z" fill="none" stroke="#8b8b8b" stroke-width="0.5" stroke-linejoin="round"/>
<path d="M309.5 201.25 L310.36 201.28 L310.19 202.3 L310.28 203.35 L309.73 203.89 L308.58 203.88 L308.17 203.16 L307.82 201.92 L308.57 201.05Z" fill="none" stroke="#8b8b8b" stroke-width="0.5" stroke-linejoin="round"/>
<path d="M308.44 206.25 L309.41 206.09 L310.04 207.18 L310.06 208.16 L309.79 209.01 L308.64 209.15 L307.92 209.12 L307.6 208.11 L307.92 206.97Z" fill="none" stroke="#999" stroke-width="0.5" stroke-linejoin="round"/>
<path d="M306.54 213.69 L308.12 213.06 L310.01 213.97 L310.92 215.75 L309.68 217.26 L307.61 217.75 L306.58 216.81 L304.98 215.98 L305.3 214.33Z" fill="none" stroke="#555" stroke-width="0.5" stroke-linejoin="round"/>
<path d="M308.78 214.68 L309.88 215.77 L309.23 216.91 L307.37 216.93 L306.47 216.6 L306.18 215.64 L306.61 214.7 L306.99 214.14 L308.16 213.64Z" fill="none" stroke="#555" stroke-width="0.5" stroke-linejoin="round"/>
<path d="M307.42 214.67 L307.91 214.69 L308.88 215.07 L308.45 215.77 L307.89 215.94 L307.43 216.34 L307 216.07 L306.45 215.39 L306.69 214.88Z" fill="none" stroke="#555" stroke-width="0.5" stroke-linejoin="round"/>
<path d="M306.65 230.19 L306.88 228.34 L306.83 226.34 L307.72 226.44 L308.65 226.57 L309.01 227.64 L309.21 229.54 L308.77 230.57 L307.69 230.61Z" fill="none" stroke="#777" stroke-width="0.5" stroke-linejoin="round"/>
<path d="M307.51 227.15 L308.15 226.76 L308.65 227.11 L308.91 228.19 L308.36 229.29 L308.02 229.92 L307.81 229.55 L307.11 229.19 L306.7 227.96Z" fill="none" stroke="#777" stroke-width="0.5" stroke-linejoin="round"/>
<path d="M308.2 192.9q0.8 6 0.2 12t0.4 12q-0.4 8 0.2 20" stroke="#aaa" stroke-width="0.5" fill="none"/>
<path d="M310.41 227.69h0.6v0.6h-0.6zM311.91 219.04h0.6v0.6h-0.6zM309.57 200.8h0.6v0.6h-0.6zM307.33 224.32h0.6v0.6h-0.6zM308.64 196.43h0.6v0.6h-0.6zM308.38 195.09h0.6v0.6h-0.6zM308.3 195.58h0.6v0.6h-0.6zM306.76 204.79h0.6v0.6h-0.6zM313.28 195.58h0.6v0.6h-0.6zM306.31 204.48h0.6v0.6h-0.6zM310.25 222.81h0.6v0.6h-0.6zM309.61 207.42h0.6v0.6h-0.6zM308.61 201.3h0.6v0.6h-0.6zM308.07 200.8h0.6v0.6h-0.6zM305.83 198.24h0.6v0.6h-0.6zM311.78 217.3h0.6v0.6h-0.6zM307.07 210.35h0.6v0.6h-0.6zM307.59 228.56h0.6v0.6h-0.6zM308.34 203.15h0.6v0.6h-0.6zM309.58 216.23h0.6v0.6h-0.6zM307.19 201.27h0.6v0.6h-0.6zM308.63 189.41h0.6v0.6h-0.6zM306.78 225.7h0.6v0.6h-0.6zM309.9 227.13h0.6v0.6h-0.6zM307.6 203.69h0.6v0.6h-0.6zM307.91 205.28h0.6v0.6h-0.6zM310.63 208.8h0.6v0.6h-0.6zM310.76 202.12h0.6v0.6h-0.6zM309.04 234.07h0.6v0.6h-0.6zM307.08 202.9h0.6v0.6h-0.6zM307.33 189.75h0.6v0.6h-0.6zM307.86 203.02h0.6v0.6h-0.6zM312.25 205.29h0.6v0.6h-0.6zM304.63 224.78h0.6v0.6h-0.6zM310.05 211.37h0.6v0.6h-0.6zM308.89 221.67h0.6v0.6h-0.6zM307.4 212.41h0.6v0.6h-0.6zM308.63 234.55h0.6v0.6h-0.6zM310.86 214.15h0.6v0.6h-0.6zM306.03 223.95h0.6v0.6h-0.6zM308.29 227.85h0.6v0.6h-0.6zM308.47 214.33h0.6v0.6h-0.6zM309.53 201.83h0.6v0.6h-0.6zM306.86 224.63h0.6v0.6h-0.6zM309.58 223.05h0.6v0.6h-0.6zM310.78 193.47h0.6v0.6h-0.6zM310.05 183.63h0.6v0.6h-0.6zM308.47 216.46h0.6v0.6h-0.6zM310.18 226.71h0.6v0.6h-0.6zM306.74 208.1h0.6v0.6h-0.6zM308.1 202.31h0.6v0.6h-0.6zM306.94 202.77h0.6v0.6h-0.6zM310.39 230.49h0.6v0.6h-0.6zM309.7 234.92h0.6v0.6h-0.6zM308.54 196.93h0.6v0.6h-0.6zM307.23 214.63h0.6v0.6h-0.6zM310.18 228.5h0.6v0.6h-0.6zM306.81 224.97h0.6v0.6h-0.6zM307.44 220.02h0.6v0.6h-0.6zM309.99 232.18h0.6v0.6h-0.6z" fill="#777" fill-opacity="0.55"/>
<path d="M307.9 209.03 L306.52 209.27 L306.1 208.45 L306.06 207.34 L306.81 206.79 L308.2 206.81 L308.96 207.23 L309.69 208.02 L308.52 208.67Z" fill="none" stroke="#999" stroke-width="0.5" stroke-linejoin="round"/>
<path d="M306.87 225.32 L307.59 224.77 L308.22 224.61 L308.76 224.5 L308.83 225.45 L308.51 226.14 L308.39 226.85 L307.55 226.54 L307.31 226.21Z" fill="none" stroke="#999" stroke-width="0.5" stroke-linejoin="round"/>
<path d="M307.89 203.64 L307.95 202.74 L308.76 203.1 L309.25 203.66 L309.64 204.65 L309.4 205.95 L308.36 206.35 L308.11 205.99 L307.79 204.72Z" fill="none" stroke="#999" stroke-width="0.5" stroke-linejoin="round"/>
<path d="M308.26 211.13 L308.95 211.54 L308.75 212.46 L309.12 213.58 L308.68 214.77 L308.33 214.36 L307.94 214.08 L307.11 213.2 L307.7 212.05Z" fill="none" stroke="#999" stroke-width="0.5" stroke-linejoin="round"/>
<path d="M308.62 197.92 L308.85 197.14 L309.58 197.83 L309.93 198.2 L310.29 199.05 L309.85 199.7 L309.12 200.14 L308.46 199.94 L308.4 198.87Z" fill="none" stroke="#999" stroke-width="0.5" stroke-linejoin="round"/>
<text x="311.6" y="198.1" font-size="4.8" font-weight="bold" text-anchor="middle" fill="#111">23.2</text>
<text x="312.1" y="220.1" font-size="4.6" font-weight="bold" text-anchor="start" fill="#111">1.04</text>
<text x="307.2" y="224" font-size="4.6" font-weight="bold" text-anchor="middle" fill="#111">75.7</text>
<text x="320.2" y="190.9" font-size="5.0" font-weight="bold" text-anchor="start" fill="#222">S</text>
<text x="319.2" y="225.7" font-size="4.8" font-weight="normal" text-anchor="start" fill="#111">G2/M</text>
<text x="302.6" y="233.4" font-size="4.8" font-weight="normal" text-anchor="end" fill="#111">G0/G1</text>
<path d="M356.7 176.9H422.5V242.1" stroke="#8c8c8c" fill="none" stroke-width="0.9"/>
<path d="M356.7 176.9V242.1H422.5" stroke="#2a2a2a" fill="none" stroke-width="1"/>
<path d="M355.5 182.7h1.2M355.5 197.1h1.2M355.5 211.6h1.2M355.5 227.9h1.2M355.5 235.6h1.2M364.4 242.1v1.2M371.1 242.1v1.2M390.2 242.1v1.2M403.9 242.1v1.2M417.4 242.1v1.2" stroke="#333" stroke-width="0.7" fill="none"/>
<text x="354.9" y="183.5" font-size="3.5" font-weight="normal" text-anchor="end" fill="#444">10⁴</text>
<text x="354.9" y="197.9" font-size="3.5" font-weight="normal" text-anchor="end" fill="#444">10³</text>
<text x="354.9" y="212.4" font-size="3.5" font-weight="normal" text-anchor="end" fill="#444">10²</text>
<text x="354.9" y="228.7" font-size="3.5" font-weight="normal" text-anchor="end" fill="#444">10¹</text>
<text x="354.9" y="236.4" font-size="3.5" font-weight="normal" text-anchor="end" fill="#444">0</text>
<text x="364.4" y="248.1" font-size="3.5" font-weight="normal" text-anchor="middle" fill="#444">0</text>
<text x="371.1" y="248.1" font-size="3.5" font-weight="normal" text-anchor="middle" fill="#444">10¹</text>
<text x="390.2" y="248.1" font-size="3.5" font-weight="normal" text-anchor="middle" fill="#444">10²</text>
<text x="403.9" y="248.1" font-size="3.5" font-weight="normal" text-anchor="middle" fill="#444">10³</text>
<text x="417.4" y="248.1" font-size="3.5" font-weight="normal" text-anchor="middle" fill="#444">10⁴</text>
<text x="348.1" y="209.5" font-size="2.6" font-weight="normal" text-anchor="middle" fill="#999" transform="rotate(-90 348.1 209.5)">BrdU-A</text>
<text x="389.6" y="249.9" font-size="2.4" font-weight="normal" text-anchor="middle" fill="#999">7-AAD-A</text>
<rect x="393.9" y="182" width="15.8" height="29.4" fill="none" stroke="#b0b0b0" stroke-width="0.6"/>
<path d="M393.9 211.4V233.9H401.4V211.4M401.4 225.7H409.7V211.4" stroke="#b0b0b0" stroke-width="0.6" fill="none"/>
<path d="M398.52 188.93 L399.78 189.7 L400.64 190.41 L400.77 191.94 L400.19 192.77 L398.87 194.22 L398.16 192.86 L397.02 191.78 L397.09 189.83Z" fill="none" stroke="#8b8b8b" stroke-width="0.5" stroke-linejoin="round"/>
<path d="M400 190.73 L400.84 191.6 L400.14 192.81 L399.55 193.39 L398.75 192.53 L397.6 191.88 L398.35 190.75 L398.94 189.89 L399.48 189.93Z" fill="none" stroke="#8b8b8b" stroke-width="0.5" stroke-linejoin="round"/>
<path d="M400.69 204.03 L399.67 204.23 L398.16 204.01 L397.84 202.39 L398.85 201.31 L399.6 199.74 L400.74 200.78 L401.22 201.7 L401.92 203.31Z" fill="none" stroke="#a3a3a3" stroke-width="0.5" stroke-linejoin="round"/>
<path d="M399.01 201.25 L399.8 201.24 L400.54 201.69 L400.6 202.49 L400.66 203.63 L399.49 203.44 L398.73 203.64 L398.23 202.81 L398.7 201.81Z" fill="none" stroke="#a3a3a3" stroke-width="0.5" stroke-linejoin="round"/>
<path d="M398.45 207.58 L398.52 206.3 L399.59 205.97 L399.98 206.87 L400.48 207.75 L399.82 208.61 L399.53 209.36 L398.49 209.72 L398.37 208.39Z" fill="none" stroke="#999" stroke-width="0.5" stroke-linejoin="round"/>
<path d="M399.31 214.13 L400.77 215.21 L399.83 216.63 L398.98 218.24 L396.67 217.59 L395.54 216.45 L395.31 214.71 L396.69 213.6 L397.96 213.27Z" fill="none" stroke="#555" stroke-width="0.5" stroke-linejoin="round"/>
<path d="M399.14 216.36 L398.15 216.75 L397.15 216.73 L395.92 216.22 L396.14 214.95 L397.1 214.05 L398.09 213.8 L398.85 214.39 L399.09 215.31Z" fill="none" stroke="#555" stroke-width="0.5" stroke-linejoin="round"/>
<path d="M397.7 216.01 L396.92 215.94 L396.83 215.36 L397.14 214.79 L397.87 214.43 L398.31 214.84 L398.8 215.18 L398.52 215.7 L398.5 215.95Z" fill="none" stroke="#555" stroke-width="0.5" stroke-linejoin="round"/>
<path d="M399.26 221.61 L398.26 222.07 L397.65 222.26 L397.08 220.9 L396.9 218.88 L397.42 217.71 L398.52 217.42 L399.19 217.74 L399.53 220.03Z" fill="none" stroke="#777" stroke-width="0.5" stroke-linejoin="round"/>
<path d="M397.25 218.93 L397.82 218.49 L398.27 217.92 L399.15 218.94 L398.68 220.18 L398.78 221.38 L398.29 222.15 L397.56 221.34 L397.26 220.22Z" fill="none" stroke="#777" stroke-width="0.5" stroke-linejoin="round"/>
<path d="M399.41 227.28 L399.53 229.09 L399.03 230.45 L398.4 231.07 L397.41 230.01 L396.79 228.72 L397 226.93 L397.87 226.4 L398.66 226.19Z" fill="none" stroke="#777" stroke-width="0.5" stroke-linejoin="round"/>
<path d="M398.21 230.1 L397.85 229.39 L397.06 228.66 L397.3 227.61 L398.04 226.79 L398.56 226.88 L398.73 227.55 L398.83 228.67 L398.98 230.09Z" fill="none" stroke="#777" stroke-width="0.5" stroke-linejoin="round"/>
<path d="M398.5 192.9q0.8 6 0.2 12t0.4 12q-0.4 8 0.2 20" stroke="#aaa" stroke-width="0.5" fill="none"/>
<path d="M397.38 215.53h0.6v0.6h-0.6zM400.45 226.77h0.6v0.6h-0.6zM398.86 197.97h0.6v0.6h-0.6zM399.95 217.66h0.6v0.6h-0.6zM397.88 188.73h0.6v0.6h-0.6zM395.65 229.05h0.6v0.6h-0.6zM398.4 213.85h0.6v0.6h-0.6zM398.49 206.17h0.6v0.6h-0.6zM398.29 225.57h0.6v0.6h-0.6zM398.3 212.27h0.6v0.6h-0.6zM400.65 203.77h0.6v0.6h-0.6zM398.66 215.43h0.6v0.6h-0.6zM394.93 197.83h0.6v0.6h-0.6zM398 184.73h0.6v0.6h-0.6zM400.57 197.13h0.6v0.6h-0.6zM400.15 216.14h0.6v0.6h-0.6zM397.07 204.76h0.6v0.6h-0.6zM398.84 217.03h0.6v0.6h-0.6zM400.47 196.37h0.6v0.6h-0.6zM398.09 226.94h0.6v0.6h-0.6zM399.4 206.29h0.6v0.6h-0.6zM397.8 204.51h0.6v0.6h-0.6zM401.37 197.75h0.6v0.6h-0.6zM400.38 207.49h0.6v0.6h-0.6zM397.12 211.32h0.6v0.6h-0.6zM400.45 203.05h0.6v0.6h-0.6zM396.6 186.04h0.6v0.6h-0.6zM395.04 225.11h0.6v0.6h-0.6zM399.13 200.96h0.6v0.6h-0.6zM396.95 228.46h0.6v0.6h-0.6zM399.41 221.13h0.6v0.6h-0.6zM399 218.14h0.6v0.6h-0.6zM399.61 196.92h0.6v0.6h-0.6zM398.63 190.57h0.6v0.6h-0.6zM396.66 218.02h0.6v0.6h-0.6zM399.63 219.39h0.6v0.6h-0.6zM397.76 222.84h0.6v0.6h-0.6zM397.98 203.14h0.6v0.6h-0.6zM398.91 202.83h0.6v0.6h-0.6zM395.3 213.92h0.6v0.6h-0.6zM399.15 202.45h0.6v0.6h-0.6zM396.31 213.95h0.6v0.6h-0.6zM400.04 212.63h0.6v0.6h-0.6zM398.56 191.18h0.6v0.6h-0.6zM396.49 217.84h0.6v0.6h-0.6zM397.07 209.67h0.6v0.6h-0.6zM401.25 223.66h0.6v0.6h-0.6zM398.97 197.09h0.6v0.6h-0.6zM399.11 185.85h0.6v0.6h-0.6zM397.53 188.16h0.6v0.6h-0.6zM399.2 211.06h0.6v0.6h-0.6zM400.55 206.42h0.6v0.6h-0.6zM399.21 189.36h0.6v0.6h-0.6zM400.65 222.69h0.6v0.6h-0.6zM401.17 223.97h0.6v0.6h-0.6zM397.77 223.45h0.6v0.6h-0.6zM397.74 202.78h0.6v0.6h-0.6zM398.64 202.95h0.6v0.6h-0.6zM399.49 193.84h0.6v0.6h-0.6zM398.95 192.62h0.6v0.6h-0.6z" fill="#777" fill-opacity="0.55"/>
<path d="M398.06 231.6 L398.7 230.31 L399.55 229.98 L399.95 231.17 L400.45 232.41 L400.27 233.88 L399.07 233.99 L398.78 233.41 L397.97 232.76Z" fill="none" stroke="#999" stroke-width="0.5" stroke-linejoin="round"/>
<path d="M398.71 189.51 L399.49 189.97 L400.33 190.87 L400.36 192.1 L399.45 192.49 L398.12 192.75 L397.13 192.1 L397.71 191.06 L397.89 190.15Z" fill="none" stroke="#999" stroke-width="0.5" stroke-linejoin="round"/>
<path d="M397.83 197.22 L398.26 196.64 L398.98 196.23 L399.25 197.65 L399.84 198.88 L399.1 199.96 L398.67 201.01 L397.92 199.81 L397.62 198.51Z" fill="none" stroke="#999" stroke-width="0.5" stroke-linejoin="round"/>
<path d="M399.31 211.3 L398.95 211.53 L398.26 210.68 L398.15 209.63 L398.48 208.44 L399.17 208.32 L399.47 207.88 L399.92 209.15 L399.62 210.28Z" fill="none" stroke="#999" stroke-width="0.5" stroke-linejoin="round"/>
<path d="M399.37 221.86 L398.81 222.13 L398.03 222.39 L397.71 221.23 L397.96 220.01 L397.93 219.3 L399.02 218.8 L399.43 219.6 L399.54 220.71Z" fill="none" stroke="#999" stroke-width="0.5" stroke-linejoin="round"/>
<text x="401.9" y="198.1" font-size="4.8" font-weight="bold" text-anchor="middle" fill="#111">11.8</text>
<text x="402.4" y="220.1" font-size="4.6" font-weight="bold" text-anchor="start" fill="#111">0.22</text>
<text x="397.5" y="224" font-size="4.6" font-weight="bold" text-anchor="middle" fill="#111">86.4</text>
<text x="410.5" y="190.9" font-size="5.0" font-weight="bold" text-anchor="start" fill="#222">S</text>
<text x="409.5" y="225.7" font-size="4.8" font-weight="normal" text-anchor="start" fill="#111">G2/M</text>
<text x="392.9" y="233.4" font-size="4.8" font-weight="normal" text-anchor="end" fill="#111">G0/G1</text>
<path d="M446.4 176.9H512.2V242.1" stroke="#8c8c8c" fill="none" stroke-width="0.9"/>
<path d="M446.4 176.9V242.1H512.2" stroke="#2a2a2a" fill="none" stroke-width="1"/>
<path d="M445.2 182.7h1.2M445.2 197.1h1.2M445.2 211.6h1.2M445.2 227.9h1.2M445.2 235.6h1.2M454.1 242.1v1.2M460.8 242.1v1.2M479.9 242.1v1.2M493.6 242.1v1.2M507.1 242.1v1.2" stroke="#333" stroke-width="0.7" fill="none"/>
<text x="444.6" y="183.5" font-size="3.5" font-weight="normal" text-anchor="end" fill="#444">10⁴</text>
<text x="444.6" y="197.9" font-size="3.5" font-weight="normal" text-anchor="end" fill="#444">10³</text>
<text x="444.6" y="212.4" font-size="3.5" font-weight="normal" text-anchor="end" fill="#444">10²</text>
<text x="444.6" y="228.7" font-size="3.5" font-weight="normal" text-anchor="end" fill="#444">10¹</text>
<text x="444.6" y="236.4" font-size="3.5" font-weight="normal" text-anchor="end" fill="#444">0</text>
<text x="454.1" y="248.1" font-size="3.5" font-weight="normal" text-anchor="middle" fill="#444">0</text>
<text x="460.8" y="248.1" font-size="3.5" font-weight="normal" text-anchor="middle" fill="#444">10¹</text>
<text x="479.9" y="248.1" font-size="3.5" font-weight="normal" text-anchor="middle" fill="#444">10²</text>
<text x="493.6" y="248.1" font-size="3.5" font-weight="normal" text-anchor="middle" fill="#444">10³</text>
<text x="507.1" y="248.1" font-size="3.5" font-weight="normal" text-anchor="middle" fill="#444">10⁴</text>
<text x="437.8" y="209.5" font-size="2.6" font-weight="normal" text-anchor="middle" fill="#999" transform="rotate(-90 437.8 209.5)">BrdU-A</text>
<text x="479.3" y="249.9" font-size="2.4" font-weight="normal" text-anchor="middle" fill="#999">7-AAD-A</text>
<rect x="483.6" y="182" width="15.8" height="29.4" fill="none" stroke="#b0b0b0" stroke-width="0.6"/>
<path d="M483.6 211.4V233.9H491.1V211.4M491.1 225.7H499.4V211.4" stroke="#b0b0b0" stroke-width="0.6" fill="none"/>
<path d="M489.31 188.67 L490.36 190 L490.43 191.56 L490.46 193.08 L489.34 194.27 L487.8 193.06 L486.67 192.12 L486.94 190.31 L487.8 189.04Z" fill="none" stroke="#a3a3a3" stroke-width="0.5" stroke-linejoin="round"/>
<path d="M491.22 203.75 L490.22 204.38 L488.49 204.72 L487.61 203.54 L487.6 201.98 L488.36 200.98 L489.25 200.53 L490.74 200.46 L491.38 202.07Z" fill="none" stroke="#bbbbbb" stroke-width="0.5" stroke-linejoin="round"/>
<path d="M486.98 213.7 L488.57 212.58 L489.65 214.16 L490.05 215.58 L489.41 216.91 L488.14 217.79 L486.15 217.66 L484.41 216.22 L484.45 214.23Z" fill="none" stroke="#555" stroke-width="0.5" stroke-linejoin="round"/>
<path d="M487.99 214.23 L488.75 214.57 L489.61 215.62 L488.43 216.39 L487.71 217.23 L486.72 216.32 L485.36 215.83 L486.22 214.76 L486.98 213.61Z" fill="none" stroke="#555" stroke-width="0.5" stroke-linejoin="round"/>
<path d="M486.57 216.01 L486.83 215.42 L486.62 214.84 L487.68 214.79 L487.69 214.79 L488 215.16 L488.41 215.64 L487.99 216.18 L487.36 216.24Z" fill="none" stroke="#555" stroke-width="0.5" stroke-linejoin="round"/>
<path d="M487.11 218.81 L487.82 217.94 L488.27 217.58 L488.76 218.65 L489.07 220.28 L489.08 222.44 L487.91 223.61 L487 222.25 L486.81 220.41Z" fill="none" stroke="#777" stroke-width="0.5" stroke-linejoin="round"/>
<path d="M488.68 219.65 L488.63 220.8 L488.29 221.52 L487.49 221.76 L486.88 220.86 L487.49 219.63 L487.42 218.73 L487.62 217.72 L488.41 218.01Z" fill="none" stroke="#777" stroke-width="0.5" stroke-linejoin="round"/>
<path d="M489.14 227.82 L488.86 229.59 L488.56 230.73 L487.63 231.23 L486.52 229.95 L486.71 228.14 L487.41 227.04 L487.87 226.44 L488.35 226.62Z" fill="none" stroke="#777" stroke-width="0.5" stroke-linejoin="round"/>
<path d="M488.92 227.85 L488.78 229.11 L488.12 230.25 L487.55 229.97 L487.11 229.5 L486.67 228.3 L487.6 227.38 L487.74 226.48 L488.47 227.05Z" fill="none" stroke="#777" stroke-width="0.5" stroke-linejoin="round"/>
<path d="M488.2 192.9q0.8 6 0.2 12t0.4 12q-0.4 8 0.2 20" stroke="#aaa" stroke-width="0.5" fill="none"/>
<path d="M490.11 229.91h0.6v0.6h-0.6zM491.97 225.79h0.6v0.6h-0.6zM488.66 209.52h0.6v0.6h-0.6zM489.03 201.35h0.6v0.6h-0.6zM489.15 194.4h0.6v0.6h-0.6zM488.45 233.26h0.6v0.6h-0.6zM487.54 215.85h0.6v0.6h-0.6zM490.1 193.99h0.6v0.6h-0.6zM488.47 226.66h0.6v0.6h-0.6zM487.69 199.6h0.6v0.6h-0.6zM488.3 229h0.6v0.6h-0.6zM489.17 209.99h0.6v0.6h-0.6zM488.38 227.98h0.6v0.6h-0.6zM490.98 212.96h0.6v0.6h-0.6zM489.19 219.18h0.6v0.6h-0.6zM489.79 224.3h0.6v0.6h-0.6zM493.07 210.43h0.6v0.6h-0.6zM485.82 234.07h0.6v0.6h-0.6zM488.14 206.8h0.6v0.6h-0.6zM489.57 205.37h0.6v0.6h-0.6zM489.35 210.9h0.6v0.6h-0.6zM490.15 202.02h0.6v0.6h-0.6zM487.26 211.05h0.6v0.6h-0.6zM485.37 213.64h0.6v0.6h-0.6zM484.59 205.39h0.6v0.6h-0.6zM490.36 228.92h0.6v0.6h-0.6zM485.38 194.89h0.6v0.6h-0.6zM487.37 225.29h0.6v0.6h-0.6zM488.93 201.97h0.6v0.6h-0.6zM485.99 231.47h0.6v0.6h-0.6zM487.16 198.86h0.6v0.6h-0.6zM491.44 214.23h0.6v0.6h-0.6zM487.26 217.15h0.6v0.6h-0.6zM487.66 216.9h0.6v0.6h-0.6zM490.14 190.85h0.6v0.6h-0.6zM491.03 207.44h0.6v0.6h-0.6zM489.4 224.35h0.6v0.6h-0.6zM488.48 211.88h0.6v0.6h-0.6zM487.84 218.56h0.6v0.6h-0.6zM489.09 221.77h0.6v0.6h-0.6zM487.91 208.35h0.6v0.6h-0.6zM489.68 200.9h0.6v0.6h-0.6zM488.79 217.63h0.6v0.6h-0.6zM486.75 209.89h0.6v0.6h-0.6zM487.54 211.86h0.6v0.6h-0.6zM487.09 225.02h0.6v0.6h-0.6zM490.23 220.24h0.6v0.6h-0.6zM489.7 196.16h0.6v0.6h-0.6zM490.15 226.25h0.6v0.6h-0.6zM489.26 215.75h0.6v0.6h-0.6zM490.61 212.93h0.6v0.6h-0.6zM489.04 222.07h0.6v0.6h-0.6zM491.18 232.32h0.6v0.6h-0.6zM490.05 228.49h0.6v0.6h-0.6zM489.08 197.55h0.6v0.6h-0.6zM486.99 205.65h0.6v0.6h-0.6zM489.54 192.55h0.6v0.6h-0.6zM490.88 222.16h0.6v0.6h-0.6zM489.71 224.3h0.6v0.6h-0.6zM489.24 226.63h0.6v0.6h-0.6z" fill="#777" fill-opacity="0.55"/>
<path d="M487.68 218.2 L488 217.23 L488.61 216.55 L489.28 216.21 L489.61 216.84 L489.89 217.77 L489.89 218.59 L488.93 219.14 L488.51 218.58Z" fill="none" stroke="#999" stroke-width="0.5" stroke-linejoin="round"/>
<path d="M487.85 192.33 L488.7 192.55 L489.42 192.5 L489.53 193.64 L489.53 194.94 L488.38 195.49 L488.21 194.87 L487.24 194.6 L487.55 193.42Z" fill="none" stroke="#999" stroke-width="0.5" stroke-linejoin="round"/>
<path d="M489.03 227.46 L488.41 227.47 L488.2 226.41 L488.46 225.63 L488.49 225.08 L488.7 224.61 L489.73 225.07 L489.92 225.76 L490.03 226.89Z" fill="none" stroke="#999" stroke-width="0.5" stroke-linejoin="round"/>
<path d="M488.86 224.81 L489.56 225.35 L490.11 225.87 L490.12 227.28 L489.51 228.04 L488.49 228.85 L487.86 228.05 L487.22 226.72 L488.03 225.45Z" fill="none" stroke="#999" stroke-width="0.5" stroke-linejoin="round"/>
<path d="M487.69 227.29 L488.12 225.72 L488.84 226.4 L489.92 226.72 L490.13 227.76 L489.63 228.79 L488.92 230.17 L487.94 229.55 L487.01 228.59Z" fill="none" stroke="#999" stroke-width="0.5" stroke-linejoin="round"/>
<text x="491.6" y="198.1" font-size="4.8" font-weight="bold" text-anchor="middle" fill="#111">8.69</text>
<text x="492.1" y="220.1" font-size="4.6" font-weight="bold" text-anchor="start" fill="#111">1.24</text>
<text x="487.2" y="224" font-size="4.6" font-weight="bold" text-anchor="middle" fill="#111">89.2</text>
<text x="500.2" y="190.9" font-size="5.0" font-weight="bold" text-anchor="start" fill="#222">S</text>
<text x="499.2" y="225.7" font-size="4.8" font-weight="normal" text-anchor="start" fill="#111">G2/M</text>
<text x="482.6" y="233.4" font-size="4.8" font-weight="normal" text-anchor="end" fill="#111">G0/G1</text>
<text x="65.6" y="323.3" font-size="5.4" font-weight="bold" transform="rotate(-45 65.2 323.3)"><tspan font-style="italic">iPtch</tspan><tspan font-size="3.4" dy="-2">-/-</tspan><tspan dy="2"> 19 days</tspan></text>
<text x="78.5" y="322.2" font-size="5.4" font-weight="bold" transform="rotate(-45 78.1 322.2)">Vehicle-treated control</text>
<text x="90.5" y="322.5" font-size="5.4" font-weight="bold" transform="rotate(-45 90.1 322.5)">Tamoxifen-treated control</text>
<text x="106.2" y="322.8" font-size="5.4" font-weight="bold" transform="rotate(-45 105.8 322.8)">E12.5</text>
<text x="116" y="323" font-size="5.4" font-weight="bold" transform="rotate(-45 115.6 323)">nc</text>
<rect x="58.8" y="326.4" width="12.4" height="9.6" fill="#efefef" stroke="none" stroke-width="1"/>
<rect x="72" y="326.4" width="25.2" height="9.6" fill="#efefef" stroke="none" stroke-width="1"/>
<rect x="98" y="326.4" width="12.8" height="9.6" fill="#efefef" stroke="none" stroke-width="1"/>
<rect x="111.6" y="326.4" width="12.4" height="9.6" fill="#f2f2f2" stroke="none" stroke-width="1"/>
<rect x="84.2" y="326.4" width="0.6" height="9.6" fill="#fff" stroke="none" stroke-width="1" fill-opacity="0.5"/>
<rect x="59.5" y="330.7" width="10.2" height="1.8" fill="#353535" stroke="none" stroke-width="1" filter="url(#b2)"/>
<rect x="73" y="330.4" width="10.5" height="2.6" fill="#1d1d1d" stroke="none" stroke-width="1" filter="url(#b2)"/>
<rect x="85.3" y="330.4" width="10.5" height="2.4" fill="#242424" stroke="none" stroke-width="1" filter="url(#b2)"/>
<rect x="99.1" y="331.2" width="10.3" height="1.6" fill="#7c7c7c" stroke="none" stroke-width="1" filter="url(#b2)"/>
<rect x="73" y="333.4" width="10.5" height="1.2" fill="#e7e7e7" stroke="none" stroke-width="1" filter="url(#b2)"/>
<rect x="85.3" y="333.4" width="10.5" height="1.2" fill="#e7e7e7" stroke="none" stroke-width="1" filter="url(#b2)"/>
<text x="51.6" y="332.7" font-size="7.2" font-weight="bold" text-anchor="end"><tspan font-style="italic">PU.1</tspan> 391 bp</text>
<rect x="58.8" y="339.2" width="12.4" height="9.6" fill="#efefef" stroke="none" stroke-width="1"/>
<rect x="72" y="339.2" width="25.2" height="9.6" fill="#efefef" stroke="none" stroke-width="1"/>
<rect x="98" y="339.2" width="12.8" height="9.6" fill="#efefef" stroke="none" stroke-width="1"/>
<rect x="111.6" y="339.2" width="12.4" height="9.6" fill="#f2f2f2" stroke="none" stroke-width="1"/>
<rect x="84.2" y="339.2" width="0.6" height="9.6" fill="#fff" stroke="none" stroke-width="1" fill-opacity="0.5"/>
<rect x="59.5" y="342" width="10.2" height="1.4" fill="#cacaca" stroke="none" stroke-width="1" filter="url(#b2)"/>
<rect x="59.5" y="345.3" width="10.2" height="1.6" fill="#646464" stroke="none" stroke-width="1" filter="url(#b2)"/>
<rect x="73" y="341.4" width="10.5" height="2.4" fill="#1d1d1d" stroke="none" stroke-width="1" filter="url(#b2)"/>
<rect x="73" y="344.45" width="10.5" height="2.3" fill="#1d1d1d" stroke="none" stroke-width="1" filter="url(#b2)"/>
<rect x="85.3" y="341.4" width="10.5" height="2.4" fill="#222222" stroke="none" stroke-width="1" filter="url(#b2)"/>
<rect x="85.3" y="344.45" width="10.5" height="2.3" fill="#222222" stroke="none" stroke-width="1" filter="url(#b2)"/>
<rect x="99.1" y="341.45" width="10.3" height="2.3" fill="#222222" stroke="none" stroke-width="1" filter="url(#b2)"/>
<rect x="99.1" y="344.5" width="10.3" height="2.2" fill="#292929" stroke="none" stroke-width="1" filter="url(#b2)"/>
<rect x="73" y="347.4" width="10.5" height="1.2" fill="#dbdbdb" stroke="none" stroke-width="1" filter="url(#b2)"/>
<rect x="85.3" y="347.4" width="10.5" height="1.2" fill="#dbdbdb" stroke="none" stroke-width="1" filter="url(#b2)"/>
<rect x="99.1" y="347.4" width="10.3" height="1.2" fill="#e2e2e2" stroke="none" stroke-width="1" filter="url(#b2)"/>
<text x="51.6" y="346.2" font-size="7.2" font-weight="bold" text-anchor="end"><tspan font-style="italic">Ikaros</tspan> 464 bp</text>
<rect x="58.8" y="351.8" width="12.4" height="10.2" fill="#efefef" stroke="none" stroke-width="1"/>
<rect x="72" y="351.8" width="25.2" height="10.2" fill="#efefef" stroke="none" stroke-width="1"/>
<rect x="98" y="351.8" width="12.8" height="10.2" fill="#efefef" stroke="none" stroke-width="1"/>
<rect x="111.6" y="351.8" width="12.4" height="10.2" fill="#f2f2f2" stroke="none" stroke-width="1"/>
<rect x="84.2" y="351.8" width="0.6" height="10.2" fill="#fff" stroke="none" stroke-width="1" fill-opacity="0.5"/>
<rect x="59.5" y="356.7" width="10.2" height="1.4" fill="#cfcfcf" stroke="none" stroke-width="1" filter="url(#b2)"/>
<rect x="73" y="356.4" width="10.5" height="2" fill="#242424" stroke="none" stroke-width="1" filter="url(#b2)"/>
<rect x="85.3" y="356.5" width="10.5" height="2" fill="#292929" stroke="none" stroke-width="1" filter="url(#b2)"/>
<rect x="99.1" y="356.05" width="10.3" height="2.5" fill="#2e2e2e" stroke="none" stroke-width="1" filter="url(#b2)"/>
<rect x="73" y="353" width="10.5" height="1.2" fill="#e2e2e2" stroke="none" stroke-width="1" filter="url(#b2)"/>
<rect x="85.3" y="353" width="10.5" height="1.2" fill="#e2e2e2" stroke="none" stroke-width="1" filter="url(#b2)"/>
<rect x="99.1" y="353" width="10.3" height="1.2" fill="#dddddd" stroke="none" stroke-width="1" filter="url(#b2)"/>
<text x="51.6" y="359.9" font-size="7.2" font-weight="bold" text-anchor="end"><tspan font-style="italic">Flt3</tspan> 624 bp</text>
<rect x="58.8" y="365.2" width="12.4" height="11" fill="#efefef" stroke="none" stroke-width="1"/>
<rect x="72" y="365.2" width="25.2" height="11" fill="#efefef" stroke="none" stroke-width="1"/>
<rect x="98" y="365.2" width="12.8" height="11" fill="#efefef" stroke="none" stroke-width="1"/>
<rect x="111.6" y="365.2" width="12.4" height="11" fill="#f2f2f2" stroke="none" stroke-width="1"/>
<rect x="84.2" y="365.2" width="0.6" height="11" fill="#fff" stroke="none" stroke-width="1" fill-opacity="0.5"/>
<rect x="59.5" y="370.3" width="10.2" height="1.4" fill="#dbdbdb" stroke="none" stroke-width="1" filter="url(#b2)"/>
<rect x="73" y="369.7" width="10.5" height="2.2" fill="#414141" stroke="none" stroke-width="1" filter="url(#b2)"/>
<rect x="85.3" y="369.8" width="10.5" height="2" fill="#4d4d4d" stroke="none" stroke-width="1" filter="url(#b2)"/>
<rect x="99.1" y="370.5" width="10.3" height="1.4" fill="#a0a0a0" stroke="none" stroke-width="1" filter="url(#b2)"/>
<text x="51.6" y="373.7" font-size="7.2" font-weight="bold" text-anchor="end"><tspan font-style="italic">IL-7Rα</tspan> 315 bp</text>
<rect x="58.8" y="379" width="12.4" height="11.3" fill="#efefef" stroke="none" stroke-width="1"/>
<rect x="72" y="379" width="25.2" height="11.3" fill="#efefef" stroke="none" stroke-width="1"/>
<rect x="98" y="379" width="12.8" height="11.3" fill="#efefef" stroke="none" stroke-width="1"/>
<rect x="111.6" y="379" width="12.4" height="11.3" fill="#f2f2f2" stroke="none" stroke-width="1"/>
<rect x="84.2" y="379" width="0.6" height="11.3" fill="#fff" stroke="none" stroke-width="1" fill-opacity="0.5"/>
<rect x="99.1" y="382.9" width="10.3" height="2.8" fill="#111111" stroke="none" stroke-width="1" filter="url(#b2)"/>
<rect x="99.1" y="380.4" width="10.3" height="1.2" fill="#cfcfcf" stroke="none" stroke-width="1" filter="url(#b2)"/>
<text x="51.6" y="387.7" font-size="7.2" font-weight="bold" text-anchor="end"><tspan font-style="italic">Gli1</tspan> 419 bp</text>
<rect x="58.8" y="392.7" width="12.4" height="11.3" fill="#efefef" stroke="none" stroke-width="1"/>
<rect x="72" y="392.7" width="25.2" height="11.3" fill="#efefef" stroke="none" stroke-width="1"/>
<rect x="98" y="392.7" width="12.8" height="11.3" fill="#efefef" stroke="none" stroke-width="1"/>
<rect x="111.6" y="392.7" width="12.4" height="11.3" fill="#f2f2f2" stroke="none" stroke-width="1"/>
<rect x="84.2" y="392.7" width="0.6" height="11.3" fill="#fff" stroke="none" stroke-width="1" fill-opacity="0.5"/>
<rect x="99.1" y="398.15" width="10.3" height="1.3" fill="#b7b7b7" stroke="none" stroke-width="1" filter="url(#b2)"/>
<text x="51.6" y="402" font-size="7.2" font-weight="bold" text-anchor="end"><tspan font-style="italic">Gli2</tspan> 320 bp</text>
<rect x="58.8" y="407" width="12.4" height="10.8" fill="#efefef" stroke="none" stroke-width="1"/>
<rect x="72" y="407" width="25.2" height="10.8" fill="#efefef" stroke="none" stroke-width="1"/>
<rect x="98" y="407" width="12.8" height="10.8" fill="#efefef" stroke="none" stroke-width="1"/>
<rect x="111.6" y="407" width="12.4" height="10.8" fill="#f2f2f2" stroke="none" stroke-width="1"/>
<rect x="84.2" y="407" width="0.6" height="10.8" fill="#fff" stroke="none" stroke-width="1" fill-opacity="0.5"/>
<rect x="99.1" y="411.6" width="10.3" height="2.4" fill="#1d1d1d" stroke="none" stroke-width="1" filter="url(#b2)"/>
<rect x="99.1" y="409" width="10.3" height="1.2" fill="#cfcfcf" stroke="none" stroke-width="1" filter="url(#b2)"/>
<text x="51.6" y="416.2" font-size="7.2" font-weight="bold" text-anchor="end"><tspan font-style="italic">Gli3</tspan> 400 bp</text>
<rect x="58.8" y="421" width="12.4" height="11.2" fill="#e6e6e6" stroke="none" stroke-width="1"/>
<rect x="72" y="421" width="25.2" height="11.2" fill="#e6e6e6" stroke="none" stroke-width="1"/>
<rect x="98" y="421" width="12.8" height="11.2" fill="#e6e6e6" stroke="none" stroke-width="1"/>
<rect x="111.6" y="421" width="12.4" height="11.2" fill="#f2f2f2" stroke="none" stroke-width="1"/>
<rect x="84.2" y="421" width="0.6" height="11.2" fill="#fff" stroke="none" stroke-width="1" fill-opacity="0.5"/>
<rect x="73" y="424.1" width="10.5" height="2" fill="#545454" stroke="none" stroke-width="1" filter="url(#b2)"/>
<rect x="85.3" y="424.3" width="10.5" height="1.6" fill="#6b6b6b" stroke="none" stroke-width="1" filter="url(#b2)"/>
<rect x="73" y="427.5" width="10.5" height="1.4" fill="#cfcfcf" stroke="none" stroke-width="1" filter="url(#b2)"/>
<rect x="85.3" y="427.5" width="10.5" height="1.4" fill="#dbdbdb" stroke="none" stroke-width="1" filter="url(#b2)"/>
<rect x="99.1" y="422.5" width="10.3" height="5" fill="#222222" stroke="none" stroke-width="1" filter="url(#b2)"/>
<rect x="99.1" y="427.5" width="10.3" height="2.6" fill="#a0a0a0" stroke="none" stroke-width="1" filter="url(#b2)"/>
<rect x="58.8" y="435.4" width="12.4" height="11.6" fill="#d6d6d6" stroke="none" stroke-width="1"/>
<rect x="72" y="435.4" width="25.2" height="11.6" fill="#d6d6d6" stroke="none" stroke-width="1"/>
<rect x="98" y="435.4" width="12.8" height="11.6" fill="#d6d6d6" stroke="none" stroke-width="1"/>
<rect x="111.6" y="435.4" width="12.4" height="11.6" fill="#e2e2e2" stroke="none" stroke-width="1"/>
<rect x="84.2" y="435.4" width="0.6" height="11.6" fill="#fff" stroke="none" stroke-width="1" fill-opacity="0.5"/>
<rect x="59.5" y="440" width="10.2" height="2" fill="#1d1d1d" stroke="none" stroke-width="1" filter="url(#b2)"/>
<rect x="73" y="440" width="10.5" height="2" fill="#1d1d1d" stroke="none" stroke-width="1" filter="url(#b2)"/>
<rect x="85.3" y="440" width="10.5" height="2" fill="#1d1d1d" stroke="none" stroke-width="1" filter="url(#b2)"/>
<rect x="99.1" y="440.05" width="10.3" height="1.9" fill="#292929" stroke="none" stroke-width="1" filter="url(#b2)"/>
<text x="51.6" y="443.2" font-size="7.2" font-weight="bold" text-anchor="end"><tspan font-style="italic">ß-actin</tspan> 646 bp</text>
<text x="51.6" y="425.8" font-size="7.2" font-weight="bold" text-anchor="end">wt <tspan font-style="italic">Ptch</tspan> 731 bp</text>
<text x="51.6" y="432.9" font-size="7.2" font-weight="bold" text-anchor="end"><tspan font-style="italic">Ptch</tspan><tspan font-size="3.5" dy="-2.4">del</tspan><tspan dy="2.4"> 451 bp</tspan></text>
</svg>
</body></html>
